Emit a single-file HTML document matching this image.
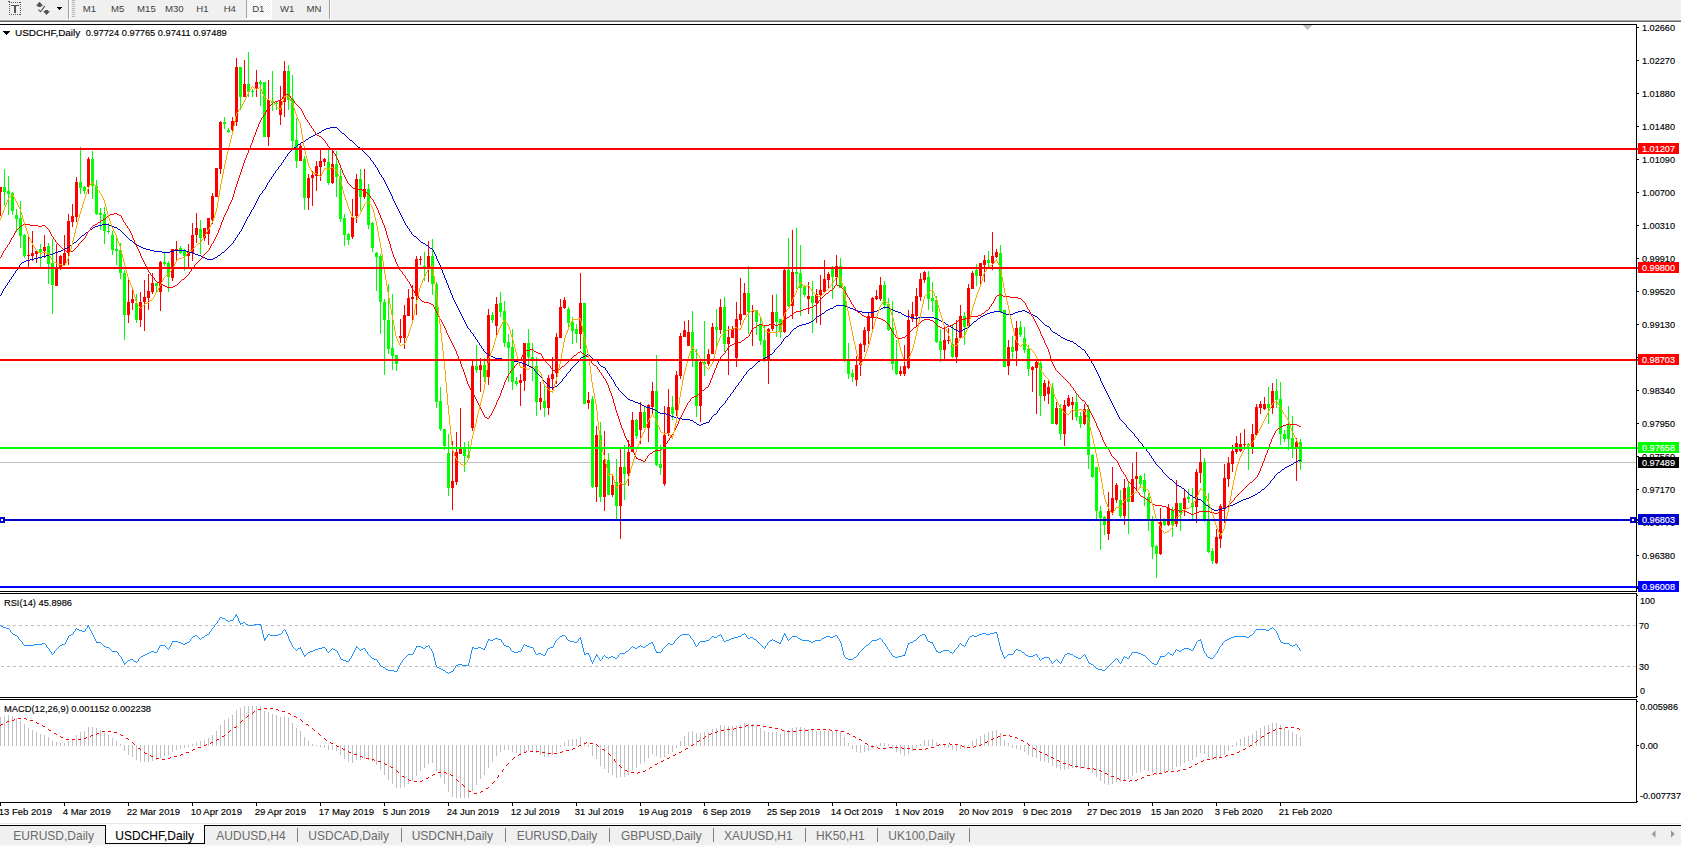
<!DOCTYPE html>
<html><head><meta charset="utf-8"><title>USDCHF,Daily</title>
<style>
html,body{margin:0;padding:0;background:#fff;overflow:hidden}
body{width:1681px;height:847px;position:relative;font-family:"Liberation Sans",sans-serif}
svg{position:absolute;left:0;top:0;display:block;font-family:"Liberation Sans",sans-serif}
svg rect,svg polyline,svg line{shape-rendering:crispEdges}
</style></head><body>
<svg width="1681" height="847" viewBox="0 0 1681 847">
<rect x="0" y="0" width="1681" height="20" fill="#f0f0f0"/>
<rect x="0" y="19" width="1681" height="1" fill="#f7f7f7"/>
<rect x="0" y="20" width="1681" height="1" fill="#a0a0a0"/>
<rect x="0" y="21" width="1681" height="1" fill="#696969"/>
<rect x="9" y="2" width="1" height="1" fill="#555555"/>
<rect x="9" y="14" width="1" height="1" fill="#555555"/>
<rect x="11" y="2" width="1" height="1" fill="#555555"/>
<rect x="11" y="14" width="1" height="1" fill="#555555"/>
<rect x="13" y="2" width="1" height="1" fill="#555555"/>
<rect x="13" y="14" width="1" height="1" fill="#555555"/>
<rect x="15" y="2" width="1" height="1" fill="#555555"/>
<rect x="15" y="14" width="1" height="1" fill="#555555"/>
<rect x="17" y="2" width="1" height="1" fill="#555555"/>
<rect x="17" y="14" width="1" height="1" fill="#555555"/>
<rect x="19" y="2" width="1" height="1" fill="#555555"/>
<rect x="19" y="14" width="1" height="1" fill="#555555"/>
<rect x="9" y="2" width="1" height="1" fill="#555555"/>
<rect x="20" y="2" width="1" height="1" fill="#555555"/>
<rect x="9" y="4" width="1" height="1" fill="#555555"/>
<rect x="20" y="4" width="1" height="1" fill="#555555"/>
<rect x="9" y="6" width="1" height="1" fill="#555555"/>
<rect x="20" y="6" width="1" height="1" fill="#555555"/>
<rect x="9" y="8" width="1" height="1" fill="#555555"/>
<rect x="20" y="8" width="1" height="1" fill="#555555"/>
<rect x="9" y="10" width="1" height="1" fill="#555555"/>
<rect x="20" y="10" width="1" height="1" fill="#555555"/>
<rect x="9" y="12" width="1" height="1" fill="#555555"/>
<rect x="20" y="12" width="1" height="1" fill="#555555"/>
<rect x="9" y="14" width="1" height="1" fill="#555555"/>
<rect x="20" y="14" width="1" height="1" fill="#555555"/>
<rect x="8" y="1" width="2" height="1" fill="#555555"/>
<rect x="11" y="5" width="8" height="1" fill="#555555"/>
<rect x="14" y="5" width="2" height="8" fill="#555555"/>
<path d="M39.5 1.8 L43.2 5.8 L41.3 5.8 L41.3 6.9 L37.8 6.9 L37.8 5.8 L35.9 5.8 Z" fill="#555"/>
<path d="M46.5 15 L50.1 11.3 L48.2 11.3 L48.2 10 L44.8 10 L44.8 11.3 L43 11.3 Z" fill="#555"/>
<path d="M38.2 9.7 L40.5 11.6 L44.8 6.2" fill="none" stroke="#555" stroke-width="1.1" shape-rendering="geometricPrecision"/>
<rect x="57" y="7" width="5" height="1" fill="#000"/>
<rect x="58" y="8" width="3" height="1" fill="#000"/>
<rect x="59" y="9" width="1" height="1" fill="#000"/>
<rect x="68" y="0" width="1" height="19" fill="#a0a0a0"/>
<rect x="69" y="0" width="1" height="19" fill="#ffffff"/>
<rect x="72" y="0" width="3" height="1" fill="#b4b4b4"/>
<rect x="72" y="2" width="3" height="1" fill="#b4b4b4"/>
<rect x="72" y="4" width="3" height="1" fill="#b4b4b4"/>
<rect x="72" y="6" width="3" height="1" fill="#b4b4b4"/>
<rect x="72" y="8" width="3" height="1" fill="#b4b4b4"/>
<rect x="72" y="10" width="3" height="1" fill="#b4b4b4"/>
<rect x="72" y="12" width="3" height="1" fill="#b4b4b4"/>
<rect x="72" y="14" width="3" height="1" fill="#b4b4b4"/>
<rect x="72" y="16" width="3" height="1" fill="#b4b4b4"/>
<pattern id="dz" width="2" height="2" patternUnits="userSpaceOnUse"><rect width="2" height="2" fill="#f0f0f0"/><rect width="1" height="1" fill="#fff"/><rect x="1" y="1" width="1" height="1" fill="#fff"/></pattern>
<rect x="247" y="0" width="24" height="18" fill="url(#dz)"/>
<rect x="246" y="0" width="1" height="18" fill="#a0a0a0"/>
<rect x="271" y="0" width="1" height="19" fill="#ffffff"/>
<rect x="246" y="18" width="26" height="1" fill="#ffffff"/>
<rect x="329" y="0" width="1" height="19" fill="#a0a0a0"/>
<rect x="330" y="0" width="1" height="19" fill="#ffffff"/>
<g opacity="0.999">
<text x="82.83" y="12" font-size="9.4" fill="#404040" textLength="13.34" lengthAdjust="spacingAndGlyphs" xml:space="preserve" stroke="#404040" stroke-width="0" >M1</text>
<text x="111.03" y="12" font-size="9.4" fill="#404040" textLength="13.34" lengthAdjust="spacingAndGlyphs" xml:space="preserve" stroke="#404040" stroke-width="0" >M5</text>
<text x="137.06" y="12" font-size="9.4" fill="#404040" textLength="18.68" lengthAdjust="spacingAndGlyphs" xml:space="preserve" stroke="#404040" stroke-width="0" >M15</text>
<text x="164.96" y="12" font-size="9.4" fill="#404040" textLength="18.68" lengthAdjust="spacingAndGlyphs" xml:space="preserve" stroke="#404040" stroke-width="0" >M30</text>
<text x="196.36" y="12" font-size="9.4" fill="#404040" textLength="12.27" lengthAdjust="spacingAndGlyphs" xml:space="preserve" stroke="#404040" stroke-width="0" >H1</text>
<text x="223.66" y="12" font-size="9.4" fill="#404040" textLength="12.27" lengthAdjust="spacingAndGlyphs" xml:space="preserve" stroke="#404040" stroke-width="0" >H4</text>
<text x="252.16" y="12" font-size="9.4" fill="#404040" textLength="12.27" lengthAdjust="spacingAndGlyphs" xml:space="preserve" stroke="#404040" stroke-width="0" >D1</text>
<text x="279.90" y="12" font-size="9.4" fill="#404040" textLength="14.40" lengthAdjust="spacingAndGlyphs" xml:space="preserve" stroke="#404040" stroke-width="0" >W1</text>
<text x="306.54" y="12" font-size="9.4" fill="#404040" textLength="14.93" lengthAdjust="spacingAndGlyphs" xml:space="preserve" stroke="#404040" stroke-width="0" >MN</text>
</g>
<rect x="0" y="24" width="1637" height="1" fill="#000"/>
<rect x="1636" y="24" width="1" height="568" fill="#000"/>
<rect x="0" y="591" width="1637" height="1" fill="#000"/>
<rect x="0" y="593" width="1637" height="1" fill="#000"/>
<rect x="1636" y="593" width="1" height="105" fill="#000"/>
<rect x="0" y="697" width="1637" height="1" fill="#000"/>
<rect x="0" y="699" width="1637" height="1" fill="#000"/>
<rect x="1636" y="699" width="1" height="104" fill="#000"/>
<rect x="0" y="802" width="1637" height="1" fill="#000"/>
<rect x="1303" y="25" width="9" height="1" fill="#c0c0c0"/>
<rect x="1304" y="26" width="7" height="1" fill="#c0c0c0"/>
<rect x="1305" y="27" width="5" height="1" fill="#c0c0c0"/>
<rect x="1306" y="28" width="3" height="1" fill="#c0c0c0"/>
<rect x="1307" y="29" width="1" height="1" fill="#c0c0c0"/>
<rect x="0" y="462" width="1636" height="1" fill="#c0c0c0"/>
<rect x="0" y="187" width="1" height="29" fill="#ff0000"/>
<rect x="-1" y="187" width="3" height="5" fill="#ff0000"/>
<rect x="4" y="169" width="1" height="37" fill="#00ff00"/>
<rect x="3" y="187" width="3" height="5" fill="#00ff00"/>
<rect x="8" y="176" width="1" height="39" fill="#00ff00"/>
<rect x="7" y="191" width="3" height="3" fill="#00ff00"/>
<rect x="12" y="192" width="1" height="23" fill="#00ff00"/>
<rect x="11" y="193" width="3" height="18" fill="#00ff00"/>
<rect x="16" y="209" width="1" height="23" fill="#00ff00"/>
<rect x="15" y="215" width="3" height="4" fill="#00ff00"/>
<rect x="20" y="201" width="1" height="47" fill="#00ff00"/>
<rect x="19" y="218" width="3" height="18" fill="#00ff00"/>
<rect x="24" y="234" width="1" height="24" fill="#00ff00"/>
<rect x="23" y="235" width="3" height="21" fill="#00ff00"/>
<rect x="28" y="235" width="1" height="32" fill="#ff0000"/>
<rect x="27" y="255" width="3" height="1" fill="#ff0000"/>
<rect x="32" y="231" width="1" height="30" fill="#ff0000"/>
<rect x="31" y="253" width="3" height="3" fill="#ff0000"/>
<rect x="36" y="250" width="1" height="13" fill="#ff0000"/>
<rect x="35" y="251" width="3" height="3" fill="#ff0000"/>
<rect x="40" y="244" width="1" height="23" fill="#00ff00"/>
<rect x="39" y="249" width="3" height="3" fill="#00ff00"/>
<rect x="44" y="235" width="1" height="23" fill="#ff0000"/>
<rect x="43" y="247" width="3" height="4" fill="#ff0000"/>
<rect x="48" y="243" width="1" height="41" fill="#00ff00"/>
<rect x="47" y="246" width="3" height="18" fill="#00ff00"/>
<rect x="52" y="239" width="1" height="75" fill="#00ff00"/>
<rect x="51" y="263" width="3" height="22" fill="#00ff00"/>
<rect x="56" y="244" width="1" height="42" fill="#ff0000"/>
<rect x="55" y="268" width="3" height="18" fill="#ff0000"/>
<rect x="60" y="255" width="1" height="15" fill="#ff0000"/>
<rect x="59" y="256" width="3" height="13" fill="#ff0000"/>
<rect x="64" y="235" width="1" height="31" fill="#ff0000"/>
<rect x="63" y="253" width="3" height="12" fill="#ff0000"/>
<rect x="68" y="214" width="1" height="51" fill="#ff0000"/>
<rect x="67" y="221" width="3" height="32" fill="#ff0000"/>
<rect x="72" y="204" width="1" height="23" fill="#ff0000"/>
<rect x="71" y="216" width="3" height="6" fill="#ff0000"/>
<rect x="76" y="177" width="1" height="45" fill="#ff0000"/>
<rect x="75" y="182" width="3" height="35" fill="#ff0000"/>
<rect x="80" y="147" width="1" height="47" fill="#00ff00"/>
<rect x="79" y="182" width="3" height="6" fill="#00ff00"/>
<rect x="84" y="186" width="1" height="8" fill="#00ff00"/>
<rect x="83" y="187" width="3" height="4" fill="#00ff00"/>
<rect x="88" y="157" width="1" height="37" fill="#ff0000"/>
<rect x="87" y="159" width="3" height="28" fill="#ff0000"/>
<rect x="92" y="151" width="1" height="48" fill="#00ff00"/>
<rect x="91" y="159" width="3" height="27" fill="#00ff00"/>
<rect x="96" y="180" width="1" height="35" fill="#00ff00"/>
<rect x="95" y="186" width="3" height="28" fill="#00ff00"/>
<rect x="100" y="208" width="1" height="22" fill="#00ff00"/>
<rect x="99" y="213" width="3" height="2" fill="#00ff00"/>
<rect x="104" y="207" width="1" height="37" fill="#00ff00"/>
<rect x="103" y="214" width="3" height="17" fill="#00ff00"/>
<rect x="108" y="223" width="1" height="11" fill="#00ff00"/>
<rect x="107" y="231" width="3" height="1" fill="#00ff00"/>
<rect x="112" y="231" width="1" height="24" fill="#00ff00"/>
<rect x="111" y="235" width="3" height="15" fill="#00ff00"/>
<rect x="116" y="237" width="1" height="28" fill="#00ff00"/>
<rect x="115" y="249" width="3" height="2" fill="#00ff00"/>
<rect x="120" y="243" width="1" height="36" fill="#00ff00"/>
<rect x="119" y="250" width="3" height="23" fill="#00ff00"/>
<rect x="124" y="270" width="1" height="70" fill="#00ff00"/>
<rect x="123" y="273" width="3" height="42" fill="#00ff00"/>
<rect x="128" y="280" width="1" height="43" fill="#ff0000"/>
<rect x="127" y="302" width="3" height="13" fill="#ff0000"/>
<rect x="132" y="290" width="1" height="20" fill="#ff0000"/>
<rect x="131" y="299" width="3" height="4" fill="#ff0000"/>
<rect x="136" y="294" width="1" height="29" fill="#00ff00"/>
<rect x="135" y="303" width="3" height="17" fill="#00ff00"/>
<rect x="140" y="292" width="1" height="35" fill="#ff0000"/>
<rect x="139" y="302" width="3" height="18" fill="#ff0000"/>
<rect x="144" y="280" width="1" height="51" fill="#ff0000"/>
<rect x="143" y="297" width="3" height="5" fill="#ff0000"/>
<rect x="148" y="274" width="1" height="36" fill="#ff0000"/>
<rect x="147" y="291" width="3" height="7" fill="#ff0000"/>
<rect x="152" y="273" width="1" height="21" fill="#ff0000"/>
<rect x="151" y="283" width="3" height="9" fill="#ff0000"/>
<rect x="156" y="283" width="1" height="10" fill="#00ff00"/>
<rect x="155" y="283" width="3" height="3" fill="#00ff00"/>
<rect x="160" y="261" width="1" height="50" fill="#ff0000"/>
<rect x="159" y="262" width="3" height="30" fill="#ff0000"/>
<rect x="164" y="253" width="1" height="13" fill="#00ff00"/>
<rect x="163" y="262" width="3" height="2" fill="#00ff00"/>
<rect x="168" y="261" width="1" height="31" fill="#00ff00"/>
<rect x="167" y="263" width="3" height="14" fill="#00ff00"/>
<rect x="172" y="249" width="1" height="32" fill="#ff0000"/>
<rect x="171" y="249" width="3" height="29" fill="#ff0000"/>
<rect x="176" y="241" width="1" height="21" fill="#ff0000"/>
<rect x="175" y="249" width="3" height="1" fill="#ff0000"/>
<rect x="180" y="246" width="1" height="8" fill="#00ff00"/>
<rect x="179" y="248" width="3" height="5" fill="#00ff00"/>
<rect x="184" y="249" width="1" height="22" fill="#00ff00"/>
<rect x="183" y="251" width="3" height="5" fill="#00ff00"/>
<rect x="188" y="244" width="1" height="24" fill="#ff0000"/>
<rect x="187" y="251" width="3" height="5" fill="#ff0000"/>
<rect x="192" y="223" width="1" height="38" fill="#ff0000"/>
<rect x="191" y="235" width="3" height="18" fill="#ff0000"/>
<rect x="196" y="213" width="1" height="30" fill="#ff0000"/>
<rect x="195" y="228" width="3" height="7" fill="#ff0000"/>
<rect x="200" y="220" width="1" height="34" fill="#00ff00"/>
<rect x="199" y="229" width="3" height="9" fill="#00ff00"/>
<rect x="204" y="228" width="1" height="13" fill="#ff0000"/>
<rect x="203" y="228" width="3" height="10" fill="#ff0000"/>
<rect x="208" y="218" width="1" height="27" fill="#ff0000"/>
<rect x="207" y="218" width="3" height="16" fill="#ff0000"/>
<rect x="212" y="193" width="1" height="31" fill="#ff0000"/>
<rect x="211" y="196" width="3" height="24" fill="#ff0000"/>
<rect x="216" y="168" width="1" height="29" fill="#ff0000"/>
<rect x="215" y="168" width="3" height="29" fill="#ff0000"/>
<rect x="220" y="121" width="1" height="53" fill="#ff0000"/>
<rect x="219" y="122" width="3" height="47" fill="#ff0000"/>
<rect x="224" y="117" width="1" height="12" fill="#00ff00"/>
<rect x="223" y="122" width="3" height="2" fill="#00ff00"/>
<rect x="228" y="128" width="1" height="5" fill="#00ff00"/>
<rect x="227" y="130" width="3" height="2" fill="#00ff00"/>
<rect x="232" y="117" width="1" height="14" fill="#ff0000"/>
<rect x="231" y="121" width="3" height="9" fill="#ff0000"/>
<rect x="236" y="58" width="1" height="68" fill="#ff0000"/>
<rect x="235" y="67" width="3" height="55" fill="#ff0000"/>
<rect x="240" y="67" width="1" height="43" fill="#00ff00"/>
<rect x="239" y="67" width="3" height="30" fill="#00ff00"/>
<rect x="244" y="60" width="1" height="37" fill="#ff0000"/>
<rect x="243" y="84" width="3" height="13" fill="#ff0000"/>
<rect x="248" y="52" width="1" height="45" fill="#00ff00"/>
<rect x="247" y="84" width="3" height="8" fill="#00ff00"/>
<rect x="252" y="89" width="1" height="8" fill="#00ff00"/>
<rect x="251" y="91" width="3" height="1" fill="#00ff00"/>
<rect x="256" y="70" width="1" height="27" fill="#ff0000"/>
<rect x="255" y="82" width="3" height="6" fill="#ff0000"/>
<rect x="260" y="80" width="1" height="26" fill="#00ff00"/>
<rect x="259" y="82" width="3" height="2" fill="#00ff00"/>
<rect x="264" y="82" width="1" height="55" fill="#00ff00"/>
<rect x="263" y="82" width="3" height="55" fill="#00ff00"/>
<rect x="268" y="80" width="1" height="66" fill="#ff0000"/>
<rect x="267" y="100" width="3" height="37" fill="#ff0000"/>
<rect x="272" y="71" width="1" height="40" fill="#00ff00"/>
<rect x="271" y="101" width="3" height="2" fill="#00ff00"/>
<rect x="276" y="102" width="1" height="8" fill="#00ff00"/>
<rect x="275" y="103" width="3" height="1" fill="#00ff00"/>
<rect x="280" y="86" width="1" height="39" fill="#ff0000"/>
<rect x="279" y="101" width="3" height="14" fill="#ff0000"/>
<rect x="284" y="61" width="1" height="56" fill="#ff0000"/>
<rect x="283" y="71" width="3" height="31" fill="#ff0000"/>
<rect x="288" y="65" width="1" height="45" fill="#00ff00"/>
<rect x="287" y="71" width="3" height="29" fill="#00ff00"/>
<rect x="292" y="75" width="1" height="73" fill="#00ff00"/>
<rect x="291" y="99" width="3" height="42" fill="#00ff00"/>
<rect x="296" y="118" width="1" height="50" fill="#00ff00"/>
<rect x="295" y="140" width="3" height="21" fill="#00ff00"/>
<rect x="300" y="143" width="1" height="18" fill="#ff0000"/>
<rect x="299" y="146" width="3" height="15" fill="#ff0000"/>
<rect x="304" y="156" width="1" height="54" fill="#00ff00"/>
<rect x="303" y="159" width="3" height="39" fill="#00ff00"/>
<rect x="308" y="174" width="1" height="36" fill="#ff0000"/>
<rect x="307" y="178" width="3" height="20" fill="#ff0000"/>
<rect x="312" y="171" width="1" height="35" fill="#ff0000"/>
<rect x="311" y="175" width="3" height="3" fill="#ff0000"/>
<rect x="316" y="161" width="1" height="30" fill="#ff0000"/>
<rect x="315" y="166" width="3" height="10" fill="#ff0000"/>
<rect x="320" y="150" width="1" height="31" fill="#ff0000"/>
<rect x="319" y="161" width="3" height="6" fill="#ff0000"/>
<rect x="324" y="158" width="1" height="8" fill="#ff0000"/>
<rect x="323" y="159" width="3" height="3" fill="#ff0000"/>
<rect x="328" y="150" width="1" height="35" fill="#00ff00"/>
<rect x="327" y="162" width="3" height="21" fill="#00ff00"/>
<rect x="332" y="150" width="1" height="34" fill="#ff0000"/>
<rect x="331" y="164" width="3" height="19" fill="#ff0000"/>
<rect x="336" y="151" width="1" height="46" fill="#00ff00"/>
<rect x="335" y="164" width="3" height="13" fill="#00ff00"/>
<rect x="340" y="169" width="1" height="53" fill="#00ff00"/>
<rect x="339" y="176" width="3" height="43" fill="#00ff00"/>
<rect x="344" y="214" width="1" height="32" fill="#00ff00"/>
<rect x="343" y="218" width="3" height="17" fill="#00ff00"/>
<rect x="348" y="233" width="1" height="12" fill="#00ff00"/>
<rect x="347" y="234" width="3" height="6" fill="#00ff00"/>
<rect x="352" y="199" width="1" height="40" fill="#ff0000"/>
<rect x="351" y="217" width="3" height="20" fill="#ff0000"/>
<rect x="356" y="174" width="1" height="49" fill="#ff0000"/>
<rect x="355" y="179" width="3" height="37" fill="#ff0000"/>
<rect x="360" y="169" width="1" height="42" fill="#00ff00"/>
<rect x="359" y="179" width="3" height="18" fill="#00ff00"/>
<rect x="364" y="169" width="1" height="30" fill="#ff0000"/>
<rect x="363" y="189" width="3" height="8" fill="#ff0000"/>
<rect x="368" y="184" width="1" height="45" fill="#00ff00"/>
<rect x="367" y="189" width="3" height="36" fill="#00ff00"/>
<rect x="372" y="222" width="1" height="30" fill="#00ff00"/>
<rect x="371" y="223" width="3" height="25" fill="#00ff00"/>
<rect x="376" y="252" width="1" height="39" fill="#00ff00"/>
<rect x="375" y="253" width="3" height="4" fill="#00ff00"/>
<rect x="380" y="254" width="1" height="80" fill="#00ff00"/>
<rect x="379" y="256" width="3" height="46" fill="#00ff00"/>
<rect x="384" y="299" width="1" height="76" fill="#00ff00"/>
<rect x="383" y="302" width="3" height="18" fill="#00ff00"/>
<rect x="388" y="284" width="1" height="70" fill="#00ff00"/>
<rect x="387" y="320" width="3" height="29" fill="#00ff00"/>
<rect x="392" y="294" width="1" height="76" fill="#00ff00"/>
<rect x="391" y="348" width="3" height="8" fill="#00ff00"/>
<rect x="396" y="355" width="1" height="16" fill="#00ff00"/>
<rect x="395" y="355" width="3" height="9" fill="#00ff00"/>
<rect x="400" y="319" width="1" height="24" fill="#ff0000"/>
<rect x="399" y="336" width="3" height="2" fill="#ff0000"/>
<rect x="404" y="305" width="1" height="44" fill="#ff0000"/>
<rect x="403" y="315" width="3" height="23" fill="#ff0000"/>
<rect x="408" y="289" width="1" height="27" fill="#ff0000"/>
<rect x="407" y="298" width="3" height="18" fill="#ff0000"/>
<rect x="412" y="285" width="1" height="35" fill="#ff0000"/>
<rect x="411" y="297" width="3" height="2" fill="#ff0000"/>
<rect x="416" y="256" width="1" height="59" fill="#ff0000"/>
<rect x="415" y="259" width="3" height="37" fill="#ff0000"/>
<rect x="420" y="256" width="1" height="9" fill="#ff0000"/>
<rect x="419" y="259" width="3" height="1" fill="#ff0000"/>
<rect x="424" y="252" width="1" height="29" fill="#00ff00"/>
<rect x="423" y="266" width="3" height="1" fill="#00ff00"/>
<rect x="428" y="241" width="1" height="41" fill="#ff0000"/>
<rect x="427" y="256" width="3" height="12" fill="#ff0000"/>
<rect x="432" y="239" width="1" height="56" fill="#00ff00"/>
<rect x="431" y="256" width="3" height="28" fill="#00ff00"/>
<rect x="436" y="282" width="1" height="126" fill="#00ff00"/>
<rect x="435" y="284" width="3" height="118" fill="#00ff00"/>
<rect x="440" y="387" width="1" height="44" fill="#00ff00"/>
<rect x="439" y="401" width="3" height="28" fill="#00ff00"/>
<rect x="444" y="429" width="1" height="21" fill="#00ff00"/>
<rect x="443" y="429" width="3" height="17" fill="#00ff00"/>
<rect x="448" y="434" width="1" height="62" fill="#00ff00"/>
<rect x="447" y="453" width="3" height="35" fill="#00ff00"/>
<rect x="452" y="441" width="1" height="69" fill="#ff0000"/>
<rect x="451" y="481" width="3" height="7" fill="#ff0000"/>
<rect x="456" y="432" width="1" height="53" fill="#ff0000"/>
<rect x="455" y="452" width="3" height="30" fill="#ff0000"/>
<rect x="460" y="408" width="1" height="46" fill="#ff0000"/>
<rect x="459" y="449" width="3" height="5" fill="#ff0000"/>
<rect x="464" y="442" width="1" height="30" fill="#00ff00"/>
<rect x="463" y="448" width="3" height="8" fill="#00ff00"/>
<rect x="468" y="441" width="1" height="18" fill="#00ff00"/>
<rect x="467" y="455" width="3" height="3" fill="#00ff00"/>
<rect x="472" y="360" width="1" height="71" fill="#ff0000"/>
<rect x="471" y="366" width="3" height="62" fill="#ff0000"/>
<rect x="476" y="345" width="1" height="28" fill="#00ff00"/>
<rect x="475" y="366" width="3" height="4" fill="#00ff00"/>
<rect x="480" y="358" width="1" height="34" fill="#ff0000"/>
<rect x="479" y="365" width="3" height="5" fill="#ff0000"/>
<rect x="484" y="358" width="1" height="24" fill="#00ff00"/>
<rect x="483" y="365" width="3" height="12" fill="#00ff00"/>
<rect x="488" y="309" width="1" height="76" fill="#ff0000"/>
<rect x="487" y="315" width="3" height="62" fill="#ff0000"/>
<rect x="492" y="312" width="1" height="11" fill="#00ff00"/>
<rect x="491" y="315" width="3" height="5" fill="#00ff00"/>
<rect x="496" y="297" width="1" height="38" fill="#ff0000"/>
<rect x="495" y="304" width="3" height="22" fill="#ff0000"/>
<rect x="500" y="292" width="1" height="25" fill="#00ff00"/>
<rect x="499" y="303" width="3" height="9" fill="#00ff00"/>
<rect x="504" y="301" width="1" height="46" fill="#00ff00"/>
<rect x="503" y="311" width="3" height="32" fill="#00ff00"/>
<rect x="508" y="334" width="1" height="48" fill="#00ff00"/>
<rect x="507" y="342" width="3" height="6" fill="#00ff00"/>
<rect x="512" y="329" width="1" height="61" fill="#00ff00"/>
<rect x="511" y="347" width="3" height="35" fill="#00ff00"/>
<rect x="516" y="377" width="1" height="9" fill="#00ff00"/>
<rect x="515" y="381" width="3" height="3" fill="#00ff00"/>
<rect x="520" y="374" width="1" height="32" fill="#ff0000"/>
<rect x="519" y="380" width="3" height="3" fill="#ff0000"/>
<rect x="524" y="343" width="1" height="48" fill="#ff0000"/>
<rect x="523" y="343" width="3" height="38" fill="#ff0000"/>
<rect x="528" y="329" width="1" height="36" fill="#00ff00"/>
<rect x="527" y="343" width="3" height="14" fill="#00ff00"/>
<rect x="532" y="343" width="1" height="38" fill="#00ff00"/>
<rect x="531" y="357" width="3" height="3" fill="#00ff00"/>
<rect x="536" y="357" width="1" height="59" fill="#00ff00"/>
<rect x="535" y="366" width="3" height="36" fill="#00ff00"/>
<rect x="540" y="382" width="1" height="28" fill="#ff0000"/>
<rect x="539" y="398" width="3" height="4" fill="#ff0000"/>
<rect x="544" y="385" width="1" height="32" fill="#00ff00"/>
<rect x="543" y="401" width="3" height="7" fill="#00ff00"/>
<rect x="548" y="375" width="1" height="40" fill="#ff0000"/>
<rect x="547" y="378" width="3" height="30" fill="#ff0000"/>
<rect x="552" y="357" width="1" height="33" fill="#ff0000"/>
<rect x="551" y="374" width="3" height="5" fill="#ff0000"/>
<rect x="556" y="333" width="1" height="51" fill="#ff0000"/>
<rect x="555" y="337" width="3" height="36" fill="#ff0000"/>
<rect x="560" y="299" width="1" height="39" fill="#ff0000"/>
<rect x="559" y="307" width="3" height="31" fill="#ff0000"/>
<rect x="564" y="297" width="1" height="12" fill="#ff0000"/>
<rect x="563" y="300" width="3" height="8" fill="#ff0000"/>
<rect x="568" y="307" width="1" height="20" fill="#00ff00"/>
<rect x="567" y="309" width="3" height="14" fill="#00ff00"/>
<rect x="572" y="317" width="1" height="27" fill="#00ff00"/>
<rect x="571" y="322" width="3" height="9" fill="#00ff00"/>
<rect x="576" y="324" width="1" height="19" fill="#00ff00"/>
<rect x="575" y="329" width="3" height="5" fill="#00ff00"/>
<rect x="580" y="273" width="1" height="76" fill="#ff0000"/>
<rect x="579" y="303" width="3" height="31" fill="#ff0000"/>
<rect x="584" y="303" width="1" height="101" fill="#00ff00"/>
<rect x="583" y="303" width="3" height="101" fill="#00ff00"/>
<rect x="588" y="392" width="1" height="17" fill="#ff0000"/>
<rect x="587" y="400" width="3" height="3" fill="#ff0000"/>
<rect x="592" y="396" width="1" height="92" fill="#00ff00"/>
<rect x="591" y="399" width="3" height="88" fill="#00ff00"/>
<rect x="596" y="426" width="1" height="76" fill="#ff0000"/>
<rect x="595" y="435" width="3" height="52" fill="#ff0000"/>
<rect x="600" y="422" width="1" height="80" fill="#00ff00"/>
<rect x="599" y="435" width="3" height="62" fill="#00ff00"/>
<rect x="604" y="431" width="1" height="80" fill="#ff0000"/>
<rect x="603" y="460" width="3" height="37" fill="#ff0000"/>
<rect x="608" y="453" width="1" height="42" fill="#00ff00"/>
<rect x="607" y="460" width="3" height="35" fill="#00ff00"/>
<rect x="612" y="476" width="1" height="21" fill="#ff0000"/>
<rect x="611" y="485" width="3" height="10" fill="#ff0000"/>
<rect x="616" y="459" width="1" height="60" fill="#00ff00"/>
<rect x="615" y="482" width="3" height="24" fill="#00ff00"/>
<rect x="620" y="449" width="1" height="90" fill="#ff0000"/>
<rect x="619" y="467" width="3" height="39" fill="#ff0000"/>
<rect x="624" y="445" width="1" height="55" fill="#00ff00"/>
<rect x="623" y="467" width="3" height="7" fill="#00ff00"/>
<rect x="628" y="440" width="1" height="46" fill="#ff0000"/>
<rect x="627" y="452" width="3" height="22" fill="#ff0000"/>
<rect x="632" y="412" width="1" height="40" fill="#ff0000"/>
<rect x="631" y="420" width="3" height="32" fill="#ff0000"/>
<rect x="636" y="419" width="1" height="20" fill="#00ff00"/>
<rect x="635" y="420" width="3" height="16" fill="#00ff00"/>
<rect x="640" y="402" width="1" height="42" fill="#ff0000"/>
<rect x="639" y="412" width="3" height="18" fill="#ff0000"/>
<rect x="644" y="406" width="1" height="22" fill="#00ff00"/>
<rect x="643" y="412" width="3" height="16" fill="#00ff00"/>
<rect x="648" y="404" width="1" height="38" fill="#ff0000"/>
<rect x="647" y="405" width="3" height="23" fill="#ff0000"/>
<rect x="652" y="382" width="1" height="32" fill="#ff0000"/>
<rect x="651" y="391" width="3" height="16" fill="#ff0000"/>
<rect x="656" y="355" width="1" height="111" fill="#00ff00"/>
<rect x="655" y="391" width="3" height="74" fill="#00ff00"/>
<rect x="660" y="445" width="1" height="30" fill="#00ff00"/>
<rect x="659" y="464" width="3" height="4" fill="#00ff00"/>
<rect x="664" y="406" width="1" height="80" fill="#ff0000"/>
<rect x="663" y="435" width="3" height="49" fill="#ff0000"/>
<rect x="668" y="389" width="1" height="47" fill="#ff0000"/>
<rect x="667" y="407" width="3" height="26" fill="#ff0000"/>
<rect x="672" y="396" width="1" height="24" fill="#00ff00"/>
<rect x="671" y="407" width="3" height="7" fill="#00ff00"/>
<rect x="676" y="371" width="1" height="45" fill="#ff0000"/>
<rect x="675" y="375" width="3" height="35" fill="#ff0000"/>
<rect x="680" y="333" width="1" height="46" fill="#ff0000"/>
<rect x="679" y="336" width="3" height="40" fill="#ff0000"/>
<rect x="684" y="321" width="1" height="16" fill="#ff0000"/>
<rect x="683" y="330" width="3" height="7" fill="#ff0000"/>
<rect x="688" y="320" width="1" height="26" fill="#ff0000"/>
<rect x="687" y="332" width="3" height="14" fill="#ff0000"/>
<rect x="692" y="311" width="1" height="56" fill="#00ff00"/>
<rect x="691" y="332" width="3" height="27" fill="#00ff00"/>
<rect x="696" y="349" width="1" height="68" fill="#00ff00"/>
<rect x="695" y="359" width="3" height="47" fill="#00ff00"/>
<rect x="700" y="361" width="1" height="61" fill="#ff0000"/>
<rect x="699" y="362" width="3" height="44" fill="#ff0000"/>
<rect x="704" y="321" width="1" height="55" fill="#00ff00"/>
<rect x="703" y="362" width="3" height="2" fill="#00ff00"/>
<rect x="708" y="349" width="1" height="17" fill="#ff0000"/>
<rect x="707" y="354" width="3" height="10" fill="#ff0000"/>
<rect x="712" y="323" width="1" height="31" fill="#ff0000"/>
<rect x="711" y="327" width="3" height="27" fill="#ff0000"/>
<rect x="716" y="309" width="1" height="37" fill="#00ff00"/>
<rect x="715" y="327" width="3" height="3" fill="#00ff00"/>
<rect x="720" y="299" width="1" height="35" fill="#ff0000"/>
<rect x="719" y="307" width="3" height="23" fill="#ff0000"/>
<rect x="724" y="297" width="1" height="55" fill="#00ff00"/>
<rect x="723" y="307" width="3" height="37" fill="#00ff00"/>
<rect x="728" y="326" width="1" height="49" fill="#ff0000"/>
<rect x="727" y="337" width="3" height="7" fill="#ff0000"/>
<rect x="732" y="326" width="1" height="12" fill="#ff0000"/>
<rect x="731" y="329" width="3" height="9" fill="#ff0000"/>
<rect x="736" y="302" width="1" height="65" fill="#ff0000"/>
<rect x="735" y="319" width="3" height="39" fill="#ff0000"/>
<rect x="740" y="278" width="1" height="47" fill="#ff0000"/>
<rect x="739" y="314" width="3" height="6" fill="#ff0000"/>
<rect x="744" y="283" width="1" height="32" fill="#ff0000"/>
<rect x="743" y="293" width="3" height="22" fill="#ff0000"/>
<rect x="748" y="266" width="1" height="68" fill="#00ff00"/>
<rect x="747" y="293" width="3" height="19" fill="#00ff00"/>
<rect x="752" y="305" width="1" height="41" fill="#ff0000"/>
<rect x="751" y="311" width="3" height="1" fill="#ff0000"/>
<rect x="756" y="310" width="1" height="25" fill="#00ff00"/>
<rect x="755" y="310" width="3" height="12" fill="#00ff00"/>
<rect x="760" y="317" width="1" height="28" fill="#00ff00"/>
<rect x="759" y="324" width="3" height="17" fill="#00ff00"/>
<rect x="764" y="325" width="1" height="37" fill="#00ff00"/>
<rect x="763" y="340" width="3" height="19" fill="#00ff00"/>
<rect x="768" y="328" width="1" height="56" fill="#ff0000"/>
<rect x="767" y="329" width="3" height="30" fill="#ff0000"/>
<rect x="772" y="295" width="1" height="36" fill="#ff0000"/>
<rect x="771" y="312" width="3" height="17" fill="#ff0000"/>
<rect x="776" y="294" width="1" height="43" fill="#00ff00"/>
<rect x="775" y="312" width="3" height="10" fill="#00ff00"/>
<rect x="780" y="319" width="1" height="19" fill="#00ff00"/>
<rect x="779" y="319" width="3" height="13" fill="#00ff00"/>
<rect x="784" y="269" width="1" height="64" fill="#ff0000"/>
<rect x="783" y="270" width="3" height="62" fill="#ff0000"/>
<rect x="788" y="238" width="1" height="69" fill="#00ff00"/>
<rect x="787" y="270" width="3" height="36" fill="#00ff00"/>
<rect x="792" y="230" width="1" height="89" fill="#ff0000"/>
<rect x="791" y="272" width="3" height="34" fill="#ff0000"/>
<rect x="796" y="228" width="1" height="61" fill="#00ff00"/>
<rect x="795" y="272" width="3" height="2" fill="#00ff00"/>
<rect x="800" y="245" width="1" height="71" fill="#00ff00"/>
<rect x="799" y="273" width="3" height="15" fill="#00ff00"/>
<rect x="804" y="285" width="1" height="12" fill="#00ff00"/>
<rect x="803" y="287" width="3" height="8" fill="#00ff00"/>
<rect x="808" y="282" width="1" height="32" fill="#ff0000"/>
<rect x="807" y="296" width="3" height="3" fill="#ff0000"/>
<rect x="812" y="281" width="1" height="52" fill="#00ff00"/>
<rect x="811" y="296" width="3" height="7" fill="#00ff00"/>
<rect x="816" y="289" width="1" height="34" fill="#ff0000"/>
<rect x="815" y="294" width="3" height="9" fill="#ff0000"/>
<rect x="820" y="275" width="1" height="50" fill="#ff0000"/>
<rect x="819" y="290" width="3" height="5" fill="#ff0000"/>
<rect x="824" y="260" width="1" height="32" fill="#ff0000"/>
<rect x="823" y="279" width="3" height="13" fill="#ff0000"/>
<rect x="828" y="272" width="1" height="17" fill="#ff0000"/>
<rect x="827" y="274" width="3" height="6" fill="#ff0000"/>
<rect x="832" y="266" width="1" height="33" fill="#00ff00"/>
<rect x="831" y="269" width="3" height="8" fill="#00ff00"/>
<rect x="836" y="255" width="1" height="30" fill="#ff0000"/>
<rect x="835" y="266" width="3" height="11" fill="#ff0000"/>
<rect x="840" y="258" width="1" height="30" fill="#00ff00"/>
<rect x="839" y="266" width="3" height="22" fill="#00ff00"/>
<rect x="844" y="286" width="1" height="76" fill="#00ff00"/>
<rect x="843" y="287" width="3" height="72" fill="#00ff00"/>
<rect x="848" y="343" width="1" height="36" fill="#00ff00"/>
<rect x="847" y="361" width="3" height="13" fill="#00ff00"/>
<rect x="852" y="369" width="1" height="13" fill="#00ff00"/>
<rect x="851" y="373" width="3" height="4" fill="#00ff00"/>
<rect x="856" y="356" width="1" height="30" fill="#ff0000"/>
<rect x="855" y="365" width="3" height="15" fill="#ff0000"/>
<rect x="860" y="343" width="1" height="33" fill="#ff0000"/>
<rect x="859" y="344" width="3" height="21" fill="#ff0000"/>
<rect x="864" y="327" width="1" height="25" fill="#ff0000"/>
<rect x="863" y="330" width="3" height="15" fill="#ff0000"/>
<rect x="868" y="312" width="1" height="32" fill="#ff0000"/>
<rect x="867" y="316" width="3" height="15" fill="#ff0000"/>
<rect x="872" y="297" width="1" height="33" fill="#ff0000"/>
<rect x="871" y="298" width="3" height="19" fill="#ff0000"/>
<rect x="876" y="290" width="1" height="10" fill="#ff0000"/>
<rect x="875" y="296" width="3" height="3" fill="#ff0000"/>
<rect x="880" y="277" width="1" height="24" fill="#ff0000"/>
<rect x="879" y="285" width="3" height="14" fill="#ff0000"/>
<rect x="884" y="281" width="1" height="28" fill="#00ff00"/>
<rect x="883" y="285" width="3" height="20" fill="#00ff00"/>
<rect x="888" y="298" width="1" height="33" fill="#00ff00"/>
<rect x="887" y="304" width="3" height="26" fill="#00ff00"/>
<rect x="892" y="301" width="1" height="69" fill="#00ff00"/>
<rect x="891" y="328" width="3" height="36" fill="#00ff00"/>
<rect x="896" y="340" width="1" height="35" fill="#00ff00"/>
<rect x="895" y="361" width="3" height="13" fill="#00ff00"/>
<rect x="900" y="366" width="1" height="10" fill="#ff0000"/>
<rect x="899" y="371" width="3" height="3" fill="#ff0000"/>
<rect x="904" y="345" width="1" height="31" fill="#ff0000"/>
<rect x="903" y="366" width="3" height="8" fill="#ff0000"/>
<rect x="908" y="310" width="1" height="59" fill="#ff0000"/>
<rect x="907" y="320" width="3" height="48" fill="#ff0000"/>
<rect x="912" y="302" width="1" height="20" fill="#ff0000"/>
<rect x="911" y="314" width="3" height="5" fill="#ff0000"/>
<rect x="916" y="288" width="1" height="39" fill="#ff0000"/>
<rect x="915" y="296" width="3" height="20" fill="#ff0000"/>
<rect x="920" y="273" width="1" height="28" fill="#ff0000"/>
<rect x="919" y="279" width="3" height="18" fill="#ff0000"/>
<rect x="924" y="271" width="1" height="12" fill="#ff0000"/>
<rect x="923" y="272" width="3" height="8" fill="#ff0000"/>
<rect x="928" y="271" width="1" height="39" fill="#00ff00"/>
<rect x="927" y="277" width="3" height="22" fill="#00ff00"/>
<rect x="932" y="282" width="1" height="30" fill="#00ff00"/>
<rect x="931" y="298" width="3" height="3" fill="#00ff00"/>
<rect x="936" y="296" width="1" height="47" fill="#00ff00"/>
<rect x="935" y="300" width="3" height="42" fill="#00ff00"/>
<rect x="940" y="329" width="1" height="33" fill="#00ff00"/>
<rect x="939" y="341" width="3" height="9" fill="#00ff00"/>
<rect x="944" y="327" width="1" height="32" fill="#ff0000"/>
<rect x="943" y="340" width="3" height="10" fill="#ff0000"/>
<rect x="948" y="328" width="1" height="16" fill="#ff0000"/>
<rect x="947" y="340" width="3" height="1" fill="#ff0000"/>
<rect x="952" y="324" width="1" height="34" fill="#00ff00"/>
<rect x="951" y="344" width="3" height="13" fill="#00ff00"/>
<rect x="956" y="320" width="1" height="43" fill="#ff0000"/>
<rect x="955" y="338" width="3" height="19" fill="#ff0000"/>
<rect x="960" y="305" width="1" height="34" fill="#ff0000"/>
<rect x="959" y="316" width="3" height="22" fill="#ff0000"/>
<rect x="964" y="312" width="1" height="33" fill="#00ff00"/>
<rect x="963" y="316" width="3" height="11" fill="#00ff00"/>
<rect x="968" y="284" width="1" height="43" fill="#ff0000"/>
<rect x="967" y="288" width="3" height="38" fill="#ff0000"/>
<rect x="972" y="271" width="1" height="18" fill="#ff0000"/>
<rect x="971" y="273" width="3" height="16" fill="#ff0000"/>
<rect x="976" y="264" width="1" height="22" fill="#00ff00"/>
<rect x="975" y="270" width="3" height="6" fill="#00ff00"/>
<rect x="980" y="263" width="1" height="21" fill="#ff0000"/>
<rect x="979" y="263" width="3" height="13" fill="#ff0000"/>
<rect x="984" y="255" width="1" height="27" fill="#ff0000"/>
<rect x="983" y="260" width="3" height="5" fill="#ff0000"/>
<rect x="988" y="251" width="1" height="16" fill="#00ff00"/>
<rect x="987" y="260" width="3" height="3" fill="#00ff00"/>
<rect x="992" y="232" width="1" height="38" fill="#ff0000"/>
<rect x="991" y="256" width="3" height="7" fill="#ff0000"/>
<rect x="996" y="249" width="1" height="9" fill="#ff0000"/>
<rect x="995" y="252" width="3" height="5" fill="#ff0000"/>
<rect x="1000" y="245" width="1" height="68" fill="#00ff00"/>
<rect x="999" y="253" width="3" height="59" fill="#00ff00"/>
<rect x="1004" y="310" width="1" height="57" fill="#00ff00"/>
<rect x="1003" y="310" width="3" height="57" fill="#00ff00"/>
<rect x="1008" y="340" width="1" height="35" fill="#ff0000"/>
<rect x="1007" y="347" width="3" height="19" fill="#ff0000"/>
<rect x="1012" y="336" width="1" height="23" fill="#00ff00"/>
<rect x="1011" y="347" width="3" height="5" fill="#00ff00"/>
<rect x="1016" y="321" width="1" height="45" fill="#ff0000"/>
<rect x="1015" y="328" width="3" height="23" fill="#ff0000"/>
<rect x="1020" y="321" width="1" height="16" fill="#00ff00"/>
<rect x="1019" y="327" width="3" height="8" fill="#00ff00"/>
<rect x="1024" y="327" width="1" height="26" fill="#00ff00"/>
<rect x="1023" y="338" width="3" height="12" fill="#00ff00"/>
<rect x="1028" y="345" width="1" height="31" fill="#00ff00"/>
<rect x="1027" y="349" width="3" height="20" fill="#00ff00"/>
<rect x="1032" y="366" width="1" height="26" fill="#ff0000"/>
<rect x="1031" y="367" width="3" height="3" fill="#ff0000"/>
<rect x="1036" y="361" width="1" height="53" fill="#ff0000"/>
<rect x="1035" y="362" width="3" height="6" fill="#ff0000"/>
<rect x="1040" y="361" width="1" height="55" fill="#00ff00"/>
<rect x="1039" y="363" width="3" height="33" fill="#00ff00"/>
<rect x="1044" y="380" width="1" height="21" fill="#ff0000"/>
<rect x="1043" y="383" width="3" height="13" fill="#ff0000"/>
<rect x="1048" y="381" width="1" height="23" fill="#ff0000"/>
<rect x="1047" y="387" width="3" height="7" fill="#ff0000"/>
<rect x="1052" y="383" width="1" height="41" fill="#00ff00"/>
<rect x="1051" y="388" width="3" height="36" fill="#00ff00"/>
<rect x="1056" y="402" width="1" height="23" fill="#ff0000"/>
<rect x="1055" y="408" width="3" height="16" fill="#ff0000"/>
<rect x="1060" y="404" width="1" height="36" fill="#00ff00"/>
<rect x="1059" y="408" width="3" height="26" fill="#00ff00"/>
<rect x="1064" y="400" width="1" height="46" fill="#ff0000"/>
<rect x="1063" y="405" width="3" height="29" fill="#ff0000"/>
<rect x="1068" y="395" width="1" height="12" fill="#ff0000"/>
<rect x="1067" y="398" width="3" height="8" fill="#ff0000"/>
<rect x="1072" y="397" width="1" height="23" fill="#ff0000"/>
<rect x="1071" y="402" width="3" height="3" fill="#ff0000"/>
<rect x="1076" y="394" width="1" height="27" fill="#00ff00"/>
<rect x="1075" y="402" width="3" height="15" fill="#00ff00"/>
<rect x="1080" y="412" width="1" height="16" fill="#00ff00"/>
<rect x="1079" y="416" width="3" height="8" fill="#00ff00"/>
<rect x="1084" y="404" width="1" height="21" fill="#ff0000"/>
<rect x="1083" y="409" width="3" height="15" fill="#ff0000"/>
<rect x="1088" y="405" width="1" height="64" fill="#00ff00"/>
<rect x="1087" y="409" width="3" height="46" fill="#00ff00"/>
<rect x="1092" y="454" width="1" height="24" fill="#00ff00"/>
<rect x="1091" y="455" width="3" height="22" fill="#00ff00"/>
<rect x="1096" y="467" width="1" height="52" fill="#00ff00"/>
<rect x="1095" y="467" width="3" height="44" fill="#00ff00"/>
<rect x="1100" y="506" width="1" height="44" fill="#00ff00"/>
<rect x="1099" y="511" width="3" height="7" fill="#00ff00"/>
<rect x="1104" y="516" width="1" height="19" fill="#00ff00"/>
<rect x="1103" y="517" width="3" height="8" fill="#00ff00"/>
<rect x="1108" y="492" width="1" height="48" fill="#ff0000"/>
<rect x="1107" y="511" width="3" height="23" fill="#ff0000"/>
<rect x="1112" y="467" width="1" height="48" fill="#ff0000"/>
<rect x="1111" y="498" width="3" height="14" fill="#ff0000"/>
<rect x="1116" y="483" width="1" height="20" fill="#ff0000"/>
<rect x="1115" y="485" width="3" height="15" fill="#ff0000"/>
<rect x="1120" y="490" width="1" height="28" fill="#00ff00"/>
<rect x="1119" y="500" width="3" height="16" fill="#00ff00"/>
<rect x="1124" y="479" width="1" height="46" fill="#ff0000"/>
<rect x="1123" y="488" width="3" height="28" fill="#ff0000"/>
<rect x="1128" y="482" width="1" height="52" fill="#00ff00"/>
<rect x="1127" y="487" width="3" height="15" fill="#00ff00"/>
<rect x="1132" y="463" width="1" height="39" fill="#ff0000"/>
<rect x="1131" y="479" width="3" height="23" fill="#ff0000"/>
<rect x="1136" y="452" width="1" height="39" fill="#ff0000"/>
<rect x="1135" y="476" width="3" height="3" fill="#ff0000"/>
<rect x="1140" y="475" width="1" height="13" fill="#00ff00"/>
<rect x="1139" y="476" width="3" height="8" fill="#00ff00"/>
<rect x="1144" y="473" width="1" height="33" fill="#00ff00"/>
<rect x="1143" y="480" width="3" height="12" fill="#00ff00"/>
<rect x="1148" y="493" width="1" height="38" fill="#00ff00"/>
<rect x="1147" y="497" width="3" height="23" fill="#00ff00"/>
<rect x="1152" y="516" width="1" height="43" fill="#00ff00"/>
<rect x="1151" y="520" width="3" height="27" fill="#00ff00"/>
<rect x="1156" y="545" width="1" height="33" fill="#00ff00"/>
<rect x="1155" y="546" width="3" height="8" fill="#00ff00"/>
<rect x="1160" y="508" width="1" height="47" fill="#ff0000"/>
<rect x="1159" y="522" width="3" height="32" fill="#ff0000"/>
<rect x="1164" y="518" width="1" height="8" fill="#00ff00"/>
<rect x="1163" y="521" width="3" height="4" fill="#00ff00"/>
<rect x="1168" y="504" width="1" height="22" fill="#ff0000"/>
<rect x="1167" y="508" width="3" height="17" fill="#ff0000"/>
<rect x="1172" y="507" width="1" height="30" fill="#00ff00"/>
<rect x="1171" y="510" width="3" height="15" fill="#00ff00"/>
<rect x="1176" y="480" width="1" height="47" fill="#ff0000"/>
<rect x="1175" y="503" width="3" height="21" fill="#ff0000"/>
<rect x="1180" y="503" width="1" height="28" fill="#00ff00"/>
<rect x="1179" y="503" width="3" height="10" fill="#00ff00"/>
<rect x="1184" y="490" width="1" height="26" fill="#ff0000"/>
<rect x="1183" y="498" width="3" height="11" fill="#ff0000"/>
<rect x="1188" y="489" width="1" height="14" fill="#00ff00"/>
<rect x="1187" y="497" width="3" height="2" fill="#00ff00"/>
<rect x="1192" y="488" width="1" height="31" fill="#00ff00"/>
<rect x="1191" y="503" width="3" height="4" fill="#00ff00"/>
<rect x="1196" y="469" width="1" height="54" fill="#ff0000"/>
<rect x="1195" y="472" width="3" height="35" fill="#ff0000"/>
<rect x="1200" y="449" width="1" height="34" fill="#ff0000"/>
<rect x="1199" y="462" width="3" height="11" fill="#ff0000"/>
<rect x="1204" y="458" width="1" height="64" fill="#00ff00"/>
<rect x="1203" y="462" width="3" height="57" fill="#00ff00"/>
<rect x="1208" y="493" width="1" height="60" fill="#00ff00"/>
<rect x="1207" y="520" width="3" height="32" fill="#00ff00"/>
<rect x="1212" y="548" width="1" height="16" fill="#00ff00"/>
<rect x="1211" y="551" width="3" height="10" fill="#00ff00"/>
<rect x="1216" y="529" width="1" height="35" fill="#ff0000"/>
<rect x="1215" y="537" width="3" height="26" fill="#ff0000"/>
<rect x="1220" y="504" width="1" height="44" fill="#ff0000"/>
<rect x="1219" y="506" width="3" height="33" fill="#ff0000"/>
<rect x="1224" y="464" width="1" height="59" fill="#ff0000"/>
<rect x="1223" y="478" width="3" height="31" fill="#ff0000"/>
<rect x="1228" y="457" width="1" height="30" fill="#ff0000"/>
<rect x="1227" y="463" width="3" height="16" fill="#ff0000"/>
<rect x="1232" y="445" width="1" height="27" fill="#ff0000"/>
<rect x="1231" y="451" width="3" height="13" fill="#ff0000"/>
<rect x="1236" y="436" width="1" height="18" fill="#ff0000"/>
<rect x="1235" y="443" width="3" height="9" fill="#ff0000"/>
<rect x="1240" y="433" width="1" height="19" fill="#ff0000"/>
<rect x="1239" y="444" width="3" height="7" fill="#ff0000"/>
<rect x="1244" y="429" width="1" height="20" fill="#ff0000"/>
<rect x="1243" y="444" width="3" height="1" fill="#ff0000"/>
<rect x="1248" y="443" width="1" height="27" fill="#00ff00"/>
<rect x="1247" y="444" width="3" height="2" fill="#00ff00"/>
<rect x="1252" y="424" width="1" height="30" fill="#ff0000"/>
<rect x="1251" y="434" width="3" height="13" fill="#ff0000"/>
<rect x="1256" y="404" width="1" height="31" fill="#ff0000"/>
<rect x="1255" y="407" width="3" height="28" fill="#ff0000"/>
<rect x="1260" y="401" width="1" height="13" fill="#ff0000"/>
<rect x="1259" y="404" width="3" height="4" fill="#ff0000"/>
<rect x="1264" y="397" width="1" height="13" fill="#ff0000"/>
<rect x="1263" y="404" width="3" height="5" fill="#ff0000"/>
<rect x="1268" y="387" width="1" height="37" fill="#00ff00"/>
<rect x="1267" y="404" width="3" height="4" fill="#00ff00"/>
<rect x="1272" y="383" width="1" height="31" fill="#ff0000"/>
<rect x="1271" y="391" width="3" height="17" fill="#ff0000"/>
<rect x="1276" y="379" width="1" height="29" fill="#00ff00"/>
<rect x="1275" y="391" width="3" height="9" fill="#00ff00"/>
<rect x="1280" y="382" width="1" height="63" fill="#00ff00"/>
<rect x="1279" y="399" width="3" height="35" fill="#00ff00"/>
<rect x="1284" y="430" width="1" height="12" fill="#00ff00"/>
<rect x="1283" y="434" width="3" height="5" fill="#00ff00"/>
<rect x="1288" y="406" width="1" height="44" fill="#00ff00"/>
<rect x="1287" y="425" width="3" height="14" fill="#00ff00"/>
<rect x="1292" y="416" width="1" height="42" fill="#00ff00"/>
<rect x="1291" y="438" width="3" height="11" fill="#00ff00"/>
<rect x="1296" y="438" width="1" height="43" fill="#ff0000"/>
<rect x="1295" y="442" width="3" height="5" fill="#ff0000"/>
<rect x="1300" y="439" width="1" height="31" fill="#00ff00"/>
<rect x="1299" y="442" width="3" height="20" fill="#00ff00"/>
<path d="M0 295h1v1h-1zM1 293h1v2h-1zM2 291h1v2h-1zM3 289h1v2h-1zM4 288h1v1h-1zM5 286h1v2h-1zM6 285h1v1h-1zM7 283h1v2h-1zM8 282h1v1h-1zM9 280h1v2h-1zM10 279h1v1h-1zM11 277h1v2h-1zM12 276h1v1h-1zM13 274h1v2h-1zM14 273h1v1h-1zM15 271h1v2h-1zM16 270h1v1h-1zM17 268h1v2h-1zM18 267h1v1h-1zM19 265h1v2h-1zM20 264h1v1h-1zM21 263h1v1h-1zM22 262h1v1h-1zM23 262h1v1h-1zM24 261h1v1h-1zM25 261h1v1h-1zM26 260h1v1h-1zM27 260h1v1h-1zM28 260h1v1h-1zM29 260h1v1h-1zM30 259h1v1h-1zM31 259h1v1h-1zM32 259h1v1h-1zM33 259h1v1h-1zM34 258h1v1h-1zM35 258h1v1h-1zM36 258h1v1h-1zM37 258h1v1h-1zM38 257h1v1h-1zM39 257h1v1h-1zM40 257h1v1h-1zM41 257h1v1h-1zM42 256h1v1h-1zM43 256h1v1h-1zM44 256h1v1h-1zM45 256h1v1h-1zM46 255h1v1h-1zM47 255h1v1h-1zM48 255h1v1h-1zM49 255h1v1h-1zM50 254h1v1h-1zM51 254h1v1h-1zM52 254h1v1h-1zM53 253h1v1h-1zM54 253h1v1h-1zM55 252h1v1h-1zM56 252h1v1h-1zM57 252h1v1h-1zM58 251h1v1h-1zM59 251h1v1h-1zM60 251h1v1h-1zM61 250h1v1h-1zM62 250h1v1h-1zM63 249h1v1h-1zM64 249h1v1h-1zM65 248h1v1h-1zM66 248h1v1h-1zM67 247h1v1h-1zM68 247h1v1h-1zM69 246h1v1h-1zM70 245h1v1h-1zM71 245h1v1h-1zM72 244h1v1h-1zM73 243h1v1h-1zM74 242h1v1h-1zM75 242h1v1h-1zM76 241h1v1h-1zM77 240h1v1h-1zM78 239h1v1h-1zM79 238h1v1h-1zM80 237h1v1h-1zM81 236h1v1h-1zM82 235h1v1h-1zM83 235h1v1h-1zM84 234h1v1h-1zM85 233h1v1h-1zM86 232h1v1h-1zM87 232h1v1h-1zM88 231h1v1h-1zM89 230h1v1h-1zM90 229h1v1h-1zM91 229h1v1h-1zM92 228h1v1h-1zM93 227h1v1h-1zM94 227h1v1h-1zM95 226h1v1h-1zM96 226h1v1h-1zM97 226h1v1h-1zM98 225h1v1h-1zM99 225h1v1h-1zM100 225h1v1h-1zM101 225h1v1h-1zM102 224h1v1h-1zM103 224h1v1h-1zM104 224h1v1h-1zM105 224h1v1h-1zM106 224h1v1h-1zM107 224h1v1h-1zM108 224h1v1h-1zM109 225h1v1h-1zM110 225h1v1h-1zM111 226h1v1h-1zM112 226h1v1h-1zM113 226h1v1h-1zM114 227h1v1h-1zM115 227h1v1h-1zM116 227h1v1h-1zM117 228h1v1h-1zM118 229h1v1h-1zM119 229h1v1h-1zM120 230h1v1h-1zM121 231h1v1h-1zM122 232h1v1h-1zM123 233h1v1h-1zM124 234h1v1h-1zM125 235h1v1h-1zM126 236h1v1h-1zM127 237h1v1h-1zM128 238h1v1h-1zM129 239h1v1h-1zM130 240h1v1h-1zM131 240h1v1h-1zM132 241h1v1h-1zM133 242h1v1h-1zM134 243h1v1h-1zM135 243h1v1h-1zM136 244h1v1h-1zM137 245h1v1h-1zM138 245h1v1h-1zM139 246h1v1h-1zM140 246h1v1h-1zM141 247h1v1h-1zM142 247h1v1h-1zM143 248h1v1h-1zM144 248h1v1h-1zM145 248h1v1h-1zM146 249h1v1h-1zM147 249h1v1h-1zM148 249h1v1h-1zM149 249h1v1h-1zM150 250h1v1h-1zM151 250h1v1h-1zM152 250h1v1h-1zM153 250h1v1h-1zM154 251h1v1h-1zM155 251h1v1h-1zM156 251h1v1h-1zM157 251h1v1h-1zM158 251h1v1h-1zM159 251h1v1h-1zM160 251h1v1h-1zM161 251h1v1h-1zM162 252h1v1h-1zM163 252h1v1h-1zM164 252h1v1h-1zM165 252h1v1h-1zM166 252h1v1h-1zM167 252h1v1h-1zM168 252h1v1h-1zM169 252h1v1h-1zM170 251h1v1h-1zM171 251h1v1h-1zM172 251h1v1h-1zM173 251h1v1h-1zM174 250h1v1h-1zM175 250h1v1h-1zM176 250h1v1h-1zM177 250h1v1h-1zM178 250h1v1h-1zM179 250h1v1h-1zM180 250h1v1h-1zM181 250h1v1h-1zM182 250h1v1h-1zM183 250h1v1h-1zM184 250h1v1h-1zM185 250h1v1h-1zM186 251h1v1h-1zM187 251h1v1h-1zM188 251h1v1h-1zM189 251h1v1h-1zM190 252h1v1h-1zM191 252h1v1h-1zM192 252h1v1h-1zM193 253h1v1h-1zM194 253h1v1h-1zM195 254h1v1h-1zM196 254h1v1h-1zM197 254h1v1h-1zM198 255h1v1h-1zM199 255h1v1h-1zM200 255h1v1h-1zM201 256h1v1h-1zM202 256h1v1h-1zM203 257h1v1h-1zM204 257h1v1h-1zM205 258h1v1h-1zM206 258h1v1h-1zM207 259h1v1h-1zM208 259h1v1h-1zM209 259h1v1h-1zM210 259h1v1h-1zM211 259h1v1h-1zM212 259h1v1h-1zM213 258h1v1h-1zM214 258h1v1h-1zM215 257h1v1h-1zM216 257h1v1h-1zM217 256h1v1h-1zM218 255h1v1h-1zM219 255h1v1h-1zM220 254h1v1h-1zM221 253h1v1h-1zM222 252h1v1h-1zM223 252h1v1h-1zM224 251h1v1h-1zM225 250h1v1h-1zM226 249h1v1h-1zM227 248h1v1h-1zM228 247h1v1h-1zM229 246h1v1h-1zM230 245h1v1h-1zM231 244h1v1h-1zM232 243h1v1h-1zM233 241h1v2h-1zM234 240h1v1h-1zM235 238h1v2h-1zM236 237h1v1h-1zM237 235h1v2h-1zM238 234h1v1h-1zM239 232h1v2h-1zM240 231h1v1h-1zM241 229h1v2h-1zM242 227h1v2h-1zM243 225h1v2h-1zM244 223h1v2h-1zM245 221h1v2h-1zM246 219h1v2h-1zM247 217h1v2h-1zM248 216h1v1h-1zM249 214h1v2h-1zM250 212h1v2h-1zM251 210h1v2h-1zM252 209h1v1h-1zM253 207h1v2h-1zM254 205h1v2h-1zM255 203h1v2h-1zM256 201h1v2h-1zM257 199h1v2h-1zM258 197h1v2h-1zM259 195h1v2h-1zM260 194h1v1h-1zM261 193h1v1h-1zM262 191h1v2h-1zM263 190h1v1h-1zM264 189h1v1h-1zM265 187h1v2h-1zM266 185h1v2h-1zM267 183h1v2h-1zM268 182h1v1h-1zM269 180h1v2h-1zM270 179h1v1h-1zM271 177h1v2h-1zM272 176h1v1h-1zM273 174h1v2h-1zM274 173h1v1h-1zM275 171h1v2h-1zM276 170h1v1h-1zM277 169h1v1h-1zM278 167h1v2h-1zM279 166h1v1h-1zM280 165h1v1h-1zM281 163h1v2h-1zM282 162h1v1h-1zM283 160h1v2h-1zM284 159h1v1h-1zM285 157h1v2h-1zM286 156h1v1h-1zM287 154h1v2h-1zM288 153h1v1h-1zM289 152h1v1h-1zM290 151h1v1h-1zM291 150h1v1h-1zM292 149h1v1h-1zM293 148h1v1h-1zM294 147h1v1h-1zM295 147h1v1h-1zM296 146h1v1h-1zM297 145h1v1h-1zM298 144h1v1h-1zM299 144h1v1h-1zM300 143h1v1h-1zM301 142h1v1h-1zM302 142h1v1h-1zM303 141h1v1h-1zM304 141h1v1h-1zM305 140h1v1h-1zM306 139h1v1h-1zM307 139h1v1h-1zM308 138h1v1h-1zM309 137h1v1h-1zM310 137h1v1h-1zM311 136h1v1h-1zM312 136h1v1h-1zM313 135h1v1h-1zM314 135h1v1h-1zM315 134h1v1h-1zM316 134h1v1h-1zM317 133h1v1h-1zM318 133h1v1h-1zM319 132h1v1h-1zM320 132h1v1h-1zM321 131h1v1h-1zM322 130h1v1h-1zM323 130h1v1h-1zM324 129h1v1h-1zM325 129h1v1h-1zM326 128h1v1h-1zM327 128h1v1h-1zM328 128h1v1h-1zM329 128h1v1h-1zM330 127h1v1h-1zM331 127h1v1h-1zM332 127h1v1h-1zM333 127h1v1h-1zM334 127h1v1h-1zM335 127h1v1h-1zM336 127h1v1h-1zM337 128h1v1h-1zM338 129h1v1h-1zM339 130h1v1h-1zM340 131h1v1h-1zM341 132h1v1h-1zM342 133h1v1h-1zM343 133h1v1h-1zM344 134h1v1h-1zM345 135h1v1h-1zM346 136h1v1h-1zM347 137h1v1h-1zM348 138h1v1h-1zM349 139h1v1h-1zM350 140h1v1h-1zM351 140h1v1h-1zM352 141h1v1h-1zM353 142h1v1h-1zM354 143h1v1h-1zM355 144h1v1h-1zM356 145h1v1h-1zM357 146h1v1h-1zM358 147h1v1h-1zM359 147h1v1h-1zM360 148h1v1h-1zM361 149h1v1h-1zM362 150h1v1h-1zM363 151h1v1h-1zM364 152h1v1h-1zM365 153h1v1h-1zM366 154h1v1h-1zM367 155h1v1h-1zM368 156h1v1h-1zM369 157h1v1h-1zM370 158h1v2h-1zM371 160h1v1h-1zM372 161h1v1h-1zM373 162h1v2h-1zM374 164h1v1h-1zM375 165h1v2h-1zM376 167h1v1h-1zM377 168h1v2h-1zM378 170h1v2h-1zM379 172h1v2h-1zM380 174h1v1h-1zM381 175h1v2h-1zM382 177h1v1h-1zM383 178h1v2h-1zM384 180h1v2h-1zM385 182h1v2h-1zM386 184h1v2h-1zM387 186h1v2h-1zM388 188h1v2h-1zM389 190h1v2h-1zM390 192h1v2h-1zM391 194h1v2h-1zM392 196h1v3h-1zM393 199h1v2h-1zM394 201h1v2h-1zM395 203h1v2h-1zM396 205h1v2h-1zM397 207h1v2h-1zM398 209h1v2h-1zM399 211h1v2h-1zM400 213h1v2h-1zM401 215h1v2h-1zM402 217h1v2h-1zM403 219h1v2h-1zM404 221h1v2h-1zM405 223h1v2h-1zM406 225h1v1h-1zM407 226h1v2h-1zM408 228h1v1h-1zM409 229h1v2h-1zM410 231h1v1h-1zM411 232h1v2h-1zM412 234h1v1h-1zM413 235h1v1h-1zM414 236h1v1h-1zM415 236h1v1h-1zM416 237h1v1h-1zM417 238h1v1h-1zM418 239h1v1h-1zM419 240h1v1h-1zM420 241h1v1h-1zM421 242h1v1h-1zM422 242h1v1h-1zM423 243h1v1h-1zM424 243h1v1h-1zM425 244h1v1h-1zM426 245h1v1h-1zM427 245h1v1h-1zM428 246h1v1h-1zM429 247h1v1h-1zM430 248h1v1h-1zM431 248h1v1h-1zM432 249h1v1h-1zM433 250h1v2h-1zM434 252h1v2h-1zM435 254h1v2h-1zM436 256h1v3h-1zM437 259h1v2h-1zM438 261h1v2h-1zM439 263h1v2h-1zM440 265h1v3h-1zM441 268h1v2h-1zM442 270h1v3h-1zM443 273h1v2h-1zM444 275h1v3h-1zM445 278h1v2h-1zM446 280h1v3h-1zM447 283h1v2h-1zM448 285h1v3h-1zM449 288h1v2h-1zM450 290h1v3h-1zM451 293h1v2h-1zM452 295h1v3h-1zM453 298h1v2h-1zM454 300h1v2h-1zM455 302h1v2h-1zM456 304h1v2h-1zM457 306h1v2h-1zM458 308h1v2h-1zM459 310h1v2h-1zM460 312h1v2h-1zM461 314h1v2h-1zM462 316h1v2h-1zM463 318h1v2h-1zM464 320h1v2h-1zM465 322h1v2h-1zM466 324h1v2h-1zM467 326h1v2h-1zM468 328h1v1h-1zM469 329h1v1h-1zM470 330h1v2h-1zM471 332h1v1h-1zM472 333h1v1h-1zM473 334h1v2h-1zM474 336h1v1h-1zM475 337h1v2h-1zM476 339h1v1h-1zM477 340h1v2h-1zM478 342h1v1h-1zM479 343h1v2h-1zM480 345h1v1h-1zM481 346h1v2h-1zM482 348h1v1h-1zM483 349h1v2h-1zM484 351h1v1h-1zM485 352h1v1h-1zM486 353h1v1h-1zM487 353h1v1h-1zM488 354h1v1h-1zM489 355h1v1h-1zM490 355h1v1h-1zM491 356h1v1h-1zM492 356h1v1h-1zM493 357h1v1h-1zM494 357h1v1h-1zM495 358h1v1h-1zM496 358h1v1h-1zM497 358h1v1h-1zM498 358h1v1h-1zM499 358h1v1h-1zM500 358h1v1h-1zM501 358h1v1h-1zM502 359h1v1h-1zM503 359h1v1h-1zM504 359h1v1h-1zM505 359h1v1h-1zM506 359h1v1h-1zM507 359h1v1h-1zM508 359h1v1h-1zM509 359h1v1h-1zM510 360h1v1h-1zM511 360h1v1h-1zM512 360h1v1h-1zM513 360h1v1h-1zM514 361h1v1h-1zM515 361h1v1h-1zM516 361h1v1h-1zM517 361h1v1h-1zM518 362h1v1h-1zM519 362h1v1h-1zM520 362h1v1h-1zM521 362h1v1h-1zM522 363h1v1h-1zM523 363h1v1h-1zM524 363h1v1h-1zM525 364h1v1h-1zM526 364h1v1h-1zM527 365h1v1h-1zM528 365h1v1h-1zM529 366h1v1h-1zM530 366h1v1h-1zM531 367h1v1h-1zM532 367h1v1h-1zM533 368h1v1h-1zM534 369h1v2h-1zM535 371h1v1h-1zM536 372h1v1h-1zM537 373h1v1h-1zM538 374h1v1h-1zM539 375h1v1h-1zM540 376h1v1h-1zM541 377h1v1h-1zM542 378h1v2h-1zM543 380h1v1h-1zM544 381h1v1h-1zM545 382h1v1h-1zM546 383h1v1h-1zM547 384h1v1h-1zM548 385h1v1h-1zM549 386h1v1h-1zM550 387h1v1h-1zM551 387h1v1h-1zM552 388h1v1h-1zM553 387h1v1h-1zM554 387h1v1h-1zM555 386h1v1h-1zM556 386h1v1h-1zM557 385h1v1h-1zM558 384h1v1h-1zM559 383h1v1h-1zM560 382h1v1h-1zM561 381h1v1h-1zM562 379h1v2h-1zM563 378h1v1h-1zM564 377h1v1h-1zM565 376h1v1h-1zM566 374h1v2h-1zM567 373h1v1h-1zM568 372h1v1h-1zM569 371h1v1h-1zM570 369h1v2h-1zM571 368h1v1h-1zM572 367h1v1h-1zM573 366h1v1h-1zM574 365h1v1h-1zM575 364h1v1h-1zM576 363h1v1h-1zM577 362h1v1h-1zM578 360h1v2h-1zM579 359h1v1h-1zM580 358h1v1h-1zM581 357h1v1h-1zM582 357h1v1h-1zM583 356h1v1h-1zM584 356h1v1h-1zM585 355h1v1h-1zM586 355h1v1h-1zM587 354h1v1h-1zM588 354h1v1h-1zM589 355h1v1h-1zM590 356h1v1h-1zM591 357h1v1h-1zM592 358h1v1h-1zM593 359h1v1h-1zM594 359h1v1h-1zM595 360h1v1h-1zM596 360h1v1h-1zM597 361h1v1h-1zM598 362h1v2h-1zM599 364h1v1h-1zM600 365h1v1h-1zM601 366h1v1h-1zM602 366h1v1h-1zM603 367h1v1h-1zM604 367h1v1h-1zM605 368h1v2h-1zM606 370h1v1h-1zM607 371h1v2h-1zM608 373h1v1h-1zM609 374h1v2h-1zM610 376h1v1h-1zM611 377h1v2h-1zM612 379h1v1h-1zM613 380h1v2h-1zM614 382h1v2h-1zM615 384h1v2h-1zM616 386h1v1h-1zM617 387h1v1h-1zM618 388h1v2h-1zM619 390h1v1h-1zM620 391h1v1h-1zM621 392h1v1h-1zM622 393h1v1h-1zM623 394h1v1h-1zM624 395h1v1h-1zM625 396h1v1h-1zM626 397h1v1h-1zM627 398h1v1h-1zM628 399h1v1h-1zM629 399h1v1h-1zM630 400h1v1h-1zM631 400h1v1h-1zM632 400h1v1h-1zM633 401h1v1h-1zM634 401h1v1h-1zM635 402h1v1h-1zM636 402h1v1h-1zM637 402h1v1h-1zM638 403h1v1h-1zM639 403h1v1h-1zM640 403h1v1h-1zM641 404h1v1h-1zM642 405h1v1h-1zM643 405h1v1h-1zM644 406h1v1h-1zM645 406h1v1h-1zM646 407h1v1h-1zM647 407h1v1h-1zM648 407h1v1h-1zM649 407h1v1h-1zM650 408h1v1h-1zM651 408h1v1h-1zM652 408h1v1h-1zM653 409h1v1h-1zM654 409h1v1h-1zM655 410h1v1h-1zM656 410h1v1h-1zM657 411h1v1h-1zM658 412h1v1h-1zM659 412h1v1h-1zM660 413h1v1h-1zM661 413h1v1h-1zM662 413h1v1h-1zM663 413h1v1h-1zM664 413h1v1h-1zM665 413h1v1h-1zM666 414h1v1h-1zM667 414h1v1h-1zM668 414h1v1h-1zM669 415h1v1h-1zM670 415h1v1h-1zM671 416h1v1h-1zM672 416h1v1h-1zM673 416h1v1h-1zM674 417h1v1h-1zM675 417h1v1h-1zM676 417h1v1h-1zM677 417h1v1h-1zM678 418h1v1h-1zM679 418h1v1h-1zM680 418h1v1h-1zM681 418h1v1h-1zM682 419h1v1h-1zM683 419h1v1h-1zM684 419h1v1h-1zM685 419h1v1h-1zM686 419h1v1h-1zM687 419h1v1h-1zM688 419h1v1h-1zM689 419h1v1h-1zM690 420h1v1h-1zM691 420h1v1h-1zM692 420h1v1h-1zM693 421h1v1h-1zM694 422h1v1h-1zM695 422h1v1h-1zM696 423h1v1h-1zM697 424h1v1h-1zM698 424h1v1h-1zM699 425h1v1h-1zM700 425h1v1h-1zM701 424h1v1h-1zM702 424h1v1h-1zM703 423h1v1h-1zM704 423h1v1h-1zM705 423h1v1h-1zM706 422h1v1h-1zM707 422h1v1h-1zM708 422h1v1h-1zM709 420h1v2h-1zM710 419h1v1h-1zM711 417h1v2h-1zM712 416h1v1h-1zM713 415h1v1h-1zM714 414h1v1h-1zM715 414h1v1h-1zM716 413h1v1h-1zM717 411h1v2h-1zM718 410h1v1h-1zM719 408h1v2h-1zM720 407h1v1h-1zM721 406h1v1h-1zM722 405h1v1h-1zM723 404h1v1h-1zM724 403h1v1h-1zM725 401h1v2h-1zM726 400h1v1h-1zM727 398h1v2h-1zM728 397h1v1h-1zM729 396h1v1h-1zM730 394h1v2h-1zM731 393h1v1h-1zM732 392h1v1h-1zM733 390h1v2h-1zM734 389h1v1h-1zM735 387h1v2h-1zM736 386h1v1h-1zM737 385h1v1h-1zM738 383h1v2h-1zM739 382h1v1h-1zM740 381h1v1h-1zM741 379h1v2h-1zM742 378h1v1h-1zM743 376h1v2h-1zM744 375h1v1h-1zM745 374h1v1h-1zM746 372h1v2h-1zM747 371h1v1h-1zM748 370h1v1h-1zM749 369h1v1h-1zM750 368h1v1h-1zM751 368h1v1h-1zM752 367h1v1h-1zM753 366h1v1h-1zM754 365h1v1h-1zM755 364h1v1h-1zM756 363h1v1h-1zM757 362h1v1h-1zM758 361h1v1h-1zM759 361h1v1h-1zM760 360h1v1h-1zM761 359h1v1h-1zM762 359h1v1h-1zM763 358h1v1h-1zM764 358h1v1h-1zM765 357h1v1h-1zM766 357h1v1h-1zM767 356h1v1h-1zM768 356h1v1h-1zM769 355h1v1h-1zM770 354h1v1h-1zM771 354h1v1h-1zM772 353h1v1h-1zM773 352h1v1h-1zM774 350h1v2h-1zM775 349h1v1h-1zM776 348h1v1h-1zM777 347h1v1h-1zM778 346h1v1h-1zM779 345h1v1h-1zM780 344h1v1h-1zM781 342h1v2h-1zM782 341h1v1h-1zM783 339h1v2h-1zM784 338h1v1h-1zM785 337h1v1h-1zM786 336h1v1h-1zM787 336h1v1h-1zM788 335h1v1h-1zM789 334h1v1h-1zM790 332h1v2h-1zM791 331h1v1h-1zM792 330h1v1h-1zM793 329h1v1h-1zM794 328h1v1h-1zM795 328h1v1h-1zM796 327h1v1h-1zM797 326h1v1h-1zM798 326h1v1h-1zM799 325h1v1h-1zM800 325h1v1h-1zM801 325h1v1h-1zM802 324h1v1h-1zM803 324h1v1h-1zM804 324h1v1h-1zM805 324h1v1h-1zM806 323h1v1h-1zM807 323h1v1h-1zM808 323h1v1h-1zM809 322h1v1h-1zM810 322h1v1h-1zM811 321h1v1h-1zM812 321h1v1h-1zM813 320h1v1h-1zM814 319h1v1h-1zM815 318h1v1h-1zM816 317h1v1h-1zM817 316h1v1h-1zM818 316h1v1h-1zM819 315h1v1h-1zM820 315h1v1h-1zM821 314h1v1h-1zM822 313h1v1h-1zM823 313h1v1h-1zM824 312h1v1h-1zM825 311h1v1h-1zM826 310h1v1h-1zM827 310h1v1h-1zM828 309h1v1h-1zM829 309h1v1h-1zM830 308h1v1h-1zM831 308h1v1h-1zM832 308h1v1h-1zM833 307h1v1h-1zM834 306h1v1h-1zM835 306h1v1h-1zM836 305h1v1h-1zM837 305h1v1h-1zM838 305h1v1h-1zM839 305h1v1h-1zM840 305h1v1h-1zM841 305h1v1h-1zM842 305h1v1h-1zM843 305h1v1h-1zM844 305h1v1h-1zM845 306h1v1h-1zM846 306h1v1h-1zM847 307h1v1h-1zM848 307h1v1h-1zM849 307h1v1h-1zM850 308h1v1h-1zM851 308h1v1h-1zM852 308h1v1h-1zM853 309h1v1h-1zM854 309h1v1h-1zM855 310h1v1h-1zM856 310h1v1h-1zM857 310h1v1h-1zM858 311h1v1h-1zM859 311h1v1h-1zM860 311h1v1h-1zM861 311h1v1h-1zM862 312h1v1h-1zM863 312h1v1h-1zM864 312h1v1h-1zM865 312h1v1h-1zM866 312h1v1h-1zM867 312h1v1h-1zM868 312h1v1h-1zM869 312h1v1h-1zM870 312h1v1h-1zM871 312h1v1h-1zM872 312h1v1h-1zM873 312h1v1h-1zM874 311h1v1h-1zM875 311h1v1h-1zM876 311h1v1h-1zM877 310h1v1h-1zM878 310h1v1h-1zM879 309h1v1h-1zM880 309h1v1h-1zM881 308h1v1h-1zM882 308h1v1h-1zM883 307h1v1h-1zM884 307h1v1h-1zM885 307h1v1h-1zM886 307h1v1h-1zM887 307h1v1h-1zM888 307h1v1h-1zM889 308h1v1h-1zM890 308h1v1h-1zM891 309h1v1h-1zM892 309h1v1h-1zM893 310h1v1h-1zM894 310h1v1h-1zM895 311h1v1h-1zM896 311h1v1h-1zM897 311h1v1h-1zM898 312h1v1h-1zM899 312h1v1h-1zM900 312h1v1h-1zM901 313h1v1h-1zM902 314h1v1h-1zM903 314h1v1h-1zM904 315h1v1h-1zM905 315h1v1h-1zM906 316h1v1h-1zM907 316h1v1h-1zM908 316h1v1h-1zM909 316h1v1h-1zM910 317h1v1h-1zM911 317h1v1h-1zM912 317h1v1h-1zM913 317h1v1h-1zM914 318h1v1h-1zM915 318h1v1h-1zM916 318h1v1h-1zM917 318h1v1h-1zM918 317h1v1h-1zM919 317h1v1h-1zM920 317h1v1h-1zM921 317h1v1h-1zM922 317h1v1h-1zM923 317h1v1h-1zM924 317h1v1h-1zM925 317h1v1h-1zM926 317h1v1h-1zM927 317h1v1h-1zM928 317h1v1h-1zM929 317h1v1h-1zM930 317h1v1h-1zM931 317h1v1h-1zM932 317h1v1h-1zM933 317h1v1h-1zM934 318h1v1h-1zM935 318h1v1h-1zM936 318h1v1h-1zM937 319h1v1h-1zM938 319h1v1h-1zM939 320h1v1h-1zM940 320h1v1h-1zM941 321h1v1h-1zM942 321h1v1h-1zM943 322h1v1h-1zM944 322h1v1h-1zM945 323h1v1h-1zM946 324h1v1h-1zM947 324h1v1h-1zM948 325h1v1h-1zM949 326h1v1h-1zM950 326h1v1h-1zM951 327h1v1h-1zM952 327h1v1h-1zM953 328h1v1h-1zM954 329h1v1h-1zM955 329h1v1h-1zM956 330h1v1h-1zM957 330h1v1h-1zM958 331h1v1h-1zM959 331h1v1h-1zM960 331h1v1h-1zM961 330h1v1h-1zM962 330h1v1h-1zM963 329h1v1h-1zM964 329h1v1h-1zM965 328h1v1h-1zM966 328h1v1h-1zM967 327h1v1h-1zM968 327h1v1h-1zM969 326h1v1h-1zM970 325h1v1h-1zM971 324h1v1h-1zM972 323h1v1h-1zM973 322h1v1h-1zM974 321h1v1h-1zM975 321h1v1h-1zM976 320h1v1h-1zM977 319h1v1h-1zM978 318h1v1h-1zM979 318h1v1h-1zM980 317h1v1h-1zM981 316h1v1h-1zM982 316h1v1h-1zM983 315h1v1h-1zM984 315h1v1h-1zM985 314h1v1h-1zM986 314h1v1h-1zM987 313h1v1h-1zM988 313h1v1h-1zM989 313h1v1h-1zM990 312h1v1h-1zM991 312h1v1h-1zM992 312h1v1h-1zM993 312h1v1h-1zM994 311h1v1h-1zM995 311h1v1h-1zM996 311h1v1h-1zM997 311h1v1h-1zM998 311h1v1h-1zM999 311h1v1h-1zM1000 311h1v1h-1zM1001 312h1v1h-1zM1002 312h1v1h-1zM1003 313h1v1h-1zM1004 313h1v1h-1zM1005 313h1v1h-1zM1006 314h1v1h-1zM1007 314h1v1h-1zM1008 314h1v1h-1zM1009 314h1v1h-1zM1010 314h1v1h-1zM1011 314h1v1h-1zM1012 314h1v1h-1zM1013 313h1v1h-1zM1014 313h1v1h-1zM1015 312h1v1h-1zM1016 312h1v1h-1zM1017 312h1v1h-1zM1018 311h1v1h-1zM1019 311h1v1h-1zM1020 311h1v1h-1zM1021 311h1v1h-1zM1022 310h1v1h-1zM1023 310h1v1h-1zM1024 310h1v1h-1zM1025 311h1v1h-1zM1026 311h1v1h-1zM1027 312h1v1h-1zM1028 312h1v1h-1zM1029 313h1v1h-1zM1030 313h1v1h-1zM1031 314h1v1h-1zM1032 314h1v1h-1zM1033 315h1v1h-1zM1034 315h1v1h-1zM1035 316h1v1h-1zM1036 316h1v1h-1zM1037 317h1v1h-1zM1038 318h1v1h-1zM1039 319h1v1h-1zM1040 320h1v1h-1zM1041 321h1v1h-1zM1042 322h1v1h-1zM1043 323h1v1h-1zM1044 324h1v1h-1zM1045 325h1v1h-1zM1046 325h1v1h-1zM1047 326h1v1h-1zM1048 326h1v1h-1zM1049 327h1v1h-1zM1050 328h1v2h-1zM1051 330h1v1h-1zM1052 331h1v1h-1zM1053 332h1v1h-1zM1054 332h1v1h-1zM1055 333h1v1h-1zM1056 333h1v1h-1zM1057 334h1v1h-1zM1058 335h1v1h-1zM1059 335h1v1h-1zM1060 336h1v1h-1zM1061 337h1v1h-1zM1062 337h1v1h-1zM1063 338h1v1h-1zM1064 338h1v1h-1zM1065 339h1v1h-1zM1066 339h1v1h-1zM1067 340h1v1h-1zM1068 340h1v1h-1zM1069 340h1v1h-1zM1070 341h1v1h-1zM1071 341h1v1h-1zM1072 341h1v1h-1zM1073 342h1v1h-1zM1074 343h1v1h-1zM1075 343h1v1h-1zM1076 344h1v1h-1zM1077 345h1v1h-1zM1078 346h1v1h-1zM1079 346h1v1h-1zM1080 347h1v1h-1zM1081 348h1v1h-1zM1082 349h1v1h-1zM1083 349h1v1h-1zM1084 350h1v1h-1zM1085 351h1v2h-1zM1086 353h1v1h-1zM1087 354h1v2h-1zM1088 356h1v1h-1zM1089 357h1v2h-1zM1090 359h1v2h-1zM1091 361h1v2h-1zM1092 363h1v1h-1zM1093 364h1v2h-1zM1094 366h1v2h-1zM1095 368h1v2h-1zM1096 370h1v2h-1zM1097 372h1v2h-1zM1098 374h1v2h-1zM1099 376h1v2h-1zM1100 378h1v3h-1zM1101 381h1v2h-1zM1102 383h1v2h-1zM1103 385h1v2h-1zM1104 387h1v2h-1zM1105 389h1v2h-1zM1106 391h1v2h-1zM1107 393h1v2h-1zM1108 395h1v2h-1zM1109 397h1v2h-1zM1110 399h1v2h-1zM1111 401h1v2h-1zM1112 403h1v2h-1zM1113 405h1v2h-1zM1114 407h1v2h-1zM1115 409h1v2h-1zM1116 411h1v2h-1zM1117 413h1v2h-1zM1118 415h1v2h-1zM1119 417h1v2h-1zM1120 419h1v1h-1zM1121 420h1v1h-1zM1122 421h1v1h-1zM1123 422h1v1h-1zM1124 423h1v1h-1zM1125 424h1v1h-1zM1126 425h1v2h-1zM1127 427h1v1h-1zM1128 428h1v1h-1zM1129 429h1v1h-1zM1130 430h1v1h-1zM1131 431h1v1h-1zM1132 432h1v1h-1zM1133 433h1v1h-1zM1134 434h1v2h-1zM1135 436h1v1h-1zM1136 437h1v1h-1zM1137 438h1v1h-1zM1138 439h1v2h-1zM1139 441h1v1h-1zM1140 442h1v1h-1zM1141 443h1v1h-1zM1142 444h1v2h-1zM1143 446h1v1h-1zM1144 447h1v1h-1zM1145 448h1v1h-1zM1146 449h1v2h-1zM1147 451h1v1h-1zM1148 452h1v1h-1zM1149 453h1v2h-1zM1150 455h1v1h-1zM1151 456h1v2h-1zM1152 458h1v1h-1zM1153 459h1v2h-1zM1154 461h1v1h-1zM1155 462h1v2h-1zM1156 464h1v1h-1zM1157 465h1v1h-1zM1158 466h1v1h-1zM1159 467h1v1h-1zM1160 468h1v1h-1zM1161 469h1v1h-1zM1162 470h1v2h-1zM1163 472h1v1h-1zM1164 473h1v1h-1zM1165 474h1v1h-1zM1166 475h1v1h-1zM1167 476h1v1h-1zM1168 477h1v1h-1zM1169 478h1v1h-1zM1170 479h1v1h-1zM1171 479h1v1h-1zM1172 480h1v1h-1zM1173 481h1v1h-1zM1174 482h1v1h-1zM1175 483h1v1h-1zM1176 484h1v1h-1zM1177 485h1v1h-1zM1178 485h1v1h-1zM1179 486h1v1h-1zM1180 486h1v1h-1zM1181 487h1v1h-1zM1182 488h1v1h-1zM1183 488h1v1h-1zM1184 489h1v1h-1zM1185 490h1v1h-1zM1186 491h1v1h-1zM1187 492h1v1h-1zM1188 493h1v1h-1zM1189 494h1v1h-1zM1190 495h1v1h-1zM1191 495h1v1h-1zM1192 496h1v1h-1zM1193 497h1v1h-1zM1194 497h1v1h-1zM1195 498h1v1h-1zM1196 498h1v1h-1zM1197 498h1v1h-1zM1198 499h1v1h-1zM1199 499h1v1h-1zM1200 499h1v1h-1zM1201 500h1v1h-1zM1202 501h1v1h-1zM1203 502h1v1h-1zM1204 503h1v1h-1zM1205 504h1v1h-1zM1206 505h1v1h-1zM1207 505h1v1h-1zM1208 506h1v1h-1zM1209 507h1v1h-1zM1210 508h1v1h-1zM1211 508h1v1h-1zM1212 509h1v1h-1zM1213 509h1v1h-1zM1214 510h1v1h-1zM1215 510h1v1h-1zM1216 510h1v1h-1zM1217 510h1v1h-1zM1218 509h1v1h-1zM1219 509h1v1h-1zM1220 509h1v1h-1zM1221 509h1v1h-1zM1222 508h1v1h-1zM1223 508h1v1h-1zM1224 508h1v1h-1zM1225 507h1v1h-1zM1226 507h1v1h-1zM1227 506h1v1h-1zM1228 506h1v1h-1zM1229 506h1v1h-1zM1230 505h1v1h-1zM1231 505h1v1h-1zM1232 505h1v1h-1zM1233 504h1v1h-1zM1234 504h1v1h-1zM1235 503h1v1h-1zM1236 503h1v1h-1zM1237 502h1v1h-1zM1238 502h1v1h-1zM1239 501h1v1h-1zM1240 501h1v1h-1zM1241 500h1v1h-1zM1242 500h1v1h-1zM1243 499h1v1h-1zM1244 499h1v1h-1zM1245 499h1v1h-1zM1246 498h1v1h-1zM1247 498h1v1h-1zM1248 498h1v1h-1zM1249 497h1v1h-1zM1250 497h1v1h-1zM1251 496h1v1h-1zM1252 496h1v1h-1zM1253 495h1v1h-1zM1254 495h1v1h-1zM1255 494h1v1h-1zM1256 494h1v1h-1zM1257 493h1v1h-1zM1258 492h1v1h-1zM1259 492h1v1h-1zM1260 491h1v1h-1zM1261 490h1v1h-1zM1262 489h1v1h-1zM1263 489h1v1h-1zM1264 488h1v1h-1zM1265 487h1v1h-1zM1266 486h1v1h-1zM1267 485h1v1h-1zM1268 484h1v1h-1zM1269 483h1v1h-1zM1270 481h1v2h-1zM1271 480h1v1h-1zM1272 479h1v1h-1zM1273 478h1v1h-1zM1274 476h1v2h-1zM1275 475h1v1h-1zM1276 474h1v1h-1zM1277 473h1v1h-1zM1278 472h1v1h-1zM1279 472h1v1h-1zM1280 471h1v1h-1zM1281 470h1v1h-1zM1282 469h1v1h-1zM1283 469h1v1h-1zM1284 468h1v1h-1zM1285 467h1v1h-1zM1286 467h1v1h-1zM1287 466h1v1h-1zM1288 466h1v1h-1zM1289 465h1v1h-1zM1290 465h1v1h-1zM1291 464h1v1h-1zM1292 464h1v1h-1zM1293 463h1v1h-1zM1294 462h1v1h-1zM1295 462h1v1h-1zM1296 461h1v1h-1zM1297 461h1v1h-1zM1298 460h1v1h-1zM1299 460h1v1h-1zM1300 460h1v1h-1z" fill="#0000cd" shape-rendering="crispEdges"/>
<path d="M0 257h1v1h-1zM1 255h1v2h-1zM2 253h1v2h-1zM3 251h1v2h-1zM4 250h1v1h-1zM5 248h1v2h-1zM6 247h1v1h-1zM7 245h1v2h-1zM8 244h1v1h-1zM9 242h1v2h-1zM10 240h1v2h-1zM11 238h1v2h-1zM12 237h1v1h-1zM13 235h1v2h-1zM14 233h1v2h-1zM15 231h1v2h-1zM16 230h1v1h-1zM17 229h1v1h-1zM18 228h1v1h-1zM19 227h1v1h-1zM20 226h1v1h-1zM21 225h1v1h-1zM22 225h1v1h-1zM23 224h1v1h-1zM24 224h1v1h-1zM25 224h1v1h-1zM26 224h1v1h-1zM27 224h1v1h-1zM28 224h1v1h-1zM29 224h1v1h-1zM30 225h1v1h-1zM31 225h1v1h-1zM32 225h1v1h-1zM33 225h1v1h-1zM34 225h1v1h-1zM35 225h1v1h-1zM36 225h1v1h-1zM37 225h1v1h-1zM38 226h1v1h-1zM39 226h1v1h-1zM40 226h1v1h-1zM41 226h1v1h-1zM42 225h1v1h-1zM43 225h1v1h-1zM44 225h1v1h-1zM45 226h1v1h-1zM46 227h1v1h-1zM47 228h1v1h-1zM48 229h1v1h-1zM49 230h1v2h-1zM50 232h1v2h-1zM51 234h1v2h-1zM52 236h1v1h-1zM53 237h1v2h-1zM54 239h1v1h-1zM55 240h1v2h-1zM56 242h1v1h-1zM57 243h1v1h-1zM58 244h1v1h-1zM59 245h1v1h-1zM60 246h1v1h-1zM61 247h1v1h-1zM62 248h1v1h-1zM63 249h1v1h-1zM64 250h1v1h-1zM65 250h1v1h-1zM66 251h1v1h-1zM67 251h1v1h-1zM68 251h1v1h-1zM69 251h1v1h-1zM70 251h1v1h-1zM71 251h1v1h-1zM72 251h1v1h-1zM73 250h1v1h-1zM74 249h1v1h-1zM75 248h1v1h-1zM76 247h1v1h-1zM77 246h1v1h-1zM78 244h1v2h-1zM79 243h1v1h-1zM80 242h1v1h-1zM81 241h1v1h-1zM82 240h1v1h-1zM83 239h1v1h-1zM84 238h1v1h-1zM85 236h1v2h-1zM86 234h1v2h-1zM87 232h1v2h-1zM88 231h1v1h-1zM89 230h1v1h-1zM90 228h1v2h-1zM91 227h1v1h-1zM92 226h1v1h-1zM93 225h1v1h-1zM94 225h1v1h-1zM95 224h1v1h-1zM96 224h1v1h-1zM97 223h1v1h-1zM98 222h1v1h-1zM99 222h1v1h-1zM100 221h1v1h-1zM101 220h1v1h-1zM102 220h1v1h-1zM103 219h1v1h-1zM104 219h1v1h-1zM105 218h1v1h-1zM106 217h1v1h-1zM107 216h1v1h-1zM108 215h1v1h-1zM109 215h1v1h-1zM110 214h1v1h-1zM111 214h1v1h-1zM112 214h1v1h-1zM113 214h1v1h-1zM114 213h1v1h-1zM115 213h1v1h-1zM116 213h1v1h-1zM117 214h1v1h-1zM118 214h1v1h-1zM119 215h1v1h-1zM120 215h1v1h-1zM121 216h1v2h-1zM122 218h1v2h-1zM123 220h1v2h-1zM124 222h1v1h-1zM125 223h1v2h-1zM126 225h1v1h-1zM127 226h1v2h-1zM128 228h1v1h-1zM129 229h1v2h-1zM130 231h1v2h-1zM131 233h1v2h-1zM132 235h1v3h-1zM133 238h1v2h-1zM134 240h1v3h-1zM135 243h1v2h-1zM136 245h1v2h-1zM137 247h1v2h-1zM138 249h1v2h-1zM139 251h1v2h-1zM140 253h1v3h-1zM141 256h1v2h-1zM142 258h1v2h-1zM143 260h1v2h-1zM144 262h1v2h-1zM145 264h1v2h-1zM146 266h1v2h-1zM147 268h1v2h-1zM148 270h1v2h-1zM149 272h1v1h-1zM150 273h1v2h-1zM151 275h1v1h-1zM152 276h1v1h-1zM153 277h1v1h-1zM154 278h1v2h-1zM155 280h1v1h-1zM156 281h1v1h-1zM157 282h1v1h-1zM158 282h1v1h-1zM159 283h1v1h-1zM160 283h1v1h-1zM161 284h1v1h-1zM162 284h1v1h-1zM163 285h1v1h-1zM164 285h1v1h-1zM165 286h1v1h-1zM166 286h1v1h-1zM167 287h1v1h-1zM168 287h1v1h-1zM169 287h1v1h-1zM170 287h1v1h-1zM171 287h1v1h-1zM172 287h1v1h-1zM173 286h1v1h-1zM174 286h1v1h-1zM175 285h1v1h-1zM176 285h1v1h-1zM177 284h1v1h-1zM178 283h1v1h-1zM179 282h1v1h-1zM180 281h1v1h-1zM181 280h1v1h-1zM182 279h1v1h-1zM183 279h1v1h-1zM184 278h1v1h-1zM185 277h1v1h-1zM186 276h1v1h-1zM187 275h1v1h-1zM188 274h1v1h-1zM189 272h1v2h-1zM190 271h1v1h-1zM191 269h1v2h-1zM192 268h1v1h-1zM193 267h1v1h-1zM194 265h1v2h-1zM195 264h1v1h-1zM196 263h1v1h-1zM197 262h1v1h-1zM198 261h1v1h-1zM199 260h1v1h-1zM200 259h1v1h-1zM201 258h1v1h-1zM202 256h1v2h-1zM203 255h1v1h-1zM204 254h1v1h-1zM205 253h1v1h-1zM206 252h1v1h-1zM207 251h1v1h-1zM208 250h1v1h-1zM209 248h1v2h-1zM210 246h1v2h-1zM211 244h1v2h-1zM212 243h1v1h-1zM213 241h1v2h-1zM214 239h1v2h-1zM215 237h1v2h-1zM216 235h1v2h-1zM217 233h1v2h-1zM218 230h1v3h-1zM219 228h1v2h-1zM220 225h1v3h-1zM221 222h1v3h-1zM222 220h1v2h-1zM223 217h1v3h-1zM224 215h1v2h-1zM225 213h1v2h-1zM226 211h1v2h-1zM227 209h1v2h-1zM228 206h1v3h-1zM229 204h1v2h-1zM230 202h1v2h-1zM231 200h1v2h-1zM232 197h1v3h-1zM233 194h1v3h-1zM234 190h1v4h-1zM235 187h1v3h-1zM236 184h1v3h-1zM237 181h1v3h-1zM238 178h1v3h-1zM239 175h1v3h-1zM240 172h1v3h-1zM241 169h1v3h-1zM242 166h1v3h-1zM243 163h1v3h-1zM244 160h1v3h-1zM245 158h1v2h-1zM246 155h1v3h-1zM247 153h1v2h-1zM248 150h1v3h-1zM249 148h1v2h-1zM250 145h1v3h-1zM251 143h1v2h-1zM252 140h1v3h-1zM253 137h1v3h-1zM254 135h1v2h-1zM255 132h1v3h-1zM256 129h1v3h-1zM257 127h1v2h-1zM258 124h1v3h-1zM259 122h1v2h-1zM260 120h1v2h-1zM261 118h1v2h-1zM262 117h1v1h-1zM263 115h1v2h-1zM264 114h1v1h-1zM265 112h1v2h-1zM266 110h1v2h-1zM267 108h1v2h-1zM268 107h1v1h-1zM269 106h1v1h-1zM270 105h1v1h-1zM271 104h1v1h-1zM272 103h1v1h-1zM273 102h1v1h-1zM274 102h1v1h-1zM275 101h1v1h-1zM276 101h1v1h-1zM277 101h1v1h-1zM278 100h1v1h-1zM279 100h1v1h-1zM280 100h1v1h-1zM281 99h1v1h-1zM282 97h1v2h-1zM283 96h1v1h-1zM284 95h1v1h-1zM285 95h1v1h-1zM286 94h1v1h-1zM287 94h1v1h-1zM288 94h1v1h-1zM289 95h1v1h-1zM290 96h1v2h-1zM291 98h1v1h-1zM292 99h1v1h-1zM293 100h1v1h-1zM294 101h1v2h-1zM295 103h1v1h-1zM296 104h1v1h-1zM297 105h1v1h-1zM298 106h1v1h-1zM299 107h1v1h-1zM300 108h1v1h-1zM301 109h1v2h-1zM302 111h1v2h-1zM303 113h1v2h-1zM304 115h1v2h-1zM305 117h1v2h-1zM306 119h1v1h-1zM307 120h1v2h-1zM308 122h1v1h-1zM309 123h1v2h-1zM310 125h1v1h-1zM311 126h1v2h-1zM312 128h1v1h-1zM313 129h1v2h-1zM314 131h1v1h-1zM315 132h1v2h-1zM316 134h1v1h-1zM317 135h1v1h-1zM318 135h1v1h-1zM319 136h1v1h-1zM320 136h1v1h-1zM321 137h1v1h-1zM322 138h1v1h-1zM323 139h1v1h-1zM324 140h1v1h-1zM325 141h1v2h-1zM326 143h1v1h-1zM327 144h1v2h-1zM328 146h1v1h-1zM329 147h1v1h-1zM330 148h1v1h-1zM331 149h1v1h-1zM332 150h1v1h-1zM333 151h1v2h-1zM334 153h1v1h-1zM335 154h1v2h-1zM336 156h1v2h-1zM337 158h1v2h-1zM338 160h1v3h-1zM339 163h1v2h-1zM340 165h1v3h-1zM341 168h1v2h-1zM342 170h1v3h-1zM343 173h1v2h-1zM344 175h1v2h-1zM345 177h1v2h-1zM346 179h1v2h-1zM347 181h1v2h-1zM348 183h1v1h-1zM349 184h1v1h-1zM350 185h1v1h-1zM351 186h1v1h-1zM352 187h1v1h-1zM353 188h1v1h-1zM354 188h1v1h-1zM355 189h1v1h-1zM356 189h1v1h-1zM357 189h1v1h-1zM358 189h1v1h-1zM359 189h1v1h-1zM360 189h1v1h-1zM361 189h1v1h-1zM362 190h1v1h-1zM363 190h1v1h-1zM364 190h1v1h-1zM365 191h1v1h-1zM366 192h1v1h-1zM367 193h1v1h-1zM368 194h1v1h-1zM369 195h1v1h-1zM370 196h1v2h-1zM371 198h1v1h-1zM372 199h1v1h-1zM373 200h1v2h-1zM374 202h1v2h-1zM375 204h1v2h-1zM376 206h1v2h-1zM377 208h1v2h-1zM378 210h1v3h-1zM379 213h1v2h-1zM380 215h1v3h-1zM381 218h1v2h-1zM382 220h1v3h-1zM383 223h1v2h-1zM384 225h1v3h-1zM385 228h1v3h-1zM386 231h1v4h-1zM387 235h1v3h-1zM388 238h1v3h-1zM389 241h1v3h-1zM390 244h1v4h-1zM391 248h1v3h-1zM392 251h1v3h-1zM393 254h1v3h-1zM394 257h1v2h-1zM395 259h1v3h-1zM396 262h1v2h-1zM397 264h1v2h-1zM398 266h1v2h-1zM399 268h1v2h-1zM400 270h1v1h-1zM401 271h1v1h-1zM402 272h1v2h-1zM403 274h1v1h-1zM404 275h1v1h-1zM405 276h1v2h-1zM406 278h1v1h-1zM407 279h1v2h-1zM408 281h1v1h-1zM409 282h1v2h-1zM410 284h1v2h-1zM411 286h1v2h-1zM412 288h1v2h-1zM413 290h1v1h-1zM414 291h1v2h-1zM415 293h1v1h-1zM416 294h1v1h-1zM417 295h1v1h-1zM418 296h1v2h-1zM419 298h1v1h-1zM420 299h1v1h-1zM421 300h1v1h-1zM422 301h1v1h-1zM423 301h1v1h-1zM424 302h1v1h-1zM425 302h1v1h-1zM426 302h1v1h-1zM427 302h1v1h-1zM428 302h1v1h-1zM429 303h1v1h-1zM430 303h1v1h-1zM431 304h1v1h-1zM432 304h1v1h-1zM433 305h1v2h-1zM434 307h1v2h-1zM435 309h1v2h-1zM436 311h1v2h-1zM437 313h1v2h-1zM438 315h1v2h-1zM439 317h1v2h-1zM440 319h1v1h-1zM441 320h1v2h-1zM442 322h1v2h-1zM443 324h1v2h-1zM444 326h1v2h-1zM445 328h1v2h-1zM446 330h1v3h-1zM447 333h1v2h-1zM448 335h1v2h-1zM449 337h1v2h-1zM450 339h1v2h-1zM451 341h1v2h-1zM452 343h1v2h-1zM453 345h1v2h-1zM454 347h1v2h-1zM455 349h1v2h-1zM456 351h1v3h-1zM457 354h1v2h-1zM458 356h1v3h-1zM459 359h1v2h-1zM460 361h1v3h-1zM461 364h1v3h-1zM462 367h1v2h-1zM463 369h1v3h-1zM464 372h1v3h-1zM465 375h1v3h-1zM466 378h1v3h-1zM467 381h1v3h-1zM468 384h1v2h-1zM469 386h1v2h-1zM470 388h1v2h-1zM471 390h1v2h-1zM472 392h1v1h-1zM473 393h1v2h-1zM474 395h1v2h-1zM475 397h1v2h-1zM476 399h1v2h-1zM477 401h1v2h-1zM478 403h1v2h-1zM479 405h1v2h-1zM480 407h1v2h-1zM481 409h1v2h-1zM482 411h1v2h-1zM483 413h1v2h-1zM484 415h1v2h-1zM485 417h1v1h-1zM486 417h1v1h-1zM487 418h1v1h-1zM488 418h1v1h-1zM489 416h1v2h-1zM490 415h1v1h-1zM491 413h1v2h-1zM492 411h1v2h-1zM493 409h1v2h-1zM494 407h1v2h-1zM495 405h1v2h-1zM496 402h1v3h-1zM497 400h1v2h-1zM498 398h1v2h-1zM499 396h1v2h-1zM500 393h1v3h-1zM501 390h1v3h-1zM502 388h1v2h-1zM503 385h1v3h-1zM504 382h1v3h-1zM505 380h1v2h-1zM506 378h1v2h-1zM507 376h1v2h-1zM508 374h1v2h-1zM509 373h1v1h-1zM510 371h1v2h-1zM511 370h1v1h-1zM512 369h1v1h-1zM513 368h1v1h-1zM514 366h1v2h-1zM515 365h1v1h-1zM516 364h1v1h-1zM517 363h1v1h-1zM518 361h1v2h-1zM519 360h1v1h-1zM520 359h1v1h-1zM521 357h1v2h-1zM522 355h1v2h-1zM523 353h1v2h-1zM524 351h1v2h-1zM525 351h1v1h-1zM526 350h1v1h-1zM527 350h1v1h-1zM528 350h1v1h-1zM529 350h1v1h-1zM530 349h1v1h-1zM531 349h1v1h-1zM532 349h1v1h-1zM533 350h1v1h-1zM534 351h1v1h-1zM535 351h1v1h-1zM536 352h1v1h-1zM537 352h1v1h-1zM538 353h1v1h-1zM539 353h1v1h-1zM540 353h1v1h-1zM541 354h1v2h-1zM542 356h1v2h-1zM543 358h1v2h-1zM544 360h1v1h-1zM545 361h1v1h-1zM546 362h1v1h-1zM547 363h1v1h-1zM548 364h1v1h-1zM549 365h1v1h-1zM550 366h1v2h-1zM551 368h1v1h-1zM552 369h1v1h-1zM553 370h1v1h-1zM554 370h1v1h-1zM555 371h1v1h-1zM556 371h1v1h-1zM557 370h1v1h-1zM558 369h1v1h-1zM559 369h1v1h-1zM560 368h1v1h-1zM561 367h1v1h-1zM562 366h1v1h-1zM563 366h1v1h-1zM564 365h1v1h-1zM565 364h1v1h-1zM566 363h1v1h-1zM567 362h1v1h-1zM568 361h1v1h-1zM569 360h1v1h-1zM570 359h1v1h-1zM571 358h1v1h-1zM572 357h1v1h-1zM573 356h1v1h-1zM574 355h1v1h-1zM575 355h1v1h-1zM576 354h1v1h-1zM577 353h1v1h-1zM578 352h1v1h-1zM579 352h1v1h-1zM580 351h1v1h-1zM581 352h1v1h-1zM582 353h1v1h-1zM583 353h1v1h-1zM584 354h1v1h-1zM585 355h1v1h-1zM586 356h1v1h-1zM587 356h1v1h-1zM588 357h1v1h-1zM589 358h1v2h-1zM590 360h1v1h-1zM591 361h1v2h-1zM592 363h1v1h-1zM593 364h1v1h-1zM594 365h1v1h-1zM595 365h1v1h-1zM596 366h1v1h-1zM597 367h1v2h-1zM598 369h1v1h-1zM599 370h1v2h-1zM600 372h1v1h-1zM601 373h1v2h-1zM602 375h1v1h-1zM603 376h1v2h-1zM604 378h1v1h-1zM605 379h1v2h-1zM606 381h1v2h-1zM607 383h1v2h-1zM608 385h1v3h-1zM609 388h1v3h-1zM610 391h1v2h-1zM611 393h1v3h-1zM612 396h1v3h-1zM613 399h1v4h-1zM614 403h1v3h-1zM615 406h1v4h-1zM616 410h1v3h-1zM617 413h1v3h-1zM618 416h1v3h-1zM619 419h1v3h-1zM620 422h1v3h-1zM621 425h1v3h-1zM622 428h1v2h-1zM623 430h1v3h-1zM624 433h1v3h-1zM625 436h1v2h-1zM626 438h1v2h-1zM627 440h1v2h-1zM628 442h1v2h-1zM629 444h1v2h-1zM630 446h1v1h-1zM631 447h1v2h-1zM632 449h1v2h-1zM633 451h1v2h-1zM634 453h1v2h-1zM635 455h1v2h-1zM636 457h1v2h-1zM637 458h1v1h-1zM638 459h1v1h-1zM639 459h1v1h-1zM640 459h1v1h-1zM641 460h1v1h-1zM642 460h1v1h-1zM643 461h1v1h-1zM644 461h1v1h-1zM645 459h1v2h-1zM646 458h1v1h-1zM647 456h1v2h-1zM648 455h1v1h-1zM649 454h1v1h-1zM650 453h1v1h-1zM651 453h1v1h-1zM652 452h1v1h-1zM653 451h1v1h-1zM654 451h1v1h-1zM655 450h1v1h-1zM656 450h1v1h-1zM657 450h1v1h-1zM658 450h1v1h-1zM659 450h1v1h-1zM660 450h1v1h-1zM661 449h1v1h-1zM662 448h1v1h-1zM663 447h1v1h-1zM664 446h1v1h-1zM665 444h1v2h-1zM666 443h1v1h-1zM667 441h1v2h-1zM668 440h1v1h-1zM669 438h1v2h-1zM670 437h1v1h-1zM671 435h1v2h-1zM672 434h1v1h-1zM673 432h1v2h-1zM674 430h1v2h-1zM675 428h1v2h-1zM676 426h1v2h-1zM677 424h1v2h-1zM678 421h1v3h-1zM679 419h1v2h-1zM680 417h1v2h-1zM681 415h1v2h-1zM682 413h1v2h-1zM683 411h1v2h-1zM684 409h1v2h-1zM685 407h1v2h-1zM686 405h1v2h-1zM687 403h1v2h-1zM688 402h1v1h-1zM689 401h1v1h-1zM690 399h1v2h-1zM691 398h1v1h-1zM692 397h1v1h-1zM693 397h1v1h-1zM694 396h1v1h-1zM695 396h1v1h-1zM696 396h1v1h-1zM697 395h1v1h-1zM698 394h1v1h-1zM699 393h1v1h-1zM700 392h1v1h-1zM701 391h1v1h-1zM702 390h1v1h-1zM703 390h1v1h-1zM704 389h1v1h-1zM705 388h1v1h-1zM706 387h1v1h-1zM707 387h1v1h-1zM708 385h1v2h-1zM709 383h1v2h-1zM710 380h1v3h-1zM711 378h1v2h-1zM712 375h1v3h-1zM713 373h1v2h-1zM714 370h1v3h-1zM715 368h1v2h-1zM716 365h1v3h-1zM717 363h1v2h-1zM718 361h1v2h-1zM719 359h1v2h-1zM720 357h1v2h-1zM721 356h1v1h-1zM722 355h1v1h-1zM723 354h1v1h-1zM724 353h1v1h-1zM725 351h1v2h-1zM726 350h1v1h-1zM727 348h1v2h-1zM728 347h1v1h-1zM729 346h1v1h-1zM730 345h1v1h-1zM731 345h1v1h-1zM732 344h1v1h-1zM733 344h1v1h-1zM734 343h1v1h-1zM735 343h1v1h-1zM736 343h1v1h-1zM737 343h1v1h-1zM738 342h1v1h-1zM739 342h1v1h-1zM740 342h1v1h-1zM741 341h1v1h-1zM742 340h1v1h-1zM743 340h1v1h-1zM744 339h1v1h-1zM745 338h1v1h-1zM746 337h1v1h-1zM747 337h1v1h-1zM748 336h1v1h-1zM749 334h1v2h-1zM750 332h1v2h-1zM751 330h1v2h-1zM752 329h1v1h-1zM753 328h1v1h-1zM754 327h1v1h-1zM755 327h1v1h-1zM756 326h1v1h-1zM757 325h1v1h-1zM758 325h1v1h-1zM759 324h1v1h-1zM760 324h1v1h-1zM761 324h1v1h-1zM762 325h1v1h-1zM763 325h1v1h-1zM764 325h1v1h-1zM765 325h1v1h-1zM766 325h1v1h-1zM767 325h1v1h-1zM768 325h1v1h-1zM769 324h1v1h-1zM770 324h1v1h-1zM771 323h1v1h-1zM772 323h1v1h-1zM773 324h1v1h-1zM774 324h1v1h-1zM775 325h1v1h-1zM776 325h1v1h-1zM777 325h1v1h-1zM778 324h1v1h-1zM779 324h1v1h-1zM780 324h1v1h-1zM781 323h1v1h-1zM782 321h1v2h-1zM783 320h1v1h-1zM784 319h1v1h-1zM785 318h1v1h-1zM786 318h1v1h-1zM787 317h1v1h-1zM788 317h1v1h-1zM789 316h1v1h-1zM790 315h1v1h-1zM791 315h1v1h-1zM792 314h1v1h-1zM793 313h1v1h-1zM794 312h1v1h-1zM795 312h1v1h-1zM796 311h1v1h-1zM797 311h1v1h-1zM798 311h1v1h-1zM799 311h1v1h-1zM800 311h1v1h-1zM801 310h1v1h-1zM802 310h1v1h-1zM803 309h1v1h-1zM804 309h1v1h-1zM805 309h1v1h-1zM806 308h1v1h-1zM807 308h1v1h-1zM808 308h1v1h-1zM809 308h1v1h-1zM810 307h1v1h-1zM811 307h1v1h-1zM812 307h1v1h-1zM813 306h1v1h-1zM814 305h1v1h-1zM815 305h1v1h-1zM816 304h1v1h-1zM817 303h1v1h-1zM818 301h1v2h-1zM819 300h1v1h-1zM820 299h1v1h-1zM821 298h1v1h-1zM822 297h1v1h-1zM823 296h1v1h-1zM824 295h1v1h-1zM825 294h1v1h-1zM826 293h1v1h-1zM827 293h1v1h-1zM828 292h1v1h-1zM829 291h1v1h-1zM830 290h1v1h-1zM831 290h1v1h-1zM832 289h1v1h-1zM833 288h1v1h-1zM834 286h1v2h-1zM835 285h1v1h-1zM836 284h1v1h-1zM837 285h1v1h-1zM838 285h1v1h-1zM839 286h1v1h-1zM840 286h1v1h-1zM841 287h1v1h-1zM842 288h1v1h-1zM843 289h1v1h-1zM844 290h1v1h-1zM845 291h1v2h-1zM846 293h1v2h-1zM847 295h1v2h-1zM848 297h1v1h-1zM849 298h1v2h-1zM850 300h1v2h-1zM851 302h1v2h-1zM852 304h1v1h-1zM853 305h1v2h-1zM854 307h1v1h-1zM855 308h1v2h-1zM856 310h1v1h-1zM857 311h1v1h-1zM858 312h1v1h-1zM859 312h1v1h-1zM860 313h1v1h-1zM861 314h1v1h-1zM862 315h1v1h-1zM863 315h1v1h-1zM864 316h1v1h-1zM865 316h1v1h-1zM866 317h1v1h-1zM867 317h1v1h-1zM868 317h1v1h-1zM869 317h1v1h-1zM870 317h1v1h-1zM871 317h1v1h-1zM872 317h1v1h-1zM873 317h1v1h-1zM874 317h1v1h-1zM875 317h1v1h-1zM876 317h1v1h-1zM877 317h1v1h-1zM878 318h1v1h-1zM879 318h1v1h-1zM880 318h1v1h-1zM881 319h1v1h-1zM882 319h1v1h-1zM883 320h1v1h-1zM884 320h1v1h-1zM885 321h1v1h-1zM886 322h1v1h-1zM887 323h1v1h-1zM888 324h1v1h-1zM889 325h1v2h-1zM890 327h1v2h-1zM891 329h1v2h-1zM892 331h1v1h-1zM893 332h1v2h-1zM894 334h1v1h-1zM895 335h1v2h-1zM896 337h1v1h-1zM897 337h1v1h-1zM898 338h1v1h-1zM899 338h1v1h-1zM900 338h1v1h-1zM901 338h1v1h-1zM902 337h1v1h-1zM903 337h1v1h-1zM904 337h1v1h-1zM905 336h1v1h-1zM906 335h1v1h-1zM907 334h1v1h-1zM908 333h1v1h-1zM909 332h1v1h-1zM910 331h1v1h-1zM911 330h1v1h-1zM912 329h1v1h-1zM913 328h1v1h-1zM914 327h1v1h-1zM915 327h1v1h-1zM916 326h1v1h-1zM917 325h1v1h-1zM918 324h1v1h-1zM919 323h1v1h-1zM920 322h1v1h-1zM921 321h1v1h-1zM922 320h1v1h-1zM923 320h1v1h-1zM924 319h1v1h-1zM925 319h1v1h-1zM926 319h1v1h-1zM927 319h1v1h-1zM928 319h1v1h-1zM929 319h1v1h-1zM930 320h1v1h-1zM931 320h1v1h-1zM932 320h1v1h-1zM933 321h1v1h-1zM934 322h1v1h-1zM935 323h1v1h-1zM936 324h1v1h-1zM937 325h1v1h-1zM938 326h1v1h-1zM939 326h1v1h-1zM940 327h1v1h-1zM941 327h1v1h-1zM942 328h1v1h-1zM943 328h1v1h-1zM944 328h1v1h-1zM945 327h1v1h-1zM946 327h1v1h-1zM947 326h1v1h-1zM948 326h1v1h-1zM949 326h1v1h-1zM950 325h1v1h-1zM951 325h1v1h-1zM952 325h1v1h-1zM953 324h1v1h-1zM954 323h1v1h-1zM955 323h1v1h-1zM956 322h1v1h-1zM957 321h1v1h-1zM958 320h1v1h-1zM959 320h1v1h-1zM960 319h1v1h-1zM961 319h1v1h-1zM962 319h1v1h-1zM963 319h1v1h-1zM964 319h1v1h-1zM965 318h1v1h-1zM966 318h1v1h-1zM967 317h1v1h-1zM968 317h1v1h-1zM969 317h1v1h-1zM970 316h1v1h-1zM971 316h1v1h-1zM972 316h1v1h-1zM973 316h1v1h-1zM974 316h1v1h-1zM975 316h1v1h-1zM976 316h1v1h-1zM977 316h1v1h-1zM978 315h1v1h-1zM979 315h1v1h-1zM980 315h1v1h-1zM981 314h1v1h-1zM982 313h1v1h-1zM983 313h1v1h-1zM984 312h1v1h-1zM985 311h1v1h-1zM986 310h1v1h-1zM987 310h1v1h-1zM988 309h1v1h-1zM989 307h1v2h-1zM990 306h1v1h-1zM991 304h1v2h-1zM992 303h1v1h-1zM993 301h1v2h-1zM994 299h1v2h-1zM995 297h1v2h-1zM996 296h1v1h-1zM997 295h1v1h-1zM998 295h1v1h-1zM999 294h1v1h-1zM1000 294h1v1h-1zM1001 295h1v1h-1zM1002 295h1v1h-1zM1003 296h1v1h-1zM1004 296h1v1h-1zM1005 296h1v1h-1zM1006 296h1v1h-1zM1007 296h1v1h-1zM1008 296h1v1h-1zM1009 296h1v1h-1zM1010 297h1v1h-1zM1011 297h1v1h-1zM1012 297h1v1h-1zM1013 297h1v1h-1zM1014 297h1v1h-1zM1015 297h1v1h-1zM1016 297h1v1h-1zM1017 297h1v1h-1zM1018 298h1v1h-1zM1019 298h1v1h-1zM1020 298h1v1h-1zM1021 299h1v1h-1zM1022 300h1v1h-1zM1023 301h1v1h-1zM1024 302h1v1h-1zM1025 303h1v2h-1zM1026 305h1v2h-1zM1027 307h1v2h-1zM1028 309h1v1h-1zM1029 310h1v2h-1zM1030 312h1v2h-1zM1031 314h1v2h-1zM1032 316h1v1h-1zM1033 317h1v2h-1zM1034 319h1v2h-1zM1035 321h1v2h-1zM1036 323h1v2h-1zM1037 325h1v2h-1zM1038 327h1v2h-1zM1039 329h1v2h-1zM1040 331h1v3h-1zM1041 334h1v2h-1zM1042 336h1v2h-1zM1043 338h1v2h-1zM1044 340h1v3h-1zM1045 343h1v2h-1zM1046 345h1v2h-1zM1047 347h1v2h-1zM1048 349h1v3h-1zM1049 352h1v3h-1zM1050 355h1v4h-1zM1051 359h1v3h-1zM1052 362h1v2h-1zM1053 364h1v2h-1zM1054 366h1v2h-1zM1055 368h1v2h-1zM1056 370h1v1h-1zM1057 371h1v1h-1zM1058 372h1v1h-1zM1059 373h1v1h-1zM1060 374h1v1h-1zM1061 375h1v1h-1zM1062 376h1v1h-1zM1063 377h1v1h-1zM1064 378h1v1h-1zM1065 379h1v1h-1zM1066 380h1v1h-1zM1067 381h1v1h-1zM1068 382h1v1h-1zM1069 383h1v1h-1zM1070 384h1v2h-1zM1071 386h1v1h-1zM1072 387h1v1h-1zM1073 388h1v2h-1zM1074 390h1v1h-1zM1075 391h1v2h-1zM1076 393h1v1h-1zM1077 394h1v1h-1zM1078 395h1v2h-1zM1079 397h1v1h-1zM1080 398h1v1h-1zM1081 399h1v1h-1zM1082 400h1v1h-1zM1083 400h1v1h-1zM1084 401h1v1h-1zM1085 402h1v2h-1zM1086 404h1v1h-1zM1087 405h1v2h-1zM1088 407h1v2h-1zM1089 409h1v2h-1zM1090 411h1v2h-1zM1091 413h1v2h-1zM1092 415h1v2h-1zM1093 417h1v2h-1zM1094 419h1v2h-1zM1095 421h1v2h-1zM1096 423h1v3h-1zM1097 426h1v2h-1zM1098 428h1v2h-1zM1099 430h1v2h-1zM1100 432h1v3h-1zM1101 435h1v2h-1zM1102 437h1v3h-1zM1103 440h1v2h-1zM1104 442h1v2h-1zM1105 444h1v2h-1zM1106 446h1v1h-1zM1107 447h1v2h-1zM1108 449h1v1h-1zM1109 450h1v2h-1zM1110 452h1v2h-1zM1111 454h1v2h-1zM1112 456h1v1h-1zM1113 457h1v1h-1zM1114 458h1v1h-1zM1115 459h1v1h-1zM1116 460h1v1h-1zM1117 461h1v2h-1zM1118 463h1v2h-1zM1119 465h1v2h-1zM1120 467h1v2h-1zM1121 469h1v2h-1zM1122 471h1v1h-1zM1123 472h1v2h-1zM1124 474h1v1h-1zM1125 475h1v2h-1zM1126 477h1v2h-1zM1127 479h1v2h-1zM1128 481h1v1h-1zM1129 482h1v1h-1zM1130 483h1v1h-1zM1131 484h1v1h-1zM1132 485h1v1h-1zM1133 486h1v1h-1zM1134 487h1v1h-1zM1135 488h1v1h-1zM1136 489h1v1h-1zM1137 490h1v2h-1zM1138 492h1v1h-1zM1139 493h1v2h-1zM1140 495h1v1h-1zM1141 496h1v1h-1zM1142 496h1v1h-1zM1143 497h1v1h-1zM1144 497h1v1h-1zM1145 498h1v1h-1zM1146 499h1v1h-1zM1147 499h1v1h-1zM1148 500h1v1h-1zM1149 501h1v1h-1zM1150 502h1v1h-1zM1151 502h1v1h-1zM1152 503h1v1h-1zM1153 504h1v1h-1zM1154 504h1v1h-1zM1155 505h1v1h-1zM1156 505h1v1h-1zM1157 505h1v1h-1zM1158 505h1v1h-1zM1159 505h1v1h-1zM1160 505h1v1h-1zM1161 505h1v1h-1zM1162 506h1v1h-1zM1163 506h1v1h-1zM1164 506h1v1h-1zM1165 506h1v1h-1zM1166 507h1v1h-1zM1167 507h1v1h-1zM1168 507h1v1h-1zM1169 508h1v1h-1zM1170 509h1v1h-1zM1171 509h1v1h-1zM1172 510h1v1h-1zM1173 510h1v1h-1zM1174 509h1v1h-1zM1175 509h1v1h-1zM1176 509h1v1h-1zM1177 510h1v1h-1zM1178 510h1v1h-1zM1179 511h1v1h-1zM1180 511h1v1h-1zM1181 511h1v1h-1zM1182 510h1v1h-1zM1183 510h1v1h-1zM1184 510h1v1h-1zM1185 511h1v1h-1zM1186 511h1v1h-1zM1187 512h1v1h-1zM1188 512h1v1h-1zM1189 513h1v1h-1zM1190 513h1v1h-1zM1191 514h1v1h-1zM1192 514h1v1h-1zM1193 514h1v1h-1zM1194 513h1v1h-1zM1195 513h1v1h-1zM1196 513h1v1h-1zM1197 512h1v1h-1zM1198 512h1v1h-1zM1199 511h1v1h-1zM1200 511h1v1h-1zM1201 511h1v1h-1zM1202 511h1v1h-1zM1203 511h1v1h-1zM1204 511h1v1h-1zM1205 511h1v1h-1zM1206 511h1v1h-1zM1207 511h1v1h-1zM1208 511h1v1h-1zM1209 511h1v1h-1zM1210 512h1v1h-1zM1211 512h1v1h-1zM1212 512h1v1h-1zM1213 512h1v1h-1zM1214 513h1v1h-1zM1215 513h1v1h-1zM1216 513h1v1h-1zM1217 513h1v1h-1zM1218 512h1v1h-1zM1219 512h1v1h-1zM1220 512h1v1h-1zM1221 511h1v1h-1zM1222 510h1v1h-1zM1223 510h1v1h-1zM1224 509h1v1h-1zM1225 508h1v1h-1zM1226 507h1v1h-1zM1227 506h1v1h-1zM1228 505h1v1h-1zM1229 504h1v1h-1zM1230 503h1v1h-1zM1231 502h1v1h-1zM1232 501h1v1h-1zM1233 500h1v1h-1zM1234 498h1v2h-1zM1235 497h1v1h-1zM1236 496h1v1h-1zM1237 495h1v1h-1zM1238 494h1v1h-1zM1239 493h1v1h-1zM1240 492h1v1h-1zM1241 491h1v1h-1zM1242 490h1v1h-1zM1243 489h1v1h-1zM1244 488h1v1h-1zM1245 487h1v1h-1zM1246 486h1v1h-1zM1247 485h1v1h-1zM1248 484h1v1h-1zM1249 483h1v1h-1zM1250 482h1v1h-1zM1251 482h1v1h-1zM1252 481h1v1h-1zM1253 480h1v1h-1zM1254 479h1v1h-1zM1255 478h1v1h-1zM1256 477h1v1h-1zM1257 475h1v2h-1zM1258 473h1v2h-1zM1259 471h1v2h-1zM1260 468h1v3h-1zM1261 466h1v2h-1zM1262 463h1v3h-1zM1263 461h1v2h-1zM1264 458h1v3h-1zM1265 455h1v3h-1zM1266 453h1v2h-1zM1267 450h1v3h-1zM1268 447h1v3h-1zM1269 444h1v3h-1zM1270 442h1v2h-1zM1271 439h1v3h-1zM1272 437h1v2h-1zM1273 435h1v2h-1zM1274 433h1v2h-1zM1275 431h1v2h-1zM1276 430h1v1h-1zM1277 429h1v1h-1zM1278 428h1v1h-1zM1279 428h1v1h-1zM1280 427h1v1h-1zM1281 426h1v1h-1zM1282 426h1v1h-1zM1283 425h1v1h-1zM1284 425h1v1h-1zM1285 425h1v1h-1zM1286 424h1v1h-1zM1287 424h1v1h-1zM1288 424h1v1h-1zM1289 424h1v1h-1zM1290 424h1v1h-1zM1291 424h1v1h-1zM1292 424h1v1h-1zM1293 424h1v1h-1zM1294 424h1v1h-1zM1295 424h1v1h-1zM1296 424h1v1h-1zM1297 425h1v1h-1zM1298 425h1v1h-1zM1299 426h1v1h-1zM1300 426h1v1h-1z" fill="#ff0000" shape-rendering="crispEdges"/>
<path d="M0 218h1v2h-1zM1 215h1v3h-1zM2 213h1v2h-1zM3 210h1v3h-1zM4 207h1v3h-1zM5 205h1v2h-1zM6 202h1v3h-1zM7 200h1v2h-1zM8 198h1v2h-1zM9 197h1v1h-1zM10 196h1v1h-1zM11 195h1v1h-1zM12 194h1v1h-1zM13 195h1v2h-1zM14 197h1v2h-1zM15 199h1v2h-1zM16 201h1v2h-1zM17 203h1v2h-1zM18 205h1v2h-1zM19 207h1v2h-1zM20 209h1v3h-1zM21 212h1v3h-1zM22 215h1v4h-1zM23 219h1v3h-1zM24 222h1v3h-1zM25 225h1v3h-1zM26 228h1v3h-1zM27 231h1v3h-1zM28 234h1v3h-1zM29 237h1v2h-1zM30 239h1v2h-1zM31 241h1v2h-1zM32 243h1v2h-1zM33 245h1v2h-1zM34 247h1v1h-1zM35 248h1v2h-1zM36 250h1v1h-1zM37 251h1v1h-1zM38 252h1v1h-1zM39 252h1v1h-1zM40 253h1v1h-1zM41 253h1v1h-1zM42 252h1v1h-1zM43 252h1v1h-1zM44 252h1v1h-1zM45 252h1v1h-1zM46 253h1v1h-1zM47 253h1v1h-1zM48 253h1v1h-1zM49 254h1v2h-1zM50 256h1v2h-1zM51 258h1v2h-1zM52 260h1v1h-1zM53 261h1v1h-1zM54 262h1v1h-1zM55 262h1v1h-1zM56 263h1v1h-1zM57 263h1v1h-1zM58 264h1v1h-1zM59 264h1v1h-1zM60 264h1v1h-1zM61 264h1v1h-1zM62 265h1v1h-1zM63 265h1v1h-1zM64 265h1v1h-1zM65 263h1v2h-1zM66 261h1v2h-1zM67 259h1v2h-1zM68 256h1v3h-1zM69 252h1v4h-1zM70 249h1v3h-1zM71 245h1v4h-1zM72 241h1v4h-1zM73 237h1v4h-1zM74 233h1v4h-1zM75 229h1v4h-1zM76 225h1v4h-1zM77 221h1v4h-1zM78 218h1v3h-1zM79 214h1v4h-1zM80 211h1v3h-1zM81 208h1v3h-1zM82 204h1v4h-1zM83 201h1v3h-1zM84 198h1v3h-1zM85 195h1v3h-1zM86 192h1v3h-1zM87 189h1v3h-1zM88 187h1v2h-1zM89 185h1v2h-1zM90 184h1v1h-1zM91 182h1v2h-1zM92 181h1v1h-1zM93 182h1v2h-1zM94 184h1v1h-1zM95 185h1v2h-1zM96 187h1v1h-1zM97 188h1v2h-1zM98 190h1v1h-1zM99 191h1v2h-1zM100 193h1v1h-1zM101 194h1v2h-1zM102 196h1v2h-1zM103 198h1v2h-1zM104 200h1v3h-1zM105 203h1v4h-1zM106 207h1v4h-1zM107 211h1v4h-1zM108 215h1v3h-1zM109 218h1v3h-1zM110 221h1v3h-1zM111 224h1v3h-1zM112 227h1v2h-1zM113 229h1v2h-1zM114 231h1v2h-1zM115 233h1v2h-1zM116 235h1v3h-1zM117 238h1v3h-1zM118 241h1v2h-1zM119 243h1v3h-1zM120 246h1v4h-1zM121 250h1v4h-1zM122 254h1v4h-1zM123 258h1v4h-1zM124 262h1v4h-1zM125 266h1v4h-1zM126 270h1v3h-1zM127 273h1v4h-1zM128 277h1v3h-1zM129 280h1v2h-1zM130 282h1v3h-1zM131 285h1v2h-1zM132 287h1v3h-1zM133 290h1v4h-1zM134 294h1v3h-1zM135 297h1v4h-1zM136 301h1v2h-1zM137 303h1v2h-1zM138 305h1v1h-1zM139 306h1v2h-1zM140 308h1v1h-1zM141 307h1v1h-1zM142 306h1v1h-1zM143 305h1v1h-1zM144 304h1v1h-1zM145 303h1v1h-1zM146 303h1v1h-1zM147 302h1v1h-1zM148 302h1v1h-1zM149 301h1v1h-1zM150 300h1v1h-1zM151 300h1v1h-1zM152 299h1v1h-1zM153 297h1v2h-1zM154 295h1v2h-1zM155 293h1v2h-1zM156 292h1v1h-1zM157 290h1v2h-1zM158 288h1v2h-1zM159 286h1v2h-1zM160 284h1v2h-1zM161 282h1v2h-1zM162 280h1v2h-1zM163 278h1v2h-1zM164 277h1v1h-1zM165 276h1v1h-1zM166 275h1v1h-1zM167 275h1v1h-1zM168 274h1v1h-1zM169 272h1v2h-1zM170 271h1v1h-1zM171 269h1v2h-1zM172 268h1v1h-1zM173 266h1v2h-1zM174 264h1v2h-1zM175 262h1v2h-1zM176 260h1v2h-1zM177 259h1v1h-1zM178 259h1v1h-1zM179 258h1v1h-1zM180 258h1v1h-1zM181 258h1v1h-1zM182 257h1v1h-1zM183 257h1v1h-1zM184 257h1v1h-1zM185 256h1v1h-1zM186 254h1v2h-1zM187 253h1v1h-1zM188 252h1v1h-1zM189 251h1v1h-1zM190 250h1v1h-1zM191 250h1v1h-1zM192 249h1v1h-1zM193 248h1v1h-1zM194 247h1v1h-1zM195 246h1v1h-1zM196 245h1v1h-1zM197 244h1v1h-1zM198 243h1v1h-1zM199 243h1v1h-1zM200 242h1v1h-1zM201 240h1v2h-1zM202 239h1v1h-1zM203 237h1v2h-1zM204 236h1v1h-1zM205 234h1v2h-1zM206 232h1v2h-1zM207 230h1v2h-1zM208 229h1v1h-1zM209 227h1v2h-1zM210 225h1v2h-1zM211 223h1v2h-1zM212 221h1v2h-1zM213 218h1v3h-1zM214 215h1v3h-1zM215 212h1v3h-1zM216 208h1v4h-1zM217 202h1v6h-1zM218 196h1v6h-1zM219 190h1v6h-1zM220 184h1v6h-1zM221 179h1v5h-1zM222 174h1v5h-1zM223 169h1v5h-1zM224 164h1v5h-1zM225 160h1v4h-1zM226 155h1v5h-1zM227 151h1v4h-1zM228 147h1v4h-1zM229 143h1v4h-1zM230 139h1v4h-1zM231 135h1v4h-1zM232 131h1v4h-1zM233 126h1v5h-1zM234 121h1v5h-1zM235 116h1v5h-1zM236 113h1v3h-1zM237 112h1v1h-1zM238 110h1v2h-1zM239 109h1v1h-1zM240 108h1v1h-1zM241 106h1v2h-1zM242 104h1v2h-1zM243 102h1v2h-1zM244 100h1v2h-1zM245 98h1v2h-1zM246 96h1v2h-1zM247 94h1v2h-1zM248 92h1v2h-1zM249 90h1v2h-1zM250 89h1v1h-1zM251 87h1v2h-1zM252 86h1v1h-1zM253 87h1v1h-1zM254 88h1v1h-1zM255 88h1v1h-1zM256 89h1v1h-1zM257 88h1v1h-1zM258 88h1v1h-1zM259 87h1v1h-1zM260 87h1v2h-1zM261 89h1v2h-1zM262 91h1v3h-1zM263 94h1v2h-1zM264 96h1v2h-1zM265 98h1v1h-1zM266 98h1v1h-1zM267 99h1v1h-1zM268 99h1v1h-1zM269 100h1v1h-1zM270 100h1v1h-1zM271 101h1v1h-1zM272 101h1v1h-1zM273 102h1v1h-1zM274 103h1v2h-1zM275 105h1v1h-1zM276 106h1v1h-1zM277 107h1v1h-1zM278 108h1v1h-1zM279 108h1v1h-1zM280 108h1v2h-1zM281 105h1v3h-1zM282 101h1v4h-1zM283 98h1v3h-1zM284 96h1v2h-1zM285 96h1v1h-1zM286 96h1v1h-1zM287 96h1v1h-1zM288 96h1v1h-1zM289 97h1v2h-1zM290 99h1v2h-1zM291 101h1v2h-1zM292 103h1v2h-1zM293 105h1v3h-1zM294 108h1v3h-1zM295 111h1v3h-1zM296 114h1v3h-1zM297 117h1v2h-1zM298 119h1v2h-1zM299 121h1v2h-1zM300 123h1v5h-1zM301 128h1v6h-1zM302 134h1v6h-1zM303 140h1v6h-1zM304 146h1v5h-1zM305 151h1v4h-1zM306 155h1v4h-1zM307 159h1v4h-1zM308 163h1v3h-1zM309 166h1v2h-1zM310 168h1v2h-1zM311 170h1v2h-1zM312 172h1v1h-1zM313 172h1v1h-1zM314 173h1v1h-1zM315 173h1v1h-1zM316 173h1v1h-1zM317 174h1v1h-1zM318 175h1v1h-1zM319 175h1v1h-1zM320 176h1v1h-1zM321 174h1v2h-1zM322 172h1v2h-1zM323 170h1v2h-1zM324 168h1v2h-1zM325 168h1v1h-1zM326 169h1v1h-1zM327 169h1v1h-1zM328 169h1v1h-1zM329 168h1v1h-1zM330 168h1v1h-1zM331 167h1v1h-1zM332 167h1v1h-1zM333 168h1v1h-1zM334 168h1v1h-1zM335 169h1v1h-1zM336 169h1v2h-1zM337 171h1v3h-1zM338 174h1v2h-1zM339 176h1v3h-1zM340 179h1v3h-1zM341 182h1v4h-1zM342 186h1v4h-1zM343 190h1v4h-1zM344 194h1v3h-1zM345 197h1v3h-1zM346 200h1v3h-1zM347 203h1v3h-1zM348 206h1v3h-1zM349 209h1v2h-1zM350 211h1v3h-1zM351 214h1v2h-1zM352 216h1v2h-1zM353 217h1v1h-1zM354 218h1v1h-1zM355 218h1v1h-1zM356 218h1v1h-1zM357 217h1v1h-1zM358 215h1v2h-1zM359 214h1v1h-1zM360 212h1v2h-1zM361 210h1v2h-1zM362 208h1v2h-1zM363 206h1v2h-1zM364 204h1v2h-1zM365 203h1v1h-1zM366 202h1v1h-1zM367 202h1v1h-1zM368 201h1v1h-1zM369 202h1v2h-1zM370 204h1v1h-1zM371 205h1v2h-1zM372 207h1v2h-1zM373 209h1v4h-1zM374 213h1v4h-1zM375 217h1v4h-1zM376 221h1v5h-1zM377 226h1v5h-1zM378 231h1v6h-1zM379 237h1v5h-1zM380 242h1v6h-1zM381 248h1v6h-1zM382 254h1v7h-1zM383 261h1v6h-1zM384 267h1v7h-1zM385 274h1v6h-1zM386 280h1v6h-1zM387 286h1v6h-1zM388 292h1v6h-1zM389 298h1v6h-1zM390 304h1v5h-1zM391 309h1v6h-1zM392 315h1v5h-1zM393 320h1v5h-1zM394 325h1v6h-1zM395 331h1v5h-1zM396 336h1v3h-1zM397 339h1v2h-1zM398 341h1v2h-1zM399 343h1v2h-1zM400 345h1v1h-1zM401 345h1v1h-1zM402 344h1v1h-1zM403 344h1v1h-1zM404 343h1v2h-1zM405 341h1v2h-1zM406 338h1v3h-1zM407 336h1v2h-1zM408 333h1v3h-1zM409 330h1v3h-1zM410 327h1v3h-1zM411 324h1v3h-1zM412 320h1v4h-1zM413 315h1v5h-1zM414 309h1v6h-1zM415 304h1v5h-1zM416 300h1v4h-1zM417 296h1v4h-1zM418 292h1v4h-1zM419 288h1v4h-1zM420 285h1v3h-1zM421 283h1v2h-1zM422 280h1v3h-1zM423 278h1v2h-1zM424 276h1v2h-1zM425 274h1v2h-1zM426 272h1v2h-1zM427 270h1v2h-1zM428 268h1v2h-1zM429 267h1v1h-1zM430 266h1v1h-1zM431 266h1v1h-1zM432 265h1v4h-1zM433 269h1v7h-1zM434 276h1v8h-1zM435 284h1v7h-1zM436 291h1v8h-1zM437 299h1v8h-1zM438 307h1v9h-1zM439 316h1v8h-1zM440 324h1v9h-1zM441 333h1v9h-1zM442 342h1v9h-1zM443 351h1v9h-1zM444 360h1v10h-1zM445 370h1v12h-1zM446 382h1v11h-1zM447 393h1v12h-1zM448 405h1v10h-1zM449 415h1v10h-1zM450 425h1v10h-1zM451 435h1v10h-1zM452 445h1v6h-1zM453 451h1v2h-1zM454 453h1v3h-1zM455 456h1v2h-1zM456 458h1v2h-1zM457 460h1v1h-1zM458 461h1v1h-1zM459 462h1v1h-1zM460 463h1v1h-1zM461 464h1v1h-1zM462 464h1v1h-1zM463 465h1v1h-1zM464 465h1v1h-1zM465 463h1v2h-1zM466 462h1v1h-1zM467 460h1v2h-1zM468 457h1v3h-1zM469 451h1v6h-1zM470 445h1v6h-1zM471 439h1v6h-1zM472 435h1v4h-1zM473 431h1v4h-1zM474 427h1v4h-1zM475 423h1v4h-1zM476 418h1v5h-1zM477 414h1v4h-1zM478 410h1v4h-1zM479 406h1v4h-1zM480 402h1v4h-1zM481 398h1v4h-1zM482 394h1v4h-1zM483 390h1v4h-1zM484 384h1v6h-1zM485 377h1v7h-1zM486 370h1v7h-1zM487 363h1v7h-1zM488 358h1v5h-1zM489 356h1v2h-1zM490 353h1v3h-1zM491 351h1v2h-1zM492 348h1v3h-1zM493 345h1v3h-1zM494 341h1v4h-1zM495 338h1v3h-1zM496 335h1v3h-1zM497 333h1v2h-1zM498 330h1v3h-1zM499 328h1v2h-1zM500 326h1v2h-1zM501 324h1v2h-1zM502 322h1v2h-1zM503 320h1v2h-1zM504 319h1v1h-1zM505 320h1v2h-1zM506 322h1v1h-1zM507 323h1v2h-1zM508 325h1v2h-1zM509 327h1v3h-1zM510 330h1v4h-1zM511 334h1v3h-1zM512 337h1v3h-1zM513 340h1v4h-1zM514 344h1v4h-1zM515 348h1v4h-1zM516 352h1v4h-1zM517 356h1v3h-1zM518 359h1v4h-1zM519 363h1v3h-1zM520 366h1v2h-1zM521 367h1v1h-1zM522 367h1v1h-1zM523 367h1v1h-1zM524 367h1v1h-1zM525 368h1v1h-1zM526 368h1v1h-1zM527 369h1v1h-1zM528 369h1v1h-1zM529 368h1v1h-1zM530 367h1v1h-1zM531 366h1v1h-1zM532 365h1v1h-1zM533 366h1v1h-1zM534 367h1v1h-1zM535 367h1v1h-1zM536 368h1v1h-1zM537 369h1v1h-1zM538 370h1v1h-1zM539 371h1v1h-1zM540 372h1v2h-1zM541 374h1v3h-1zM542 377h1v4h-1zM543 381h1v3h-1zM544 384h1v2h-1zM545 386h1v1h-1zM546 387h1v1h-1zM547 388h1v1h-1zM548 389h1v1h-1zM549 390h1v1h-1zM550 391h1v1h-1zM551 391h1v1h-1zM552 391h1v2h-1zM553 388h1v3h-1zM554 384h1v4h-1zM555 381h1v3h-1zM556 377h1v4h-1zM557 373h1v4h-1zM558 368h1v5h-1zM559 364h1v4h-1zM560 359h1v5h-1zM561 353h1v6h-1zM562 348h1v5h-1zM563 342h1v6h-1zM564 338h1v4h-1zM565 335h1v3h-1zM566 333h1v2h-1zM567 330h1v3h-1zM568 327h1v3h-1zM569 325h1v2h-1zM570 323h1v2h-1zM571 321h1v2h-1zM572 319h1v2h-1zM573 319h1v1h-1zM574 319h1v1h-1zM575 319h1v1h-1zM576 319h1v1h-1zM577 319h1v1h-1zM578 318h1v1h-1zM579 318h1v1h-1zM580 318h1v3h-1zM581 321h1v5h-1zM582 326h1v6h-1zM583 332h1v5h-1zM584 337h1v4h-1zM585 341h1v4h-1zM586 345h1v4h-1zM587 349h1v4h-1zM588 353h1v5h-1zM589 358h1v8h-1zM590 366h1v8h-1zM591 374h1v8h-1zM592 382h1v6h-1zM593 388h1v5h-1zM594 393h1v6h-1zM595 399h1v5h-1zM596 404h1v7h-1zM597 411h1v10h-1zM598 421h1v9h-1zM599 430h1v10h-1zM600 440h1v6h-1zM601 446h1v3h-1zM602 449h1v3h-1zM603 452h1v3h-1zM604 455h1v4h-1zM605 459h1v5h-1zM606 464h1v4h-1zM607 468h1v5h-1zM608 473h1v3h-1zM609 475h1v1h-1zM610 474h1v1h-1zM611 474h1v1h-1zM612 474h1v2h-1zM613 476h1v4h-1zM614 480h1v3h-1zM615 483h1v4h-1zM616 487h1v2h-1zM617 486h1v2h-1zM618 485h1v1h-1zM619 483h1v2h-1zM620 482h1v1h-1zM621 483h1v1h-1zM622 484h1v1h-1zM623 484h1v1h-1zM624 485h1v1h-1zM625 483h1v2h-1zM626 481h1v2h-1zM627 479h1v2h-1zM628 476h1v3h-1zM629 473h1v3h-1zM630 469h1v4h-1zM631 466h1v3h-1zM632 463h1v3h-1zM633 459h1v4h-1zM634 456h1v3h-1zM635 452h1v4h-1zM636 449h1v3h-1zM637 446h1v3h-1zM638 444h1v2h-1zM639 441h1v3h-1zM640 438h1v3h-1zM641 436h1v2h-1zM642 434h1v2h-1zM643 432h1v2h-1zM644 429h1v3h-1zM645 427h1v2h-1zM646 424h1v3h-1zM647 422h1v2h-1zM648 420h1v2h-1zM649 418h1v2h-1zM650 417h1v1h-1zM651 415h1v2h-1zM652 414h1v1h-1zM653 415h1v2h-1zM654 417h1v1h-1zM655 418h1v2h-1zM656 420h1v2h-1zM657 422h1v3h-1zM658 425h1v2h-1zM659 427h1v3h-1zM660 430h1v2h-1zM661 432h1v1h-1zM662 432h1v1h-1zM663 433h1v1h-1zM664 433h1v1h-1zM665 433h1v1h-1zM666 433h1v1h-1zM667 433h1v1h-1zM668 433h1v1h-1zM669 434h1v1h-1zM670 435h1v2h-1zM671 437h1v1h-1zM672 436h1v3h-1zM673 432h1v4h-1zM674 427h1v5h-1zM675 423h1v4h-1zM676 417h1v6h-1zM677 410h1v7h-1zM678 404h1v6h-1zM679 397h1v7h-1zM680 391h1v6h-1zM681 386h1v5h-1zM682 380h1v6h-1zM683 375h1v5h-1zM684 371h1v4h-1zM685 367h1v4h-1zM686 363h1v4h-1zM687 359h1v4h-1zM688 356h1v3h-1zM689 353h1v3h-1zM690 351h1v2h-1zM691 348h1v3h-1zM692 346h1v2h-1zM693 347h1v2h-1zM694 349h1v1h-1zM695 350h1v2h-1zM696 352h1v1h-1zM697 353h1v2h-1zM698 355h1v1h-1zM699 356h1v2h-1zM700 358h1v1h-1zM701 359h1v2h-1zM702 361h1v2h-1zM703 363h1v2h-1zM704 365h1v1h-1zM705 366h1v1h-1zM706 367h1v1h-1zM707 368h1v1h-1zM708 369h1v1h-1zM709 367h1v2h-1zM710 366h1v1h-1zM711 364h1v2h-1zM712 362h1v2h-1zM713 358h1v4h-1zM714 354h1v4h-1zM715 350h1v4h-1zM716 346h1v4h-1zM717 343h1v3h-1zM718 341h1v2h-1zM719 338h1v3h-1zM720 336h1v2h-1zM721 335h1v1h-1zM722 334h1v1h-1zM723 333h1v1h-1zM724 332h1v1h-1zM725 331h1v1h-1zM726 330h1v1h-1zM727 330h1v1h-1zM728 329h1v1h-1zM729 329h1v1h-1zM730 329h1v1h-1zM731 329h1v1h-1zM732 329h1v1h-1zM733 328h1v1h-1zM734 328h1v1h-1zM735 327h1v1h-1zM736 327h1v1h-1zM737 328h1v1h-1zM738 328h1v1h-1zM739 329h1v1h-1zM740 328h1v2h-1zM741 325h1v3h-1zM742 323h1v2h-1zM743 320h1v3h-1zM744 318h1v2h-1zM745 317h1v1h-1zM746 315h1v2h-1zM747 314h1v1h-1zM748 313h1v1h-1zM749 312h1v1h-1zM750 311h1v1h-1zM751 311h1v1h-1zM752 310h1v1h-1zM753 310h1v1h-1zM754 310h1v1h-1zM755 310h1v1h-1zM756 310h1v1h-1zM757 311h1v2h-1zM758 313h1v1h-1zM759 314h1v2h-1zM760 316h1v2h-1zM761 318h1v3h-1zM762 321h1v4h-1zM763 325h1v3h-1zM764 328h1v2h-1zM765 330h1v1h-1zM766 331h1v1h-1zM767 331h1v1h-1zM768 332h1v1h-1zM769 332h1v1h-1zM770 332h1v1h-1zM771 332h1v1h-1zM772 332h1v1h-1zM773 332h1v1h-1zM774 332h1v1h-1zM775 332h1v1h-1zM776 332h1v1h-1zM777 332h1v1h-1zM778 331h1v1h-1zM779 331h1v1h-1zM780 329h1v3h-1zM781 325h1v4h-1zM782 320h1v5h-1zM783 316h1v4h-1zM784 313h1v3h-1zM785 312h1v1h-1zM786 310h1v2h-1zM787 309h1v1h-1zM788 308h1v1h-1zM789 306h1v2h-1zM790 304h1v2h-1zM791 302h1v2h-1zM792 299h1v3h-1zM793 297h1v2h-1zM794 295h1v2h-1zM795 293h1v2h-1zM796 290h1v3h-1zM797 288h1v2h-1zM798 286h1v2h-1zM799 284h1v2h-1zM800 282h1v2h-1zM801 283h1v1h-1zM802 284h1v2h-1zM803 286h1v1h-1zM804 287h1v1h-1zM805 286h1v1h-1zM806 286h1v1h-1zM807 285h1v1h-1zM808 285h1v1h-1zM809 286h1v2h-1zM810 288h1v1h-1zM811 289h1v2h-1zM812 291h1v1h-1zM813 292h1v1h-1zM814 293h1v1h-1zM815 294h1v1h-1zM816 295h1v1h-1zM817 295h1v1h-1zM818 296h1v1h-1zM819 296h1v1h-1zM820 296h1v1h-1zM821 295h1v1h-1zM822 294h1v1h-1zM823 293h1v1h-1zM824 292h1v1h-1zM825 291h1v1h-1zM826 290h1v1h-1zM827 289h1v1h-1zM828 288h1v1h-1zM829 287h1v1h-1zM830 285h1v2h-1zM831 284h1v1h-1zM832 283h1v1h-1zM833 281h1v2h-1zM834 280h1v1h-1zM835 278h1v2h-1zM836 277h1v1h-1zM837 277h1v1h-1zM838 277h1v1h-1zM839 277h1v1h-1zM840 277h1v2h-1zM841 279h1v4h-1zM842 283h1v4h-1zM843 287h1v4h-1zM844 291h1v5h-1zM845 296h1v5h-1zM846 301h1v5h-1zM847 306h1v5h-1zM848 311h1v5h-1zM849 316h1v5h-1zM850 321h1v5h-1zM851 326h1v5h-1zM852 331h1v5h-1zM853 336h1v5h-1zM854 341h1v4h-1zM855 345h1v5h-1zM856 350h1v4h-1zM857 354h1v3h-1zM858 357h1v3h-1zM859 360h1v3h-1zM860 363h1v2h-1zM861 362h1v2h-1zM862 361h1v1h-1zM863 359h1v2h-1zM864 357h1v2h-1zM865 354h1v3h-1zM866 351h1v3h-1zM867 348h1v3h-1zM868 345h1v3h-1zM869 341h1v4h-1zM870 337h1v4h-1zM871 333h1v4h-1zM872 329h1v4h-1zM873 326h1v3h-1zM874 322h1v4h-1zM875 319h1v3h-1zM876 316h1v3h-1zM877 313h1v3h-1zM878 310h1v3h-1zM879 307h1v3h-1zM880 305h1v2h-1zM881 304h1v1h-1zM882 302h1v2h-1zM883 301h1v1h-1zM884 300h1v1h-1zM885 301h1v1h-1zM886 302h1v1h-1zM887 302h1v1h-1zM888 303h1v2h-1zM889 305h1v3h-1zM890 308h1v4h-1zM891 312h1v3h-1zM892 315h1v3h-1zM893 318h1v4h-1zM894 322h1v4h-1zM895 326h1v4h-1zM896 330h1v5h-1zM897 335h1v4h-1zM898 339h1v4h-1zM899 343h1v4h-1zM900 347h1v4h-1zM901 351h1v3h-1zM902 354h1v3h-1zM903 357h1v3h-1zM904 360h1v2h-1zM905 360h1v1h-1zM906 360h1v1h-1zM907 359h1v1h-1zM908 358h1v2h-1zM909 356h1v2h-1zM910 353h1v3h-1zM911 351h1v2h-1zM912 348h1v3h-1zM913 344h1v4h-1zM914 340h1v4h-1zM915 336h1v4h-1zM916 331h1v5h-1zM917 327h1v4h-1zM918 322h1v5h-1zM919 318h1v4h-1zM920 313h1v5h-1zM921 308h1v5h-1zM922 304h1v4h-1zM923 299h1v5h-1zM924 296h1v3h-1zM925 295h1v1h-1zM926 294h1v1h-1zM927 293h1v1h-1zM928 292h1v1h-1zM929 291h1v1h-1zM930 290h1v1h-1zM931 290h1v1h-1zM932 289h1v2h-1zM933 291h1v2h-1zM934 293h1v3h-1zM935 296h1v2h-1zM936 298h1v3h-1zM937 301h1v4h-1zM938 305h1v3h-1zM939 308h1v4h-1zM940 312h1v3h-1zM941 315h1v3h-1zM942 318h1v4h-1zM943 322h1v3h-1zM944 325h1v2h-1zM945 327h1v2h-1zM946 329h1v2h-1zM947 331h1v2h-1zM948 333h1v3h-1zM949 336h1v3h-1zM950 339h1v3h-1zM951 342h1v3h-1zM952 345h1v2h-1zM953 346h1v1h-1zM954 345h1v1h-1zM955 345h1v1h-1zM956 345h1v1h-1zM957 343h1v2h-1zM958 341h1v2h-1zM959 339h1v2h-1zM960 338h1v1h-1zM961 337h1v1h-1zM962 337h1v1h-1zM963 336h1v1h-1zM964 335h1v2h-1zM965 332h1v3h-1zM966 330h1v2h-1zM967 327h1v3h-1zM968 323h1v4h-1zM969 319h1v4h-1zM970 315h1v4h-1zM971 311h1v4h-1zM972 307h1v4h-1zM973 304h1v3h-1zM974 301h1v3h-1zM975 298h1v3h-1zM976 295h1v3h-1zM977 292h1v3h-1zM978 290h1v2h-1zM979 287h1v3h-1zM980 284h1v3h-1zM981 281h1v3h-1zM982 277h1v4h-1zM983 274h1v3h-1zM984 272h1v2h-1zM985 271h1v1h-1zM986 269h1v2h-1zM987 268h1v1h-1zM988 267h1v1h-1zM989 266h1v1h-1zM990 265h1v1h-1zM991 265h1v1h-1zM992 264h1v1h-1zM993 263h1v1h-1zM994 261h1v2h-1zM995 260h1v1h-1zM996 259h1v2h-1zM997 261h1v2h-1zM998 263h1v2h-1zM999 265h1v2h-1zM1000 267h1v4h-1zM1001 271h1v6h-1zM1002 277h1v5h-1zM1003 282h1v6h-1zM1004 288h1v5h-1zM1005 293h1v4h-1zM1006 297h1v4h-1zM1007 301h1v4h-1zM1008 305h1v5h-1zM1009 310h1v5h-1zM1010 315h1v4h-1zM1011 319h1v5h-1zM1012 324h1v4h-1zM1013 328h1v4h-1zM1014 332h1v4h-1zM1015 336h1v4h-1zM1016 340h1v2h-1zM1017 342h1v1h-1zM1018 343h1v2h-1zM1019 345h1v1h-1zM1020 346h1v1h-1zM1021 345h1v1h-1zM1022 344h1v1h-1zM1023 343h1v1h-1zM1024 342h1v1h-1zM1025 343h1v1h-1zM1026 344h1v2h-1zM1027 346h1v1h-1zM1028 347h1v1h-1zM1029 348h1v1h-1zM1030 349h1v1h-1zM1031 349h1v1h-1zM1032 350h1v1h-1zM1033 351h1v2h-1zM1034 353h1v1h-1zM1035 354h1v2h-1zM1036 356h1v2h-1zM1037 358h1v3h-1zM1038 361h1v4h-1zM1039 365h1v3h-1zM1040 368h1v2h-1zM1041 370h1v2h-1zM1042 372h1v1h-1zM1043 373h1v2h-1zM1044 375h1v1h-1zM1045 376h1v1h-1zM1046 377h1v1h-1zM1047 378h1v1h-1zM1048 379h1v2h-1zM1049 381h1v3h-1zM1050 384h1v2h-1zM1051 386h1v3h-1zM1052 389h1v3h-1zM1053 392h1v2h-1zM1054 394h1v3h-1zM1055 397h1v2h-1zM1056 399h1v2h-1zM1057 401h1v2h-1zM1058 403h1v2h-1zM1059 405h1v2h-1zM1060 407h1v1h-1zM1061 408h1v1h-1zM1062 409h1v2h-1zM1063 411h1v1h-1zM1064 412h1v1h-1zM1065 413h1v1h-1zM1066 413h1v1h-1zM1067 414h1v1h-1zM1068 414h1v1h-1zM1069 413h1v1h-1zM1070 411h1v2h-1zM1071 410h1v1h-1zM1072 409h1v1h-1zM1073 410h1v1h-1zM1074 410h1v1h-1zM1075 411h1v1h-1zM1076 411h1v1h-1zM1077 410h1v1h-1zM1078 410h1v1h-1zM1079 409h1v1h-1zM1080 409h1v1h-1zM1081 409h1v1h-1zM1082 410h1v1h-1zM1083 410h1v1h-1zM1084 410h1v2h-1zM1085 412h1v3h-1zM1086 415h1v2h-1zM1087 417h1v3h-1zM1088 420h1v3h-1zM1089 423h1v4h-1zM1090 427h1v4h-1zM1091 431h1v4h-1zM1092 435h1v4h-1zM1093 439h1v5h-1zM1094 444h1v4h-1zM1095 448h1v5h-1zM1096 453h1v5h-1zM1097 458h1v5h-1zM1098 463h1v4h-1zM1099 467h1v5h-1zM1100 472h1v5h-1zM1101 477h1v6h-1zM1102 483h1v6h-1zM1103 489h1v6h-1zM1104 495h1v4h-1zM1105 499h1v3h-1zM1106 502h1v2h-1zM1107 504h1v3h-1zM1108 507h1v2h-1zM1109 509h1v1h-1zM1110 510h1v2h-1zM1111 512h1v1h-1zM1112 513h1v1h-1zM1113 511h1v2h-1zM1114 510h1v1h-1zM1115 508h1v2h-1zM1116 507h1v1h-1zM1117 507h1v1h-1zM1118 507h1v1h-1zM1119 507h1v1h-1zM1120 507h1v1h-1zM1121 505h1v2h-1zM1122 503h1v2h-1zM1123 501h1v2h-1zM1124 500h1v1h-1zM1125 499h1v1h-1zM1126 499h1v1h-1zM1127 498h1v1h-1zM1128 498h1v1h-1zM1129 497h1v1h-1zM1130 496h1v1h-1zM1131 495h1v1h-1zM1132 494h1v1h-1zM1133 493h1v1h-1zM1134 493h1v1h-1zM1135 492h1v1h-1zM1136 492h1v1h-1zM1137 490h1v2h-1zM1138 489h1v1h-1zM1139 487h1v2h-1zM1140 486h1v1h-1zM1141 486h1v1h-1zM1142 487h1v1h-1zM1143 487h1v1h-1zM1144 487h1v1h-1zM1145 488h1v1h-1zM1146 489h1v1h-1zM1147 489h1v1h-1zM1148 490h1v2h-1zM1149 492h1v4h-1zM1150 496h1v3h-1zM1151 499h1v4h-1zM1152 503h1v3h-1zM1153 506h1v4h-1zM1154 510h1v4h-1zM1155 514h1v4h-1zM1156 518h1v2h-1zM1157 520h1v2h-1zM1158 522h1v2h-1zM1159 524h1v2h-1zM1160 526h1v2h-1zM1161 528h1v2h-1zM1162 530h1v1h-1zM1163 531h1v2h-1zM1164 533h1v1h-1zM1165 532h1v1h-1zM1166 532h1v1h-1zM1167 531h1v1h-1zM1168 531h1v1h-1zM1169 530h1v1h-1zM1170 529h1v1h-1zM1171 528h1v1h-1zM1172 526h1v2h-1zM1173 524h1v2h-1zM1174 521h1v3h-1zM1175 519h1v2h-1zM1176 517h1v2h-1zM1177 516h1v1h-1zM1178 516h1v1h-1zM1179 515h1v1h-1zM1180 515h1v1h-1zM1181 513h1v2h-1zM1182 512h1v1h-1zM1183 510h1v2h-1zM1184 509h1v1h-1zM1185 509h1v1h-1zM1186 508h1v1h-1zM1187 508h1v1h-1zM1188 508h1v1h-1zM1189 507h1v1h-1zM1190 506h1v1h-1zM1191 505h1v1h-1zM1192 504h1v1h-1zM1193 502h1v2h-1zM1194 501h1v1h-1zM1195 499h1v2h-1zM1196 497h1v2h-1zM1197 495h1v2h-1zM1198 492h1v3h-1zM1199 490h1v2h-1zM1200 488h1v2h-1zM1201 489h1v1h-1zM1202 490h1v1h-1zM1203 491h1v1h-1zM1204 492h1v2h-1zM1205 494h1v2h-1zM1206 496h1v3h-1zM1207 499h1v2h-1zM1208 501h1v3h-1zM1209 504h1v3h-1zM1210 507h1v2h-1zM1211 509h1v3h-1zM1212 512h1v3h-1zM1213 515h1v3h-1zM1214 518h1v4h-1zM1215 522h1v3h-1zM1216 525h1v3h-1zM1217 528h1v2h-1zM1218 530h1v2h-1zM1219 532h1v2h-1zM1220 534h1v2h-1zM1221 533h1v2h-1zM1222 531h1v2h-1zM1223 529h1v2h-1zM1224 525h1v4h-1zM1225 521h1v4h-1zM1226 516h1v5h-1zM1227 512h1v4h-1zM1228 507h1v5h-1zM1229 501h1v6h-1zM1230 496h1v5h-1zM1231 490h1v6h-1zM1232 485h1v5h-1zM1233 480h1v5h-1zM1234 476h1v4h-1zM1235 471h1v5h-1zM1236 467h1v4h-1zM1237 464h1v3h-1zM1238 461h1v3h-1zM1239 458h1v3h-1zM1240 456h1v2h-1zM1241 454h1v2h-1zM1242 452h1v2h-1zM1243 450h1v2h-1zM1244 449h1v1h-1zM1245 448h1v1h-1zM1246 447h1v1h-1zM1247 446h1v1h-1zM1248 445h1v1h-1zM1249 444h1v1h-1zM1250 443h1v1h-1zM1251 443h1v1h-1zM1252 442h1v1h-1zM1253 440h1v2h-1zM1254 438h1v2h-1zM1255 436h1v2h-1zM1256 435h1v1h-1zM1257 433h1v2h-1zM1258 431h1v2h-1zM1259 429h1v2h-1zM1260 427h1v2h-1zM1261 425h1v2h-1zM1262 423h1v2h-1zM1263 421h1v2h-1zM1264 419h1v2h-1zM1265 417h1v2h-1zM1266 415h1v2h-1zM1267 413h1v2h-1zM1268 411h1v2h-1zM1269 409h1v2h-1zM1270 407h1v2h-1zM1271 405h1v2h-1zM1272 403h1v2h-1zM1273 402h1v1h-1zM1274 402h1v1h-1zM1275 401h1v1h-1zM1276 401h1v1h-1zM1277 402h1v2h-1zM1278 404h1v1h-1zM1279 405h1v2h-1zM1280 407h1v1h-1zM1281 408h1v2h-1zM1282 410h1v2h-1zM1283 412h1v2h-1zM1284 414h1v1h-1zM1285 415h1v2h-1zM1286 417h1v1h-1zM1287 418h1v2h-1zM1288 420h1v2h-1zM1289 422h1v3h-1zM1290 425h1v3h-1zM1291 428h1v3h-1zM1292 431h1v2h-1zM1293 433h1v2h-1zM1294 435h1v2h-1zM1295 437h1v2h-1zM1296 439h1v2h-1zM1297 441h1v2h-1zM1298 443h1v1h-1zM1299 444h1v2h-1zM1300 446h1v1h-1z" fill="#ffa500" shape-rendering="crispEdges"/>
<rect x="1637" y="27" width="2" height="1" fill="#000"/>
<text x="1642.00" y="31" font-size="9.9" fill="#000" textLength="33.00" lengthAdjust="spacingAndGlyphs" xml:space="preserve" stroke="#000" stroke-width="0.15" >1.02660</text>
<rect x="1637" y="60" width="2" height="1" fill="#000"/>
<text x="1642.00" y="64" font-size="9.9" fill="#000" textLength="33.00" lengthAdjust="spacingAndGlyphs" xml:space="preserve" stroke="#000" stroke-width="0.15" >1.02270</text>
<rect x="1637" y="93" width="2" height="1" fill="#000"/>
<text x="1642.00" y="97" font-size="9.9" fill="#000" textLength="33.00" lengthAdjust="spacingAndGlyphs" xml:space="preserve" stroke="#000" stroke-width="0.15" >1.01880</text>
<rect x="1637" y="126" width="2" height="1" fill="#000"/>
<text x="1642.00" y="130" font-size="9.9" fill="#000" textLength="33.00" lengthAdjust="spacingAndGlyphs" xml:space="preserve" stroke="#000" stroke-width="0.15" >1.01480</text>
<rect x="1637" y="159" width="2" height="1" fill="#000"/>
<text x="1642.00" y="163" font-size="9.9" fill="#000" textLength="33.00" lengthAdjust="spacingAndGlyphs" xml:space="preserve" stroke="#000" stroke-width="0.15" >1.01090</text>
<rect x="1637" y="192" width="2" height="1" fill="#000"/>
<text x="1642.00" y="196" font-size="9.9" fill="#000" textLength="33.00" lengthAdjust="spacingAndGlyphs" xml:space="preserve" stroke="#000" stroke-width="0.15" >1.00700</text>
<rect x="1637" y="225" width="2" height="1" fill="#000"/>
<text x="1642.00" y="229" font-size="9.9" fill="#000" textLength="33.00" lengthAdjust="spacingAndGlyphs" xml:space="preserve" stroke="#000" stroke-width="0.15" >1.00310</text>
<rect x="1637" y="258" width="2" height="1" fill="#000"/>
<text x="1642.00" y="262" font-size="9.9" fill="#000" textLength="33.00" lengthAdjust="spacingAndGlyphs" xml:space="preserve" stroke="#000" stroke-width="0.15" >0.99910</text>
<rect x="1637" y="291" width="2" height="1" fill="#000"/>
<text x="1642.00" y="295" font-size="9.9" fill="#000" textLength="33.00" lengthAdjust="spacingAndGlyphs" xml:space="preserve" stroke="#000" stroke-width="0.15" >0.99520</text>
<rect x="1637" y="324" width="2" height="1" fill="#000"/>
<text x="1642.00" y="328" font-size="9.9" fill="#000" textLength="33.00" lengthAdjust="spacingAndGlyphs" xml:space="preserve" stroke="#000" stroke-width="0.15" >0.99130</text>
<rect x="1637" y="357" width="2" height="1" fill="#000"/>
<text x="1642.00" y="361" font-size="9.9" fill="#000" textLength="33.00" lengthAdjust="spacingAndGlyphs" xml:space="preserve" stroke="#000" stroke-width="0.15" >0.98740</text>
<rect x="1637" y="390" width="2" height="1" fill="#000"/>
<text x="1642.00" y="394" font-size="9.9" fill="#000" textLength="33.00" lengthAdjust="spacingAndGlyphs" xml:space="preserve" stroke="#000" stroke-width="0.15" >0.98340</text>
<rect x="1637" y="423" width="2" height="1" fill="#000"/>
<text x="1642.00" y="427" font-size="9.9" fill="#000" textLength="33.00" lengthAdjust="spacingAndGlyphs" xml:space="preserve" stroke="#000" stroke-width="0.15" >0.97950</text>
<rect x="1637" y="456" width="2" height="1" fill="#000"/>
<text x="1642.00" y="460" font-size="9.9" fill="#000" textLength="33.00" lengthAdjust="spacingAndGlyphs" xml:space="preserve" stroke="#000" stroke-width="0.15" >0.97560</text>
<rect x="1637" y="489" width="2" height="1" fill="#000"/>
<text x="1642.00" y="493" font-size="9.9" fill="#000" textLength="33.00" lengthAdjust="spacingAndGlyphs" xml:space="preserve" stroke="#000" stroke-width="0.15" >0.97170</text>
<rect x="1637" y="522" width="2" height="1" fill="#000"/>
<text x="1642.00" y="526" font-size="9.9" fill="#000" textLength="33.00" lengthAdjust="spacingAndGlyphs" xml:space="preserve" stroke="#000" stroke-width="0.15" >0.96770</text>
<rect x="1637" y="555" width="2" height="1" fill="#000"/>
<text x="1642.00" y="559" font-size="9.9" fill="#000" textLength="33.00" lengthAdjust="spacingAndGlyphs" xml:space="preserve" stroke="#000" stroke-width="0.15" >0.96380</text>
<rect x="1637" y="588" width="2" height="1" fill="#000"/>
<rect x="0" y="148" width="1638" height="2" fill="#ff0000"/>
<rect x="1638" y="143" width="41" height="11" fill="#ff0000"/>
<text x="1642.00" y="152" font-size="9.9" fill="#fff" textLength="33.00" lengthAdjust="spacingAndGlyphs" xml:space="preserve" stroke="#fff" stroke-width="0.15" >1.01207</text>
<rect x="0" y="267" width="1638" height="2" fill="#ff0000"/>
<rect x="1638" y="262" width="41" height="11" fill="#ff0000"/>
<text x="1642.00" y="271" font-size="9.9" fill="#fff" textLength="33.00" lengthAdjust="spacingAndGlyphs" xml:space="preserve" stroke="#fff" stroke-width="0.15" >0.99800</text>
<rect x="0" y="359" width="1638" height="2" fill="#ff0000"/>
<rect x="1638" y="354" width="41" height="11" fill="#ff0000"/>
<text x="1642.00" y="363" font-size="9.9" fill="#fff" textLength="33.00" lengthAdjust="spacingAndGlyphs" xml:space="preserve" stroke="#fff" stroke-width="0.15" >0.98703</text>
<rect x="0" y="447" width="1638" height="2" fill="#00ff00"/>
<rect x="1638" y="442" width="41" height="11" fill="#00ff00"/>
<text x="1642.00" y="451" font-size="9.9" fill="#fff" textLength="33.00" lengthAdjust="spacingAndGlyphs" xml:space="preserve" stroke="#fff" stroke-width="0.15" >0.97658</text>
<rect x="1638" y="457" width="41" height="11" fill="#000"/>
<text x="1642.00" y="466" font-size="9.9" fill="#fff" textLength="33.00" lengthAdjust="spacingAndGlyphs" xml:space="preserve" stroke="#fff" stroke-width="0.15" >0.97489</text>
<rect x="0" y="519" width="1638" height="2" fill="#0000cd"/>
<rect x="1638" y="514" width="41" height="11" fill="#0000cd"/>
<text x="1642.00" y="523" font-size="9.9" fill="#fff" textLength="33.00" lengthAdjust="spacingAndGlyphs" xml:space="preserve" stroke="#fff" stroke-width="0.15" >0.96803</text>
<rect x="0" y="586" width="1638" height="2" fill="#0000ff"/>
<rect x="1638" y="581" width="41" height="11" fill="#0000ff"/>
<text x="1642.00" y="590" font-size="9.9" fill="#fff" textLength="33.00" lengthAdjust="spacingAndGlyphs" xml:space="preserve" stroke="#fff" stroke-width="0.15" >0.96008</text>
<rect x="0" y="517" width="5" height="6" fill="#0000cd"/>
<rect x="1" y="519" width="2" height="2" fill="#fff"/>
<rect x="1630" y="517" width="6" height="6" fill="#0000cd"/>
<rect x="1632" y="519" width="2" height="2" fill="#fff"/>
<rect x="1636" y="24" width="1" height="568" fill="#000"/>
<rect x="3" y="31" width="7" height="1" fill="#000"/>
<rect x="4" y="32" width="5" height="1" fill="#000"/>
<rect x="5" y="33" width="3" height="1" fill="#000"/>
<rect x="6" y="34" width="1" height="1" fill="#000"/>
<text x="15.00" y="35.8" font-size="9.9" fill="#000" textLength="65.28" lengthAdjust="spacingAndGlyphs" xml:space="preserve" stroke="#000" stroke-width="0.15" >USDCHF,Daily</text>
<text x="85.70" y="35.8" font-size="9.9" fill="#000" textLength="141.00" lengthAdjust="spacingAndGlyphs" xml:space="preserve" stroke="#000" stroke-width="0.15" >0.97724 0.97765 0.97411 0.97489</text>
<path d="M1 625h3v1h-3zM7 625h3v1h-3zM13 625h3v1h-3zM19 625h3v1h-3zM25 625h3v1h-3zM31 625h3v1h-3zM37 625h3v1h-3zM43 625h3v1h-3zM49 625h3v1h-3zM55 625h3v1h-3zM61 625h3v1h-3zM67 625h3v1h-3zM73 625h3v1h-3zM79 625h3v1h-3zM85 625h3v1h-3zM91 625h3v1h-3zM97 625h3v1h-3zM103 625h3v1h-3zM109 625h3v1h-3zM115 625h3v1h-3zM121 625h3v1h-3zM127 625h3v1h-3zM133 625h3v1h-3zM139 625h3v1h-3zM145 625h3v1h-3zM151 625h3v1h-3zM157 625h3v1h-3zM163 625h3v1h-3zM169 625h3v1h-3zM175 625h3v1h-3zM181 625h3v1h-3zM187 625h3v1h-3zM193 625h3v1h-3zM199 625h3v1h-3zM205 625h3v1h-3zM211 625h3v1h-3zM217 625h3v1h-3zM223 625h3v1h-3zM229 625h3v1h-3zM235 625h3v1h-3zM241 625h3v1h-3zM247 625h3v1h-3zM253 625h3v1h-3zM259 625h3v1h-3zM265 625h3v1h-3zM271 625h3v1h-3zM277 625h3v1h-3zM283 625h3v1h-3zM289 625h3v1h-3zM295 625h3v1h-3zM301 625h3v1h-3zM307 625h3v1h-3zM313 625h3v1h-3zM319 625h3v1h-3zM325 625h3v1h-3zM331 625h3v1h-3zM337 625h3v1h-3zM343 625h3v1h-3zM349 625h3v1h-3zM355 625h3v1h-3zM361 625h3v1h-3zM367 625h3v1h-3zM373 625h3v1h-3zM379 625h3v1h-3zM385 625h3v1h-3zM391 625h3v1h-3zM397 625h3v1h-3zM403 625h3v1h-3zM409 625h3v1h-3zM415 625h3v1h-3zM421 625h3v1h-3zM427 625h3v1h-3zM433 625h3v1h-3zM439 625h3v1h-3zM445 625h3v1h-3zM451 625h3v1h-3zM457 625h3v1h-3zM463 625h3v1h-3zM469 625h3v1h-3zM475 625h3v1h-3zM481 625h3v1h-3zM487 625h3v1h-3zM493 625h3v1h-3zM499 625h3v1h-3zM505 625h3v1h-3zM511 625h3v1h-3zM517 625h3v1h-3zM523 625h3v1h-3zM529 625h3v1h-3zM535 625h3v1h-3zM541 625h3v1h-3zM547 625h3v1h-3zM553 625h3v1h-3zM559 625h3v1h-3zM565 625h3v1h-3zM571 625h3v1h-3zM577 625h3v1h-3zM583 625h3v1h-3zM589 625h3v1h-3zM595 625h3v1h-3zM601 625h3v1h-3zM607 625h3v1h-3zM613 625h3v1h-3zM619 625h3v1h-3zM625 625h3v1h-3zM631 625h3v1h-3zM637 625h3v1h-3zM643 625h3v1h-3zM649 625h3v1h-3zM655 625h3v1h-3zM661 625h3v1h-3zM667 625h3v1h-3zM673 625h3v1h-3zM679 625h3v1h-3zM685 625h3v1h-3zM691 625h3v1h-3zM697 625h3v1h-3zM703 625h3v1h-3zM709 625h3v1h-3zM715 625h3v1h-3zM721 625h3v1h-3zM727 625h3v1h-3zM733 625h3v1h-3zM739 625h3v1h-3zM745 625h3v1h-3zM751 625h3v1h-3zM757 625h3v1h-3zM763 625h3v1h-3zM769 625h3v1h-3zM775 625h3v1h-3zM781 625h3v1h-3zM787 625h3v1h-3zM793 625h3v1h-3zM799 625h3v1h-3zM805 625h3v1h-3zM811 625h3v1h-3zM817 625h3v1h-3zM823 625h3v1h-3zM829 625h3v1h-3zM835 625h3v1h-3zM841 625h3v1h-3zM847 625h3v1h-3zM853 625h3v1h-3zM859 625h3v1h-3zM865 625h3v1h-3zM871 625h3v1h-3zM877 625h3v1h-3zM883 625h3v1h-3zM889 625h3v1h-3zM895 625h3v1h-3zM901 625h3v1h-3zM907 625h3v1h-3zM913 625h3v1h-3zM919 625h3v1h-3zM925 625h3v1h-3zM931 625h3v1h-3zM937 625h3v1h-3zM943 625h3v1h-3zM949 625h3v1h-3zM955 625h3v1h-3zM961 625h3v1h-3zM967 625h3v1h-3zM973 625h3v1h-3zM979 625h3v1h-3zM985 625h3v1h-3zM991 625h3v1h-3zM997 625h3v1h-3zM1003 625h3v1h-3zM1009 625h3v1h-3zM1015 625h3v1h-3zM1021 625h3v1h-3zM1027 625h3v1h-3zM1033 625h3v1h-3zM1039 625h3v1h-3zM1045 625h3v1h-3zM1051 625h3v1h-3zM1057 625h3v1h-3zM1063 625h3v1h-3zM1069 625h3v1h-3zM1075 625h3v1h-3zM1081 625h3v1h-3zM1087 625h3v1h-3zM1093 625h3v1h-3zM1099 625h3v1h-3zM1105 625h3v1h-3zM1111 625h3v1h-3zM1117 625h3v1h-3zM1123 625h3v1h-3zM1129 625h3v1h-3zM1135 625h3v1h-3zM1141 625h3v1h-3zM1147 625h3v1h-3zM1153 625h3v1h-3zM1159 625h3v1h-3zM1165 625h3v1h-3zM1171 625h3v1h-3zM1177 625h3v1h-3zM1183 625h3v1h-3zM1189 625h3v1h-3zM1195 625h3v1h-3zM1201 625h3v1h-3zM1207 625h3v1h-3zM1213 625h3v1h-3zM1219 625h3v1h-3zM1225 625h3v1h-3zM1231 625h3v1h-3zM1237 625h3v1h-3zM1243 625h3v1h-3zM1249 625h3v1h-3zM1255 625h3v1h-3zM1261 625h3v1h-3zM1267 625h3v1h-3zM1273 625h3v1h-3zM1279 625h3v1h-3zM1285 625h3v1h-3zM1291 625h3v1h-3zM1297 625h3v1h-3zM1303 625h3v1h-3zM1309 625h3v1h-3zM1315 625h3v1h-3zM1321 625h3v1h-3zM1327 625h3v1h-3zM1333 625h3v1h-3zM1339 625h3v1h-3zM1345 625h3v1h-3zM1351 625h3v1h-3zM1357 625h3v1h-3zM1363 625h3v1h-3zM1369 625h3v1h-3zM1375 625h3v1h-3zM1381 625h3v1h-3zM1387 625h3v1h-3zM1393 625h3v1h-3zM1399 625h3v1h-3zM1405 625h3v1h-3zM1411 625h3v1h-3zM1417 625h3v1h-3zM1423 625h3v1h-3zM1429 625h3v1h-3zM1435 625h3v1h-3zM1441 625h3v1h-3zM1447 625h3v1h-3zM1453 625h3v1h-3zM1459 625h3v1h-3zM1465 625h3v1h-3zM1471 625h3v1h-3zM1477 625h3v1h-3zM1483 625h3v1h-3zM1489 625h3v1h-3zM1495 625h3v1h-3zM1501 625h3v1h-3zM1507 625h3v1h-3zM1513 625h3v1h-3zM1519 625h3v1h-3zM1525 625h3v1h-3zM1531 625h3v1h-3zM1537 625h3v1h-3zM1543 625h3v1h-3zM1549 625h3v1h-3zM1555 625h3v1h-3zM1561 625h3v1h-3zM1567 625h3v1h-3zM1573 625h3v1h-3zM1579 625h3v1h-3zM1585 625h3v1h-3zM1591 625h3v1h-3zM1597 625h3v1h-3zM1603 625h3v1h-3zM1609 625h3v1h-3zM1615 625h3v1h-3zM1621 625h3v1h-3zM1627 625h3v1h-3zM1633 625h3v1h-3z" fill="#c0c0c0" shape-rendering="crispEdges"/>
<path d="M1 666h3v1h-3zM7 666h3v1h-3zM13 666h3v1h-3zM19 666h3v1h-3zM25 666h3v1h-3zM31 666h3v1h-3zM37 666h3v1h-3zM43 666h3v1h-3zM49 666h3v1h-3zM55 666h3v1h-3zM61 666h3v1h-3zM67 666h3v1h-3zM73 666h3v1h-3zM79 666h3v1h-3zM85 666h3v1h-3zM91 666h3v1h-3zM97 666h3v1h-3zM103 666h3v1h-3zM109 666h3v1h-3zM115 666h3v1h-3zM121 666h3v1h-3zM127 666h3v1h-3zM133 666h3v1h-3zM139 666h3v1h-3zM145 666h3v1h-3zM151 666h3v1h-3zM157 666h3v1h-3zM163 666h3v1h-3zM169 666h3v1h-3zM175 666h3v1h-3zM181 666h3v1h-3zM187 666h3v1h-3zM193 666h3v1h-3zM199 666h3v1h-3zM205 666h3v1h-3zM211 666h3v1h-3zM217 666h3v1h-3zM223 666h3v1h-3zM229 666h3v1h-3zM235 666h3v1h-3zM241 666h3v1h-3zM247 666h3v1h-3zM253 666h3v1h-3zM259 666h3v1h-3zM265 666h3v1h-3zM271 666h3v1h-3zM277 666h3v1h-3zM283 666h3v1h-3zM289 666h3v1h-3zM295 666h3v1h-3zM301 666h3v1h-3zM307 666h3v1h-3zM313 666h3v1h-3zM319 666h3v1h-3zM325 666h3v1h-3zM331 666h3v1h-3zM337 666h3v1h-3zM343 666h3v1h-3zM349 666h3v1h-3zM355 666h3v1h-3zM361 666h3v1h-3zM367 666h3v1h-3zM373 666h3v1h-3zM379 666h3v1h-3zM385 666h3v1h-3zM391 666h3v1h-3zM397 666h3v1h-3zM403 666h3v1h-3zM409 666h3v1h-3zM415 666h3v1h-3zM421 666h3v1h-3zM427 666h3v1h-3zM433 666h3v1h-3zM439 666h3v1h-3zM445 666h3v1h-3zM451 666h3v1h-3zM457 666h3v1h-3zM463 666h3v1h-3zM469 666h3v1h-3zM475 666h3v1h-3zM481 666h3v1h-3zM487 666h3v1h-3zM493 666h3v1h-3zM499 666h3v1h-3zM505 666h3v1h-3zM511 666h3v1h-3zM517 666h3v1h-3zM523 666h3v1h-3zM529 666h3v1h-3zM535 666h3v1h-3zM541 666h3v1h-3zM547 666h3v1h-3zM553 666h3v1h-3zM559 666h3v1h-3zM565 666h3v1h-3zM571 666h3v1h-3zM577 666h3v1h-3zM583 666h3v1h-3zM589 666h3v1h-3zM595 666h3v1h-3zM601 666h3v1h-3zM607 666h3v1h-3zM613 666h3v1h-3zM619 666h3v1h-3zM625 666h3v1h-3zM631 666h3v1h-3zM637 666h3v1h-3zM643 666h3v1h-3zM649 666h3v1h-3zM655 666h3v1h-3zM661 666h3v1h-3zM667 666h3v1h-3zM673 666h3v1h-3zM679 666h3v1h-3zM685 666h3v1h-3zM691 666h3v1h-3zM697 666h3v1h-3zM703 666h3v1h-3zM709 666h3v1h-3zM715 666h3v1h-3zM721 666h3v1h-3zM727 666h3v1h-3zM733 666h3v1h-3zM739 666h3v1h-3zM745 666h3v1h-3zM751 666h3v1h-3zM757 666h3v1h-3zM763 666h3v1h-3zM769 666h3v1h-3zM775 666h3v1h-3zM781 666h3v1h-3zM787 666h3v1h-3zM793 666h3v1h-3zM799 666h3v1h-3zM805 666h3v1h-3zM811 666h3v1h-3zM817 666h3v1h-3zM823 666h3v1h-3zM829 666h3v1h-3zM835 666h3v1h-3zM841 666h3v1h-3zM847 666h3v1h-3zM853 666h3v1h-3zM859 666h3v1h-3zM865 666h3v1h-3zM871 666h3v1h-3zM877 666h3v1h-3zM883 666h3v1h-3zM889 666h3v1h-3zM895 666h3v1h-3zM901 666h3v1h-3zM907 666h3v1h-3zM913 666h3v1h-3zM919 666h3v1h-3zM925 666h3v1h-3zM931 666h3v1h-3zM937 666h3v1h-3zM943 666h3v1h-3zM949 666h3v1h-3zM955 666h3v1h-3zM961 666h3v1h-3zM967 666h3v1h-3zM973 666h3v1h-3zM979 666h3v1h-3zM985 666h3v1h-3zM991 666h3v1h-3zM997 666h3v1h-3zM1003 666h3v1h-3zM1009 666h3v1h-3zM1015 666h3v1h-3zM1021 666h3v1h-3zM1027 666h3v1h-3zM1033 666h3v1h-3zM1039 666h3v1h-3zM1045 666h3v1h-3zM1051 666h3v1h-3zM1057 666h3v1h-3zM1063 666h3v1h-3zM1069 666h3v1h-3zM1075 666h3v1h-3zM1081 666h3v1h-3zM1087 666h3v1h-3zM1093 666h3v1h-3zM1099 666h3v1h-3zM1105 666h3v1h-3zM1111 666h3v1h-3zM1117 666h3v1h-3zM1123 666h3v1h-3zM1129 666h3v1h-3zM1135 666h3v1h-3zM1141 666h3v1h-3zM1147 666h3v1h-3zM1153 666h3v1h-3zM1159 666h3v1h-3zM1165 666h3v1h-3zM1171 666h3v1h-3zM1177 666h3v1h-3zM1183 666h3v1h-3zM1189 666h3v1h-3zM1195 666h3v1h-3zM1201 666h3v1h-3zM1207 666h3v1h-3zM1213 666h3v1h-3zM1219 666h3v1h-3zM1225 666h3v1h-3zM1231 666h3v1h-3zM1237 666h3v1h-3zM1243 666h3v1h-3zM1249 666h3v1h-3zM1255 666h3v1h-3zM1261 666h3v1h-3zM1267 666h3v1h-3zM1273 666h3v1h-3zM1279 666h3v1h-3zM1285 666h3v1h-3zM1291 666h3v1h-3zM1297 666h3v1h-3zM1303 666h3v1h-3zM1309 666h3v1h-3zM1315 666h3v1h-3zM1321 666h3v1h-3zM1327 666h3v1h-3zM1333 666h3v1h-3zM1339 666h3v1h-3zM1345 666h3v1h-3zM1351 666h3v1h-3zM1357 666h3v1h-3zM1363 666h3v1h-3zM1369 666h3v1h-3zM1375 666h3v1h-3zM1381 666h3v1h-3zM1387 666h3v1h-3zM1393 666h3v1h-3zM1399 666h3v1h-3zM1405 666h3v1h-3zM1411 666h3v1h-3zM1417 666h3v1h-3zM1423 666h3v1h-3zM1429 666h3v1h-3zM1435 666h3v1h-3zM1441 666h3v1h-3zM1447 666h3v1h-3zM1453 666h3v1h-3zM1459 666h3v1h-3zM1465 666h3v1h-3zM1471 666h3v1h-3zM1477 666h3v1h-3zM1483 666h3v1h-3zM1489 666h3v1h-3zM1495 666h3v1h-3zM1501 666h3v1h-3zM1507 666h3v1h-3zM1513 666h3v1h-3zM1519 666h3v1h-3zM1525 666h3v1h-3zM1531 666h3v1h-3zM1537 666h3v1h-3zM1543 666h3v1h-3zM1549 666h3v1h-3zM1555 666h3v1h-3zM1561 666h3v1h-3zM1567 666h3v1h-3zM1573 666h3v1h-3zM1579 666h3v1h-3zM1585 666h3v1h-3zM1591 666h3v1h-3zM1597 666h3v1h-3zM1603 666h3v1h-3zM1609 666h3v1h-3zM1615 666h3v1h-3zM1621 666h3v1h-3zM1627 666h3v1h-3zM1633 666h3v1h-3z" fill="#c0c0c0" shape-rendering="crispEdges"/>
<path d="M0 625h1v1h-1zM1 626h1v1h-1zM2 626h1v1h-1zM3 627h1v1h-1zM4 627h1v1h-1zM5 627h1v1h-1zM6 628h1v1h-1zM7 628h1v1h-1zM8 628h1v1h-1zM9 629h1v1h-1zM10 630h1v2h-1zM11 632h1v1h-1zM12 633h1v1h-1zM13 634h1v1h-1zM14 634h1v1h-1zM15 635h1v1h-1zM16 635h1v1h-1zM17 636h1v1h-1zM18 637h1v2h-1zM19 639h1v1h-1zM20 640h1v1h-1zM21 641h1v1h-1zM22 642h1v2h-1zM23 644h1v1h-1zM24 645h1v1h-1zM25 645h1v1h-1zM26 645h1v1h-1zM27 645h1v1h-1zM28 645h1v1h-1zM29 645h1v1h-1zM30 645h1v1h-1zM31 645h1v1h-1zM32 645h1v1h-1zM33 645h1v1h-1zM34 644h1v1h-1zM35 644h1v1h-1zM36 644h1v1h-1zM37 644h1v1h-1zM38 644h1v1h-1zM39 644h1v1h-1zM40 644h1v1h-1zM41 644h1v1h-1zM42 643h1v1h-1zM43 643h1v1h-1zM44 643h1v1h-1zM45 644h1v1h-1zM46 645h1v2h-1zM47 647h1v1h-1zM48 648h1v1h-1zM49 649h1v2h-1zM50 651h1v1h-1zM51 652h1v2h-1zM52 654h1v1h-1zM53 653h1v1h-1zM54 651h1v2h-1zM55 650h1v1h-1zM56 649h1v1h-1zM57 648h1v1h-1zM58 647h1v1h-1zM59 646h1v1h-1zM60 645h1v1h-1zM61 645h1v1h-1zM62 644h1v1h-1zM63 644h1v1h-1zM64 644h1v1h-1zM65 642h1v2h-1zM66 640h1v2h-1zM67 638h1v2h-1zM68 636h1v2h-1zM69 635h1v1h-1zM70 635h1v1h-1zM71 634h1v1h-1zM72 634h1v1h-1zM73 632h1v2h-1zM74 631h1v1h-1zM75 629h1v2h-1zM76 628h1v1h-1zM77 629h1v1h-1zM78 629h1v1h-1zM79 630h1v1h-1zM80 630h1v1h-1zM81 630h1v1h-1zM82 631h1v1h-1zM83 631h1v1h-1zM84 631h1v1h-1zM85 629h1v2h-1zM86 628h1v1h-1zM87 626h1v2h-1zM88 625h1v2h-1zM89 627h1v2h-1zM90 629h1v2h-1zM91 631h1v2h-1zM92 633h1v2h-1zM93 635h1v2h-1zM94 637h1v2h-1zM95 639h1v2h-1zM96 641h1v2h-1zM97 642h1v1h-1zM98 642h1v1h-1zM99 642h1v1h-1zM100 642h1v1h-1zM101 643h1v1h-1zM102 644h1v1h-1zM103 645h1v1h-1zM104 646h1v1h-1zM105 646h1v1h-1zM106 647h1v1h-1zM107 647h1v1h-1zM108 647h1v1h-1zM109 648h1v1h-1zM110 649h1v1h-1zM111 650h1v1h-1zM112 651h1v1h-1zM113 651h1v1h-1zM114 651h1v1h-1zM115 651h1v1h-1zM116 651h1v1h-1zM117 652h1v1h-1zM118 653h1v2h-1zM119 655h1v1h-1zM120 656h1v1h-1zM121 657h1v2h-1zM122 659h1v2h-1zM123 661h1v2h-1zM124 663h1v2h-1zM125 663h1v1h-1zM126 662h1v1h-1zM127 661h1v1h-1zM128 660h1v1h-1zM129 660h1v1h-1zM130 659h1v1h-1zM131 659h1v1h-1zM132 659h1v1h-1zM133 660h1v1h-1zM134 661h1v1h-1zM135 661h1v1h-1zM136 662h1v1h-1zM137 661h1v1h-1zM138 659h1v2h-1zM139 658h1v1h-1zM140 657h1v1h-1zM141 656h1v1h-1zM142 656h1v1h-1zM143 655h1v1h-1zM144 655h1v1h-1zM145 654h1v1h-1zM146 654h1v1h-1zM147 653h1v1h-1zM148 653h1v1h-1zM149 652h1v1h-1zM150 652h1v1h-1zM151 651h1v1h-1zM152 651h1v1h-1zM153 651h1v1h-1zM154 652h1v1h-1zM155 652h1v1h-1zM156 652h1v1h-1zM157 650h1v2h-1zM158 648h1v2h-1zM159 646h1v2h-1zM160 645h1v1h-1zM161 645h1v1h-1zM162 645h1v1h-1zM163 645h1v1h-1zM164 645h1v1h-1zM165 646h1v1h-1zM166 647h1v1h-1zM167 648h1v1h-1zM168 649h1v1h-1zM169 647h1v2h-1zM170 645h1v2h-1zM171 643h1v2h-1zM172 641h1v2h-1zM173 641h1v1h-1zM174 641h1v1h-1zM175 641h1v1h-1zM176 641h1v1h-1zM177 641h1v1h-1zM178 642h1v1h-1zM179 642h1v1h-1zM180 642h1v1h-1zM181 643h1v1h-1zM182 643h1v1h-1zM183 644h1v1h-1zM184 644h1v1h-1zM185 643h1v1h-1zM186 643h1v1h-1zM187 642h1v1h-1zM188 642h1v1h-1zM189 641h1v1h-1zM190 639h1v2h-1zM191 638h1v1h-1zM192 637h1v1h-1zM193 636h1v1h-1zM194 636h1v1h-1zM195 635h1v1h-1zM196 635h1v1h-1zM197 636h1v1h-1zM198 637h1v1h-1zM199 638h1v1h-1zM200 639h1v1h-1zM201 638h1v1h-1zM202 637h1v1h-1zM203 637h1v1h-1zM204 636h1v1h-1zM205 635h1v1h-1zM206 635h1v1h-1zM207 634h1v1h-1zM208 634h1v1h-1zM209 632h1v2h-1zM210 631h1v1h-1zM211 629h1v2h-1zM212 628h1v1h-1zM213 627h1v1h-1zM214 625h1v2h-1zM215 624h1v1h-1zM216 623h1v1h-1zM217 621h1v2h-1zM218 620h1v1h-1zM219 618h1v2h-1zM220 617h1v1h-1zM221 617h1v1h-1zM222 618h1v1h-1zM223 618h1v1h-1zM224 618h1v1h-1zM225 619h1v1h-1zM226 620h1v1h-1zM227 620h1v1h-1zM228 621h1v1h-1zM229 621h1v1h-1zM230 620h1v1h-1zM231 620h1v1h-1zM232 620h1v1h-1zM233 618h1v2h-1zM234 617h1v1h-1zM235 615h1v2h-1zM236 614h1v2h-1zM237 616h1v2h-1zM238 618h1v3h-1zM239 621h1v2h-1zM240 623h1v2h-1zM241 623h1v1h-1zM242 623h1v1h-1zM243 622h1v1h-1zM244 622h1v1h-1zM245 623h1v1h-1zM246 624h1v1h-1zM247 624h1v1h-1zM248 625h1v1h-1zM249 625h1v1h-1zM250 625h1v1h-1zM251 625h1v1h-1zM252 625h1v1h-1zM253 625h1v1h-1zM254 624h1v1h-1zM255 624h1v1h-1zM256 624h1v1h-1zM257 624h1v1h-1zM258 624h1v1h-1zM259 624h1v1h-1zM260 624h1v2h-1zM261 626h1v4h-1zM262 630h1v4h-1zM263 634h1v4h-1zM264 638h1v3h-1zM265 638h1v2h-1zM266 637h1v1h-1zM267 635h1v2h-1zM268 634h1v1h-1zM269 634h1v1h-1zM270 635h1v1h-1zM271 635h1v1h-1zM272 635h1v1h-1zM273 635h1v1h-1zM274 635h1v1h-1zM275 635h1v1h-1zM276 635h1v1h-1zM277 635h1v1h-1zM278 634h1v1h-1zM279 634h1v1h-1zM280 634h1v1h-1zM281 633h1v1h-1zM282 631h1v2h-1zM283 630h1v1h-1zM284 629h1v1h-1zM285 630h1v2h-1zM286 632h1v2h-1zM287 634h1v2h-1zM288 636h1v3h-1zM289 639h1v2h-1zM290 641h1v2h-1zM291 643h1v2h-1zM292 645h1v2h-1zM293 647h1v1h-1zM294 648h1v1h-1zM295 649h1v1h-1zM296 650h1v1h-1zM297 649h1v1h-1zM298 648h1v1h-1zM299 648h1v1h-1zM300 647h1v2h-1zM301 649h1v2h-1zM302 651h1v2h-1zM303 653h1v2h-1zM304 655h1v2h-1zM305 655h1v1h-1zM306 654h1v1h-1zM307 653h1v1h-1zM308 652h1v1h-1zM309 652h1v1h-1zM310 651h1v1h-1zM311 651h1v1h-1zM312 651h1v1h-1zM313 650h1v1h-1zM314 650h1v1h-1zM315 649h1v1h-1zM316 649h1v1h-1zM317 649h1v1h-1zM318 648h1v1h-1zM319 648h1v1h-1zM320 648h1v1h-1zM321 648h1v1h-1zM322 647h1v1h-1zM323 647h1v1h-1zM324 647h1v1h-1zM325 648h1v1h-1zM326 649h1v2h-1zM327 651h1v1h-1zM328 652h1v1h-1zM329 651h1v1h-1zM330 650h1v1h-1zM331 649h1v1h-1zM332 648h1v1h-1zM333 649h1v1h-1zM334 649h1v1h-1zM335 650h1v1h-1zM336 650h1v1h-1zM337 651h1v2h-1zM338 653h1v2h-1zM339 655h1v2h-1zM340 657h1v2h-1zM341 659h1v1h-1zM342 659h1v1h-1zM343 660h1v1h-1zM344 660h1v1h-1zM345 660h1v1h-1zM346 661h1v1h-1zM347 661h1v1h-1zM348 661h1v1h-1zM349 659h1v2h-1zM350 658h1v1h-1zM351 656h1v2h-1zM352 654h1v2h-1zM353 652h1v2h-1zM354 650h1v2h-1zM355 648h1v2h-1zM356 646h1v2h-1zM357 647h1v1h-1zM358 648h1v1h-1zM359 649h1v1h-1zM360 650h1v1h-1zM361 649h1v1h-1zM362 649h1v1h-1zM363 648h1v1h-1zM364 648h1v1h-1zM365 649h1v2h-1zM366 651h1v1h-1zM367 652h1v2h-1zM368 654h1v1h-1zM369 655h1v1h-1zM370 656h1v1h-1zM371 657h1v1h-1zM372 658h1v1h-1zM373 658h1v1h-1zM374 659h1v1h-1zM375 659h1v1h-1zM376 659h1v1h-1zM377 660h1v2h-1zM378 662h1v1h-1zM379 663h1v2h-1zM380 665h1v1h-1zM381 666h1v1h-1zM382 666h1v1h-1zM383 667h1v1h-1zM384 667h1v1h-1zM385 668h1v1h-1zM386 669h1v1h-1zM387 669h1v1h-1zM388 670h1v1h-1zM389 670h1v1h-1zM390 670h1v1h-1zM391 670h1v1h-1zM392 670h1v1h-1zM393 670h1v1h-1zM394 671h1v1h-1zM395 671h1v1h-1zM396 671h1v1h-1zM397 669h1v2h-1zM398 667h1v2h-1zM399 665h1v2h-1zM400 663h1v2h-1zM401 662h1v1h-1zM402 660h1v2h-1zM403 659h1v1h-1zM404 658h1v1h-1zM405 657h1v1h-1zM406 656h1v1h-1zM407 655h1v1h-1zM408 654h1v1h-1zM409 654h1v1h-1zM410 654h1v1h-1zM411 654h1v1h-1zM412 654h1v1h-1zM413 652h1v2h-1zM414 650h1v2h-1zM415 648h1v2h-1zM416 646h1v2h-1zM417 646h1v1h-1zM418 646h1v1h-1zM419 646h1v1h-1zM420 646h1v1h-1zM421 647h1v1h-1zM422 647h1v1h-1zM423 648h1v1h-1zM424 648h1v1h-1zM425 647h1v1h-1zM426 646h1v1h-1zM427 646h1v1h-1zM428 645h1v1h-1zM429 646h1v2h-1zM430 648h1v1h-1zM431 649h1v2h-1zM432 651h1v2h-1zM433 653h1v4h-1zM434 657h1v4h-1zM435 661h1v4h-1zM436 665h1v2h-1zM437 667h1v1h-1zM438 667h1v1h-1zM439 668h1v1h-1zM440 668h1v1h-1zM441 669h1v1h-1zM442 669h1v1h-1zM443 670h1v1h-1zM444 670h1v1h-1zM445 671h1v1h-1zM446 672h1v1h-1zM447 672h1v1h-1zM448 673h1v1h-1zM449 672h1v1h-1zM450 672h1v1h-1zM451 671h1v1h-1zM452 671h1v1h-1zM453 669h1v2h-1zM454 668h1v1h-1zM455 666h1v2h-1zM456 665h1v1h-1zM457 665h1v1h-1zM458 664h1v1h-1zM459 664h1v1h-1zM460 664h1v1h-1zM461 664h1v1h-1zM462 665h1v1h-1zM463 665h1v1h-1zM464 665h1v1h-1zM465 665h1v1h-1zM466 665h1v1h-1zM467 665h1v1h-1zM468 663h1v3h-1zM469 659h1v4h-1zM470 654h1v5h-1zM471 650h1v4h-1zM472 647h1v3h-1zM473 647h1v1h-1zM474 648h1v1h-1zM475 648h1v1h-1zM476 648h1v1h-1zM477 648h1v1h-1zM478 647h1v1h-1zM479 647h1v1h-1zM480 647h1v1h-1zM481 648h1v1h-1zM482 648h1v1h-1zM483 649h1v1h-1zM484 648h1v2h-1zM485 646h1v2h-1zM486 643h1v3h-1zM487 641h1v2h-1zM488 639h1v2h-1zM489 639h1v1h-1zM490 640h1v1h-1zM491 640h1v1h-1zM492 640h1v1h-1zM493 639h1v1h-1zM494 639h1v1h-1zM495 638h1v1h-1zM496 638h1v1h-1zM497 638h1v1h-1zM498 639h1v1h-1zM499 639h1v1h-1zM500 639h1v1h-1zM501 640h1v2h-1zM502 642h1v1h-1zM503 643h1v2h-1zM504 645h1v1h-1zM505 645h1v1h-1zM506 646h1v1h-1zM507 646h1v1h-1zM508 646h1v1h-1zM509 647h1v1h-1zM510 648h1v2h-1zM511 650h1v1h-1zM512 651h1v1h-1zM513 651h1v1h-1zM514 652h1v1h-1zM515 652h1v1h-1zM516 652h1v1h-1zM517 652h1v1h-1zM518 651h1v1h-1zM519 651h1v1h-1zM520 651h1v1h-1zM521 649h1v2h-1zM522 647h1v2h-1zM523 645h1v2h-1zM524 644h1v1h-1zM525 645h1v1h-1zM526 645h1v1h-1zM527 646h1v1h-1zM528 646h1v1h-1zM529 646h1v1h-1zM530 647h1v1h-1zM531 647h1v1h-1zM532 647h1v1h-1zM533 648h1v2h-1zM534 650h1v2h-1zM535 652h1v2h-1zM536 654h1v1h-1zM537 654h1v1h-1zM538 653h1v1h-1zM539 653h1v1h-1zM540 653h1v1h-1zM541 654h1v1h-1zM542 654h1v1h-1zM543 655h1v1h-1zM544 655h1v1h-1zM545 653h1v2h-1zM546 651h1v2h-1zM547 649h1v2h-1zM548 648h1v1h-1zM549 648h1v1h-1zM550 647h1v1h-1zM551 647h1v1h-1zM552 647h1v1h-1zM553 645h1v2h-1zM554 643h1v2h-1zM555 641h1v2h-1zM556 640h1v1h-1zM557 639h1v1h-1zM558 638h1v1h-1zM559 637h1v1h-1zM560 636h1v1h-1zM561 636h1v1h-1zM562 635h1v1h-1zM563 635h1v1h-1zM564 635h1v1h-1zM565 636h1v1h-1zM566 637h1v2h-1zM567 639h1v1h-1zM568 640h1v1h-1zM569 640h1v1h-1zM570 641h1v1h-1zM571 641h1v1h-1zM572 641h1v1h-1zM573 641h1v1h-1zM574 642h1v1h-1zM575 642h1v1h-1zM576 642h1v1h-1zM577 641h1v1h-1zM578 639h1v2h-1zM579 638h1v1h-1zM580 637h1v3h-1zM581 640h1v4h-1zM582 644h1v4h-1zM583 648h1v4h-1zM584 652h1v3h-1zM585 654h1v1h-1zM586 653h1v1h-1zM587 653h1v1h-1zM588 653h1v2h-1zM589 655h1v2h-1zM590 657h1v3h-1zM591 660h1v2h-1zM592 662h1v2h-1zM593 660h1v2h-1zM594 658h1v2h-1zM595 656h1v2h-1zM596 654h1v2h-1zM597 655h1v2h-1zM598 657h1v1h-1zM599 658h1v2h-1zM600 660h1v1h-1zM601 659h1v1h-1zM602 657h1v2h-1zM603 656h1v1h-1zM604 655h1v1h-1zM605 656h1v1h-1zM606 657h1v1h-1zM607 657h1v1h-1zM608 658h1v1h-1zM609 657h1v1h-1zM610 657h1v1h-1zM611 656h1v1h-1zM612 656h1v1h-1zM613 657h1v1h-1zM614 657h1v1h-1zM615 658h1v1h-1zM616 658h1v1h-1zM617 657h1v1h-1zM618 655h1v2h-1zM619 654h1v1h-1zM620 653h1v1h-1zM621 653h1v1h-1zM622 653h1v1h-1zM623 653h1v1h-1zM624 653h1v1h-1zM625 652h1v1h-1zM626 651h1v1h-1zM627 651h1v1h-1zM628 650h1v1h-1zM629 649h1v1h-1zM630 648h1v1h-1zM631 647h1v1h-1zM632 646h1v1h-1zM633 647h1v1h-1zM634 647h1v1h-1zM635 648h1v1h-1zM636 648h1v1h-1zM637 647h1v1h-1zM638 646h1v1h-1zM639 646h1v1h-1zM640 645h1v1h-1zM641 646h1v1h-1zM642 646h1v1h-1zM643 647h1v1h-1zM644 647h1v1h-1zM645 646h1v1h-1zM646 645h1v1h-1zM647 645h1v1h-1zM648 644h1v1h-1zM649 643h1v1h-1zM650 643h1v1h-1zM651 642h1v1h-1zM652 642h1v2h-1zM653 644h1v2h-1zM654 646h1v3h-1zM655 649h1v2h-1zM656 651h1v2h-1zM657 652h1v1h-1zM658 652h1v1h-1zM659 652h1v1h-1zM660 652h1v1h-1zM661 651h1v1h-1zM662 649h1v2h-1zM663 648h1v1h-1zM664 647h1v1h-1zM665 646h1v1h-1zM666 645h1v1h-1zM667 644h1v1h-1zM668 643h1v1h-1zM669 643h1v1h-1zM670 644h1v1h-1zM671 644h1v1h-1zM672 644h1v1h-1zM673 643h1v1h-1zM674 641h1v2h-1zM675 640h1v1h-1zM676 639h1v1h-1zM677 638h1v1h-1zM678 637h1v1h-1zM679 636h1v1h-1zM680 635h1v1h-1zM681 635h1v1h-1zM682 634h1v1h-1zM683 634h1v1h-1zM684 634h1v1h-1zM685 634h1v1h-1zM686 634h1v1h-1zM687 634h1v1h-1zM688 634h1v1h-1zM689 635h1v1h-1zM690 636h1v2h-1zM691 638h1v1h-1zM692 639h1v1h-1zM693 640h1v2h-1zM694 642h1v2h-1zM695 644h1v2h-1zM696 646h1v1h-1zM697 645h1v1h-1zM698 643h1v2h-1zM699 642h1v1h-1zM700 641h1v1h-1zM701 641h1v1h-1zM702 641h1v1h-1zM703 641h1v1h-1zM704 641h1v1h-1zM705 641h1v1h-1zM706 640h1v1h-1zM707 640h1v1h-1zM708 640h1v1h-1zM709 639h1v1h-1zM710 638h1v1h-1zM711 637h1v1h-1zM712 636h1v1h-1zM713 636h1v1h-1zM714 637h1v1h-1zM715 637h1v1h-1zM716 637h1v1h-1zM717 636h1v1h-1zM718 635h1v1h-1zM719 635h1v1h-1zM720 634h1v1h-1zM721 635h1v2h-1zM722 637h1v2h-1zM723 639h1v2h-1zM724 641h1v1h-1zM725 641h1v1h-1zM726 640h1v1h-1zM727 640h1v1h-1zM728 640h1v1h-1zM729 639h1v1h-1zM730 639h1v1h-1zM731 638h1v1h-1zM732 638h1v1h-1zM733 638h1v1h-1zM734 637h1v1h-1zM735 637h1v1h-1zM736 637h1v1h-1zM737 637h1v1h-1zM738 636h1v1h-1zM739 636h1v1h-1zM740 636h1v1h-1zM741 635h1v1h-1zM742 634h1v1h-1zM743 634h1v1h-1zM744 633h1v1h-1zM745 634h1v1h-1zM746 635h1v2h-1zM747 637h1v1h-1zM748 638h1v1h-1zM749 638h1v1h-1zM750 637h1v1h-1zM751 637h1v1h-1zM752 637h1v1h-1zM753 638h1v1h-1zM754 639h1v1h-1zM755 639h1v1h-1zM756 640h1v1h-1zM757 641h1v1h-1zM758 642h1v1h-1zM759 643h1v1h-1zM760 644h1v1h-1zM761 645h1v1h-1zM762 646h1v1h-1zM763 647h1v1h-1zM764 648h1v1h-1zM765 646h1v2h-1zM766 645h1v1h-1zM767 643h1v2h-1zM768 642h1v1h-1zM769 641h1v1h-1zM770 640h1v1h-1zM771 640h1v1h-1zM772 639h1v1h-1zM773 640h1v1h-1zM774 640h1v1h-1zM775 641h1v1h-1zM776 641h1v1h-1zM777 642h1v1h-1zM778 642h1v1h-1zM779 643h1v1h-1zM780 642h1v2h-1zM781 640h1v2h-1zM782 637h1v3h-1zM783 635h1v2h-1zM784 633h1v2h-1zM785 634h1v2h-1zM786 636h1v2h-1zM787 638h1v2h-1zM788 640h1v1h-1zM789 639h1v1h-1zM790 638h1v1h-1zM791 637h1v1h-1zM792 636h1v1h-1zM793 636h1v1h-1zM794 636h1v1h-1zM795 636h1v1h-1zM796 636h1v1h-1zM797 637h1v1h-1zM798 638h1v1h-1zM799 638h1v1h-1zM800 639h1v1h-1zM801 639h1v1h-1zM802 640h1v1h-1zM803 640h1v1h-1zM804 640h1v1h-1zM805 640h1v1h-1zM806 640h1v1h-1zM807 640h1v1h-1zM808 640h1v1h-1zM809 641h1v1h-1zM810 641h1v1h-1zM811 642h1v1h-1zM812 642h1v1h-1zM813 641h1v1h-1zM814 641h1v1h-1zM815 640h1v1h-1zM816 640h1v1h-1zM817 640h1v1h-1zM818 640h1v1h-1zM819 640h1v1h-1zM820 640h1v1h-1zM821 639h1v1h-1zM822 638h1v1h-1zM823 638h1v1h-1zM824 637h1v1h-1zM825 637h1v1h-1zM826 636h1v1h-1zM827 636h1v1h-1zM828 636h1v1h-1zM829 636h1v1h-1zM830 637h1v1h-1zM831 637h1v1h-1zM832 637h1v1h-1zM833 636h1v1h-1zM834 636h1v1h-1zM835 635h1v1h-1zM836 635h1v1h-1zM837 636h1v2h-1zM838 638h1v1h-1zM839 639h1v2h-1zM840 641h1v2h-1zM841 643h1v4h-1zM842 647h1v4h-1zM843 651h1v4h-1zM844 655h1v2h-1zM845 657h1v1h-1zM846 658h1v1h-1zM847 658h1v1h-1zM848 659h1v1h-1zM849 659h1v1h-1zM850 659h1v1h-1zM851 659h1v1h-1zM852 659h1v1h-1zM853 658h1v1h-1zM854 657h1v1h-1zM855 657h1v1h-1zM856 656h1v1h-1zM857 655h1v1h-1zM858 653h1v2h-1zM859 652h1v1h-1zM860 651h1v1h-1zM861 650h1v1h-1zM862 649h1v1h-1zM863 648h1v1h-1zM864 647h1v1h-1zM865 646h1v1h-1zM866 645h1v1h-1zM867 645h1v1h-1zM868 644h1v1h-1zM869 643h1v1h-1zM870 642h1v1h-1zM871 641h1v1h-1zM872 640h1v1h-1zM873 640h1v1h-1zM874 640h1v1h-1zM875 640h1v1h-1zM876 640h1v1h-1zM877 639h1v1h-1zM878 639h1v1h-1zM879 638h1v1h-1zM880 638h1v1h-1zM881 639h1v1h-1zM882 640h1v2h-1zM883 642h1v1h-1zM884 643h1v1h-1zM885 644h1v2h-1zM886 646h1v1h-1zM887 647h1v2h-1zM888 649h1v1h-1zM889 650h1v2h-1zM890 652h1v1h-1zM891 653h1v2h-1zM892 655h1v1h-1zM893 656h1v1h-1zM894 656h1v1h-1zM895 657h1v1h-1zM896 657h1v1h-1zM897 657h1v1h-1zM898 656h1v1h-1zM899 656h1v1h-1zM900 656h1v1h-1zM901 656h1v1h-1zM902 655h1v1h-1zM903 655h1v1h-1zM904 654h1v2h-1zM905 651h1v3h-1zM906 648h1v3h-1zM907 645h1v3h-1zM908 643h1v2h-1zM909 643h1v1h-1zM910 642h1v1h-1zM911 642h1v1h-1zM912 642h1v1h-1zM913 641h1v1h-1zM914 640h1v1h-1zM915 640h1v1h-1zM916 639h1v1h-1zM917 638h1v1h-1zM918 637h1v1h-1zM919 636h1v1h-1zM920 635h1v1h-1zM921 635h1v1h-1zM922 634h1v1h-1zM923 634h1v1h-1zM924 634h1v1h-1zM925 635h1v2h-1zM926 637h1v2h-1zM927 639h1v2h-1zM928 641h1v1h-1zM929 641h1v1h-1zM930 642h1v1h-1zM931 642h1v1h-1zM932 642h1v2h-1zM933 644h1v2h-1zM934 646h1v2h-1zM935 648h1v2h-1zM936 650h1v2h-1zM937 651h1v1h-1zM938 652h1v1h-1zM939 652h1v1h-1zM940 652h1v1h-1zM941 651h1v1h-1zM942 651h1v1h-1zM943 650h1v1h-1zM944 650h1v1h-1zM945 650h1v1h-1zM946 650h1v1h-1zM947 650h1v1h-1zM948 650h1v1h-1zM949 651h1v1h-1zM950 652h1v1h-1zM951 652h1v1h-1zM952 653h1v1h-1zM953 652h1v1h-1zM954 650h1v2h-1zM955 649h1v1h-1zM956 648h1v1h-1zM957 647h1v1h-1zM958 645h1v2h-1zM959 644h1v1h-1zM960 643h1v1h-1zM961 644h1v1h-1zM962 645h1v1h-1zM963 645h1v1h-1zM964 646h1v1h-1zM965 644h1v2h-1zM966 642h1v2h-1zM967 640h1v2h-1zM968 638h1v2h-1zM969 637h1v1h-1zM970 636h1v1h-1zM971 636h1v1h-1zM972 635h1v1h-1zM973 635h1v1h-1zM974 636h1v1h-1zM975 636h1v1h-1zM976 636h1v1h-1zM977 635h1v1h-1zM978 635h1v1h-1zM979 634h1v1h-1zM980 634h1v1h-1zM981 634h1v1h-1zM982 633h1v1h-1zM983 633h1v1h-1zM984 633h1v1h-1zM985 633h1v1h-1zM986 634h1v1h-1zM987 634h1v1h-1zM988 634h1v1h-1zM989 634h1v1h-1zM990 633h1v1h-1zM991 633h1v1h-1zM992 633h1v1h-1zM993 633h1v1h-1zM994 632h1v1h-1zM995 632h1v1h-1zM996 632h1v2h-1zM997 634h1v4h-1zM998 638h1v4h-1zM999 642h1v4h-1zM1000 646h1v4h-1zM1001 650h1v2h-1zM1002 652h1v3h-1zM1003 655h1v2h-1zM1004 657h1v2h-1zM1005 657h1v1h-1zM1006 656h1v1h-1zM1007 655h1v1h-1zM1008 654h1v1h-1zM1009 654h1v1h-1zM1010 654h1v1h-1zM1011 654h1v1h-1zM1012 654h1v1h-1zM1013 653h1v1h-1zM1014 651h1v2h-1zM1015 650h1v1h-1zM1016 649h1v1h-1zM1017 649h1v1h-1zM1018 650h1v1h-1zM1019 650h1v1h-1zM1020 650h1v1h-1zM1021 651h1v1h-1zM1022 652h1v1h-1zM1023 652h1v1h-1zM1024 653h1v1h-1zM1025 654h1v1h-1zM1026 655h1v1h-1zM1027 655h1v1h-1zM1028 656h1v1h-1zM1029 656h1v1h-1zM1030 656h1v1h-1zM1031 656h1v1h-1zM1032 656h1v1h-1zM1033 655h1v1h-1zM1034 655h1v1h-1zM1035 654h1v1h-1zM1036 654h1v1h-1zM1037 655h1v2h-1zM1038 657h1v1h-1zM1039 658h1v2h-1zM1040 660h1v1h-1zM1041 659h1v1h-1zM1042 658h1v1h-1zM1043 658h1v1h-1zM1044 657h1v1h-1zM1045 657h1v1h-1zM1046 657h1v1h-1zM1047 657h1v1h-1zM1048 657h1v1h-1zM1049 658h1v2h-1zM1050 660h1v1h-1zM1051 661h1v2h-1zM1052 663h1v1h-1zM1053 662h1v1h-1zM1054 661h1v1h-1zM1055 660h1v1h-1zM1056 659h1v1h-1zM1057 660h1v1h-1zM1058 661h1v1h-1zM1059 662h1v1h-1zM1060 663h1v1h-1zM1061 661h1v2h-1zM1062 659h1v2h-1zM1063 657h1v2h-1zM1064 655h1v2h-1zM1065 654h1v1h-1zM1066 654h1v1h-1zM1067 653h1v1h-1zM1068 653h1v1h-1zM1069 653h1v1h-1zM1070 654h1v1h-1zM1071 654h1v1h-1zM1072 654h1v1h-1zM1073 655h1v1h-1zM1074 656h1v1h-1zM1075 656h1v1h-1zM1076 657h1v1h-1zM1077 657h1v1h-1zM1078 658h1v1h-1zM1079 658h1v1h-1zM1080 658h1v1h-1zM1081 657h1v1h-1zM1082 656h1v1h-1zM1083 655h1v1h-1zM1084 654h1v1h-1zM1085 655h1v2h-1zM1086 657h1v2h-1zM1087 659h1v2h-1zM1088 661h1v2h-1zM1089 663h1v1h-1zM1090 663h1v1h-1zM1091 664h1v1h-1zM1092 664h1v1h-1zM1093 665h1v1h-1zM1094 666h1v1h-1zM1095 667h1v1h-1zM1096 668h1v1h-1zM1097 668h1v1h-1zM1098 669h1v1h-1zM1099 669h1v1h-1zM1100 669h1v1h-1zM1101 669h1v1h-1zM1102 670h1v1h-1zM1103 670h1v1h-1zM1104 670h1v1h-1zM1105 669h1v1h-1zM1106 668h1v1h-1zM1107 667h1v1h-1zM1108 666h1v1h-1zM1109 665h1v1h-1zM1110 664h1v1h-1zM1111 663h1v1h-1zM1112 662h1v1h-1zM1113 661h1v1h-1zM1114 660h1v1h-1zM1115 659h1v1h-1zM1116 658h1v1h-1zM1117 659h1v1h-1zM1118 660h1v2h-1zM1119 662h1v1h-1zM1120 663h1v1h-1zM1121 661h1v2h-1zM1122 659h1v2h-1zM1123 657h1v2h-1zM1124 656h1v1h-1zM1125 657h1v1h-1zM1126 657h1v1h-1zM1127 658h1v1h-1zM1128 658h1v1h-1zM1129 656h1v2h-1zM1130 655h1v1h-1zM1131 653h1v2h-1zM1132 652h1v1h-1zM1133 652h1v1h-1zM1134 652h1v1h-1zM1135 652h1v1h-1zM1136 652h1v1h-1zM1137 652h1v1h-1zM1138 653h1v1h-1zM1139 653h1v1h-1zM1140 653h1v1h-1zM1141 654h1v1h-1zM1142 654h1v1h-1zM1143 655h1v1h-1zM1144 655h1v1h-1zM1145 656h1v1h-1zM1146 657h1v1h-1zM1147 658h1v1h-1zM1148 659h1v1h-1zM1149 660h1v1h-1zM1150 661h1v1h-1zM1151 662h1v1h-1zM1152 663h1v1h-1zM1153 663h1v1h-1zM1154 664h1v1h-1zM1155 664h1v1h-1zM1156 664h1v1h-1zM1157 662h1v2h-1zM1158 660h1v2h-1zM1159 658h1v2h-1zM1160 656h1v2h-1zM1161 656h1v1h-1zM1162 656h1v1h-1zM1163 656h1v1h-1zM1164 656h1v1h-1zM1165 655h1v1h-1zM1166 654h1v1h-1zM1167 653h1v1h-1zM1168 652h1v1h-1zM1169 653h1v1h-1zM1170 654h1v1h-1zM1171 654h1v1h-1zM1172 655h1v1h-1zM1173 653h1v2h-1zM1174 652h1v1h-1zM1175 650h1v2h-1zM1176 649h1v1h-1zM1177 650h1v1h-1zM1178 650h1v1h-1zM1179 651h1v1h-1zM1180 651h1v1h-1zM1181 650h1v1h-1zM1182 649h1v1h-1zM1183 649h1v1h-1zM1184 648h1v1h-1zM1185 648h1v1h-1zM1186 648h1v1h-1zM1187 648h1v1h-1zM1188 648h1v1h-1zM1189 649h1v1h-1zM1190 649h1v1h-1zM1191 650h1v1h-1zM1192 650h1v1h-1zM1193 648h1v2h-1zM1194 646h1v2h-1zM1195 644h1v2h-1zM1196 642h1v2h-1zM1197 641h1v1h-1zM1198 640h1v1h-1zM1199 640h1v1h-1zM1200 639h1v2h-1zM1201 641h1v3h-1zM1202 644h1v4h-1zM1203 648h1v3h-1zM1204 651h1v2h-1zM1205 653h1v1h-1zM1206 654h1v2h-1zM1207 656h1v1h-1zM1208 657h1v1h-1zM1209 657h1v1h-1zM1210 658h1v1h-1zM1211 658h1v1h-1zM1212 658h1v1h-1zM1213 657h1v1h-1zM1214 655h1v2h-1zM1215 654h1v1h-1zM1216 653h1v1h-1zM1217 651h1v2h-1zM1218 649h1v2h-1zM1219 647h1v2h-1zM1220 646h1v1h-1zM1221 645h1v1h-1zM1222 643h1v2h-1zM1223 642h1v1h-1zM1224 641h1v1h-1zM1225 640h1v1h-1zM1226 640h1v1h-1zM1227 639h1v1h-1zM1228 639h1v1h-1zM1229 638h1v1h-1zM1230 638h1v1h-1zM1231 637h1v1h-1zM1232 637h1v1h-1zM1233 637h1v1h-1zM1234 636h1v1h-1zM1235 636h1v1h-1zM1236 636h1v1h-1zM1237 636h1v1h-1zM1238 636h1v1h-1zM1239 636h1v1h-1zM1240 636h1v1h-1zM1241 636h1v1h-1zM1242 636h1v1h-1zM1243 636h1v1h-1zM1244 636h1v1h-1zM1245 636h1v1h-1zM1246 637h1v1h-1zM1247 637h1v1h-1zM1248 637h1v1h-1zM1249 636h1v1h-1zM1250 635h1v1h-1zM1251 635h1v1h-1zM1252 634h1v1h-1zM1253 633h1v1h-1zM1254 631h1v2h-1zM1255 630h1v1h-1zM1256 629h1v1h-1zM1257 629h1v1h-1zM1258 629h1v1h-1zM1259 629h1v1h-1zM1260 629h1v1h-1zM1261 629h1v1h-1zM1262 629h1v1h-1zM1263 629h1v1h-1zM1264 629h1v1h-1zM1265 629h1v1h-1zM1266 630h1v1h-1zM1267 630h1v1h-1zM1268 630h1v1h-1zM1269 629h1v1h-1zM1270 628h1v1h-1zM1271 628h1v1h-1zM1272 627h1v1h-1zM1273 628h1v1h-1zM1274 629h1v1h-1zM1275 630h1v1h-1zM1276 631h1v2h-1zM1277 633h1v2h-1zM1278 635h1v3h-1zM1279 638h1v2h-1zM1280 640h1v2h-1zM1281 642h1v1h-1zM1282 642h1v1h-1zM1283 643h1v1h-1zM1284 643h1v1h-1zM1285 643h1v1h-1zM1286 643h1v1h-1zM1287 643h1v1h-1zM1288 643h1v1h-1zM1289 644h1v1h-1zM1290 645h1v1h-1zM1291 645h1v1h-1zM1292 646h1v1h-1zM1293 645h1v1h-1zM1294 645h1v1h-1zM1295 644h1v1h-1zM1296 644h1v1h-1zM1297 645h1v2h-1zM1298 647h1v1h-1zM1299 648h1v2h-1zM1300 650h1v1h-1z" fill="#1e90ff" shape-rendering="crispEdges"/>
<text x="4.00" y="606" font-size="9.9" fill="#000" textLength="68.00" lengthAdjust="spacingAndGlyphs" xml:space="preserve" stroke="#000" stroke-width="0.15" >RSI(14) 45.8986</text>
<rect x="1637" y="595" width="1" height="1" fill="#000"/>
<text x="1640.00" y="604" font-size="9.9" fill="#000" textLength="15.00" lengthAdjust="spacingAndGlyphs" xml:space="preserve" stroke="#000" stroke-width="0.15" >100</text>
<text x="1639.00" y="629" font-size="9.9" fill="#000" textLength="10.00" lengthAdjust="spacingAndGlyphs" xml:space="preserve" stroke="#000" stroke-width="0.15" >70</text>
<text x="1639.00" y="670" font-size="9.9" fill="#000" textLength="10.00" lengthAdjust="spacingAndGlyphs" xml:space="preserve" stroke="#000" stroke-width="0.15" >30</text>
<rect x="1637" y="696" width="1" height="1" fill="#000"/>
<text x="1640.00" y="694" font-size="9.9" fill="#000" textLength="5.00" lengthAdjust="spacingAndGlyphs" xml:space="preserve" stroke="#000" stroke-width="0.15" >0</text>
<rect x="0" y="717" width="1" height="29" fill="#c0c0c0"/>
<rect x="4" y="716" width="1" height="30" fill="#c0c0c0"/>
<rect x="8" y="715" width="1" height="31" fill="#c0c0c0"/>
<rect x="12" y="716" width="1" height="30" fill="#c0c0c0"/>
<rect x="16" y="718" width="1" height="28" fill="#c0c0c0"/>
<rect x="20" y="721" width="1" height="25" fill="#c0c0c0"/>
<rect x="24" y="724" width="1" height="22" fill="#c0c0c0"/>
<rect x="28" y="728" width="1" height="18" fill="#c0c0c0"/>
<rect x="32" y="730" width="1" height="16" fill="#c0c0c0"/>
<rect x="36" y="732" width="1" height="14" fill="#c0c0c0"/>
<rect x="40" y="734" width="1" height="12" fill="#c0c0c0"/>
<rect x="44" y="735" width="1" height="11" fill="#c0c0c0"/>
<rect x="48" y="737" width="1" height="9" fill="#c0c0c0"/>
<rect x="52" y="741" width="1" height="5" fill="#c0c0c0"/>
<rect x="56" y="742" width="1" height="4" fill="#c0c0c0"/>
<rect x="60" y="743" width="1" height="3" fill="#c0c0c0"/>
<rect x="64" y="743" width="1" height="3" fill="#c0c0c0"/>
<rect x="68" y="741" width="1" height="5" fill="#c0c0c0"/>
<rect x="72" y="739" width="1" height="7" fill="#c0c0c0"/>
<rect x="76" y="735" width="1" height="11" fill="#c0c0c0"/>
<rect x="80" y="732" width="1" height="14" fill="#c0c0c0"/>
<rect x="84" y="731" width="1" height="15" fill="#c0c0c0"/>
<rect x="88" y="727" width="1" height="19" fill="#c0c0c0"/>
<rect x="92" y="727" width="1" height="19" fill="#c0c0c0"/>
<rect x="96" y="728" width="1" height="18" fill="#c0c0c0"/>
<rect x="100" y="730" width="1" height="16" fill="#c0c0c0"/>
<rect x="104" y="733" width="1" height="13" fill="#c0c0c0"/>
<rect x="108" y="735" width="1" height="11" fill="#c0c0c0"/>
<rect x="112" y="738" width="1" height="8" fill="#c0c0c0"/>
<rect x="116" y="741" width="1" height="5" fill="#c0c0c0"/>
<rect x="120" y="744" width="1" height="2" fill="#c0c0c0"/>
<rect x="124" y="745" width="1" height="6" fill="#c0c0c0"/>
<rect x="128" y="745" width="1" height="10" fill="#c0c0c0"/>
<rect x="132" y="745" width="1" height="12" fill="#c0c0c0"/>
<rect x="136" y="745" width="1" height="15" fill="#c0c0c0"/>
<rect x="140" y="745" width="1" height="17" fill="#c0c0c0"/>
<rect x="144" y="745" width="1" height="17" fill="#c0c0c0"/>
<rect x="148" y="745" width="1" height="17" fill="#c0c0c0"/>
<rect x="152" y="745" width="1" height="16" fill="#c0c0c0"/>
<rect x="156" y="745" width="1" height="15" fill="#c0c0c0"/>
<rect x="160" y="745" width="1" height="13" fill="#c0c0c0"/>
<rect x="164" y="745" width="1" height="11" fill="#c0c0c0"/>
<rect x="168" y="745" width="1" height="10" fill="#c0c0c0"/>
<rect x="172" y="745" width="1" height="7" fill="#c0c0c0"/>
<rect x="176" y="745" width="1" height="5" fill="#c0c0c0"/>
<rect x="180" y="745" width="1" height="4" fill="#c0c0c0"/>
<rect x="184" y="745" width="1" height="3" fill="#c0c0c0"/>
<rect x="188" y="745" width="1" height="2" fill="#c0c0c0"/>
<rect x="192" y="744" width="1" height="2" fill="#c0c0c0"/>
<rect x="196" y="742" width="1" height="4" fill="#c0c0c0"/>
<rect x="200" y="741" width="1" height="5" fill="#c0c0c0"/>
<rect x="204" y="740" width="1" height="6" fill="#c0c0c0"/>
<rect x="208" y="738" width="1" height="8" fill="#c0c0c0"/>
<rect x="212" y="735" width="1" height="11" fill="#c0c0c0"/>
<rect x="216" y="731" width="1" height="15" fill="#c0c0c0"/>
<rect x="220" y="725" width="1" height="21" fill="#c0c0c0"/>
<rect x="224" y="720" width="1" height="26" fill="#c0c0c0"/>
<rect x="228" y="718" width="1" height="28" fill="#c0c0c0"/>
<rect x="232" y="715" width="1" height="31" fill="#c0c0c0"/>
<rect x="236" y="710" width="1" height="36" fill="#c0c0c0"/>
<rect x="240" y="708" width="1" height="38" fill="#c0c0c0"/>
<rect x="244" y="706" width="1" height="40" fill="#c0c0c0"/>
<rect x="248" y="706" width="1" height="40" fill="#c0c0c0"/>
<rect x="252" y="706" width="1" height="40" fill="#c0c0c0"/>
<rect x="256" y="706" width="1" height="40" fill="#c0c0c0"/>
<rect x="260" y="706" width="1" height="40" fill="#c0c0c0"/>
<rect x="264" y="711" width="1" height="35" fill="#c0c0c0"/>
<rect x="268" y="712" width="1" height="34" fill="#c0c0c0"/>
<rect x="272" y="714" width="1" height="32" fill="#c0c0c0"/>
<rect x="276" y="715" width="1" height="31" fill="#c0c0c0"/>
<rect x="280" y="717" width="1" height="29" fill="#c0c0c0"/>
<rect x="284" y="716" width="1" height="30" fill="#c0c0c0"/>
<rect x="288" y="718" width="1" height="28" fill="#c0c0c0"/>
<rect x="292" y="723" width="1" height="23" fill="#c0c0c0"/>
<rect x="296" y="728" width="1" height="18" fill="#c0c0c0"/>
<rect x="300" y="731" width="1" height="15" fill="#c0c0c0"/>
<rect x="304" y="737" width="1" height="9" fill="#c0c0c0"/>
<rect x="308" y="741" width="1" height="5" fill="#c0c0c0"/>
<rect x="312" y="744" width="1" height="2" fill="#c0c0c0"/>
<rect x="316" y="745" width="1" height="1" fill="#c0c0c0"/>
<rect x="320" y="745" width="1" height="2" fill="#c0c0c0"/>
<rect x="324" y="745" width="1" height="3" fill="#c0c0c0"/>
<rect x="328" y="745" width="1" height="5" fill="#c0c0c0"/>
<rect x="332" y="745" width="1" height="5" fill="#c0c0c0"/>
<rect x="336" y="745" width="1" height="6" fill="#c0c0c0"/>
<rect x="340" y="745" width="1" height="10" fill="#c0c0c0"/>
<rect x="344" y="745" width="1" height="14" fill="#c0c0c0"/>
<rect x="348" y="745" width="1" height="17" fill="#c0c0c0"/>
<rect x="352" y="745" width="1" height="18" fill="#c0c0c0"/>
<rect x="356" y="745" width="1" height="15" fill="#c0c0c0"/>
<rect x="360" y="745" width="1" height="15" fill="#c0c0c0"/>
<rect x="364" y="745" width="1" height="14" fill="#c0c0c0"/>
<rect x="368" y="745" width="1" height="15" fill="#c0c0c0"/>
<rect x="372" y="745" width="1" height="17" fill="#c0c0c0"/>
<rect x="376" y="745" width="1" height="20" fill="#c0c0c0"/>
<rect x="380" y="745" width="1" height="25" fill="#c0c0c0"/>
<rect x="384" y="745" width="1" height="30" fill="#c0c0c0"/>
<rect x="388" y="745" width="1" height="35" fill="#c0c0c0"/>
<rect x="392" y="745" width="1" height="39" fill="#c0c0c0"/>
<rect x="396" y="745" width="1" height="43" fill="#c0c0c0"/>
<rect x="400" y="745" width="1" height="43" fill="#c0c0c0"/>
<rect x="404" y="745" width="1" height="42" fill="#c0c0c0"/>
<rect x="408" y="745" width="1" height="39" fill="#c0c0c0"/>
<rect x="412" y="745" width="1" height="36" fill="#c0c0c0"/>
<rect x="416" y="745" width="1" height="31" fill="#c0c0c0"/>
<rect x="420" y="745" width="1" height="26" fill="#c0c0c0"/>
<rect x="424" y="745" width="1" height="23" fill="#c0c0c0"/>
<rect x="428" y="745" width="1" height="19" fill="#c0c0c0"/>
<rect x="432" y="745" width="1" height="18" fill="#c0c0c0"/>
<rect x="436" y="745" width="1" height="26" fill="#c0c0c0"/>
<rect x="440" y="745" width="1" height="33" fill="#c0c0c0"/>
<rect x="444" y="745" width="1" height="39" fill="#c0c0c0"/>
<rect x="448" y="745" width="1" height="47" fill="#c0c0c0"/>
<rect x="452" y="745" width="1" height="52" fill="#c0c0c0"/>
<rect x="456" y="745" width="1" height="53" fill="#c0c0c0"/>
<rect x="460" y="745" width="1" height="53" fill="#c0c0c0"/>
<rect x="464" y="745" width="1" height="53" fill="#c0c0c0"/>
<rect x="468" y="745" width="1" height="53" fill="#c0c0c0"/>
<rect x="472" y="745" width="1" height="46" fill="#c0c0c0"/>
<rect x="476" y="745" width="1" height="40" fill="#c0c0c0"/>
<rect x="480" y="745" width="1" height="34" fill="#c0c0c0"/>
<rect x="484" y="745" width="1" height="30" fill="#c0c0c0"/>
<rect x="488" y="745" width="1" height="23" fill="#c0c0c0"/>
<rect x="492" y="745" width="1" height="17" fill="#c0c0c0"/>
<rect x="496" y="745" width="1" height="11" fill="#c0c0c0"/>
<rect x="500" y="745" width="1" height="7" fill="#c0c0c0"/>
<rect x="504" y="745" width="1" height="5" fill="#c0c0c0"/>
<rect x="508" y="745" width="1" height="5" fill="#c0c0c0"/>
<rect x="512" y="745" width="1" height="7" fill="#c0c0c0"/>
<rect x="516" y="745" width="1" height="8" fill="#c0c0c0"/>
<rect x="520" y="745" width="1" height="9" fill="#c0c0c0"/>
<rect x="524" y="745" width="1" height="7" fill="#c0c0c0"/>
<rect x="528" y="745" width="1" height="6" fill="#c0c0c0"/>
<rect x="532" y="745" width="1" height="6" fill="#c0c0c0"/>
<rect x="536" y="745" width="1" height="8" fill="#c0c0c0"/>
<rect x="540" y="745" width="1" height="10" fill="#c0c0c0"/>
<rect x="544" y="745" width="1" height="12" fill="#c0c0c0"/>
<rect x="548" y="745" width="1" height="11" fill="#c0c0c0"/>
<rect x="552" y="745" width="1" height="10" fill="#c0c0c0"/>
<rect x="556" y="745" width="1" height="7" fill="#c0c0c0"/>
<rect x="560" y="745" width="1" height="2" fill="#c0c0c0"/>
<rect x="564" y="742" width="1" height="4" fill="#c0c0c0"/>
<rect x="568" y="740" width="1" height="6" fill="#c0c0c0"/>
<rect x="572" y="739" width="1" height="7" fill="#c0c0c0"/>
<rect x="576" y="739" width="1" height="7" fill="#c0c0c0"/>
<rect x="580" y="737" width="1" height="9" fill="#c0c0c0"/>
<rect x="584" y="742" width="1" height="4" fill="#c0c0c0"/>
<rect x="588" y="745" width="1" height="2" fill="#c0c0c0"/>
<rect x="592" y="745" width="1" height="11" fill="#c0c0c0"/>
<rect x="596" y="745" width="1" height="14" fill="#c0c0c0"/>
<rect x="600" y="745" width="1" height="21" fill="#c0c0c0"/>
<rect x="604" y="745" width="1" height="24" fill="#c0c0c0"/>
<rect x="608" y="745" width="1" height="28" fill="#c0c0c0"/>
<rect x="612" y="745" width="1" height="30" fill="#c0c0c0"/>
<rect x="616" y="745" width="1" height="33" fill="#c0c0c0"/>
<rect x="620" y="745" width="1" height="32" fill="#c0c0c0"/>
<rect x="624" y="745" width="1" height="32" fill="#c0c0c0"/>
<rect x="628" y="745" width="1" height="30" fill="#c0c0c0"/>
<rect x="632" y="745" width="1" height="25" fill="#c0c0c0"/>
<rect x="636" y="745" width="1" height="23" fill="#c0c0c0"/>
<rect x="640" y="745" width="1" height="19" fill="#c0c0c0"/>
<rect x="644" y="745" width="1" height="17" fill="#c0c0c0"/>
<rect x="648" y="745" width="1" height="13" fill="#c0c0c0"/>
<rect x="652" y="745" width="1" height="9" fill="#c0c0c0"/>
<rect x="656" y="745" width="1" height="11" fill="#c0c0c0"/>
<rect x="660" y="745" width="1" height="13" fill="#c0c0c0"/>
<rect x="664" y="745" width="1" height="12" fill="#c0c0c0"/>
<rect x="668" y="745" width="1" height="9" fill="#c0c0c0"/>
<rect x="672" y="745" width="1" height="7" fill="#c0c0c0"/>
<rect x="676" y="745" width="1" height="3" fill="#c0c0c0"/>
<rect x="680" y="741" width="1" height="5" fill="#c0c0c0"/>
<rect x="684" y="736" width="1" height="10" fill="#c0c0c0"/>
<rect x="688" y="732" width="1" height="14" fill="#c0c0c0"/>
<rect x="692" y="731" width="1" height="15" fill="#c0c0c0"/>
<rect x="696" y="733" width="1" height="13" fill="#c0c0c0"/>
<rect x="700" y="733" width="1" height="13" fill="#c0c0c0"/>
<rect x="704" y="732" width="1" height="14" fill="#c0c0c0"/>
<rect x="708" y="732" width="1" height="14" fill="#c0c0c0"/>
<rect x="712" y="729" width="1" height="17" fill="#c0c0c0"/>
<rect x="716" y="728" width="1" height="18" fill="#c0c0c0"/>
<rect x="720" y="725" width="1" height="21" fill="#c0c0c0"/>
<rect x="724" y="726" width="1" height="20" fill="#c0c0c0"/>
<rect x="728" y="726" width="1" height="20" fill="#c0c0c0"/>
<rect x="732" y="726" width="1" height="20" fill="#c0c0c0"/>
<rect x="736" y="726" width="1" height="20" fill="#c0c0c0"/>
<rect x="740" y="725" width="1" height="21" fill="#c0c0c0"/>
<rect x="744" y="723" width="1" height="23" fill="#c0c0c0"/>
<rect x="748" y="724" width="1" height="22" fill="#c0c0c0"/>
<rect x="752" y="724" width="1" height="22" fill="#c0c0c0"/>
<rect x="756" y="725" width="1" height="21" fill="#c0c0c0"/>
<rect x="760" y="728" width="1" height="18" fill="#c0c0c0"/>
<rect x="764" y="731" width="1" height="15" fill="#c0c0c0"/>
<rect x="768" y="732" width="1" height="14" fill="#c0c0c0"/>
<rect x="772" y="732" width="1" height="14" fill="#c0c0c0"/>
<rect x="776" y="732" width="1" height="14" fill="#c0c0c0"/>
<rect x="780" y="734" width="1" height="12" fill="#c0c0c0"/>
<rect x="784" y="730" width="1" height="16" fill="#c0c0c0"/>
<rect x="788" y="730" width="1" height="16" fill="#c0c0c0"/>
<rect x="792" y="728" width="1" height="18" fill="#c0c0c0"/>
<rect x="796" y="727" width="1" height="19" fill="#c0c0c0"/>
<rect x="800" y="727" width="1" height="19" fill="#c0c0c0"/>
<rect x="804" y="728" width="1" height="18" fill="#c0c0c0"/>
<rect x="808" y="729" width="1" height="17" fill="#c0c0c0"/>
<rect x="812" y="730" width="1" height="16" fill="#c0c0c0"/>
<rect x="816" y="731" width="1" height="15" fill="#c0c0c0"/>
<rect x="820" y="731" width="1" height="15" fill="#c0c0c0"/>
<rect x="824" y="731" width="1" height="15" fill="#c0c0c0"/>
<rect x="828" y="731" width="1" height="15" fill="#c0c0c0"/>
<rect x="832" y="731" width="1" height="15" fill="#c0c0c0"/>
<rect x="836" y="730" width="1" height="16" fill="#c0c0c0"/>
<rect x="840" y="731" width="1" height="15" fill="#c0c0c0"/>
<rect x="844" y="737" width="1" height="9" fill="#c0c0c0"/>
<rect x="848" y="743" width="1" height="3" fill="#c0c0c0"/>
<rect x="852" y="745" width="1" height="4" fill="#c0c0c0"/>
<rect x="856" y="745" width="1" height="7" fill="#c0c0c0"/>
<rect x="860" y="745" width="1" height="8" fill="#c0c0c0"/>
<rect x="864" y="745" width="1" height="7" fill="#c0c0c0"/>
<rect x="868" y="745" width="1" height="6" fill="#c0c0c0"/>
<rect x="872" y="745" width="1" height="4" fill="#c0c0c0"/>
<rect x="876" y="745" width="1" height="1" fill="#c0c0c0"/>
<rect x="880" y="743" width="1" height="3" fill="#c0c0c0"/>
<rect x="884" y="743" width="1" height="3" fill="#c0c0c0"/>
<rect x="888" y="744" width="1" height="2" fill="#c0c0c0"/>
<rect x="892" y="745" width="1" height="4" fill="#c0c0c0"/>
<rect x="896" y="745" width="1" height="7" fill="#c0c0c0"/>
<rect x="900" y="745" width="1" height="9" fill="#c0c0c0"/>
<rect x="904" y="745" width="1" height="11" fill="#c0c0c0"/>
<rect x="908" y="745" width="1" height="9" fill="#c0c0c0"/>
<rect x="912" y="745" width="1" height="6" fill="#c0c0c0"/>
<rect x="916" y="745" width="1" height="3" fill="#c0c0c0"/>
<rect x="920" y="744" width="1" height="2" fill="#c0c0c0"/>
<rect x="924" y="740" width="1" height="6" fill="#c0c0c0"/>
<rect x="928" y="740" width="1" height="6" fill="#c0c0c0"/>
<rect x="932" y="739" width="1" height="7" fill="#c0c0c0"/>
<rect x="936" y="742" width="1" height="4" fill="#c0c0c0"/>
<rect x="940" y="745" width="1" height="1" fill="#c0c0c0"/>
<rect x="944" y="745" width="1" height="2" fill="#c0c0c0"/>
<rect x="948" y="745" width="1" height="3" fill="#c0c0c0"/>
<rect x="952" y="745" width="1" height="5" fill="#c0c0c0"/>
<rect x="956" y="745" width="1" height="6" fill="#c0c0c0"/>
<rect x="960" y="745" width="1" height="4" fill="#c0c0c0"/>
<rect x="964" y="745" width="1" height="4" fill="#c0c0c0"/>
<rect x="968" y="745" width="1" height="1" fill="#c0c0c0"/>
<rect x="972" y="741" width="1" height="5" fill="#c0c0c0"/>
<rect x="976" y="739" width="1" height="7" fill="#c0c0c0"/>
<rect x="980" y="736" width="1" height="10" fill="#c0c0c0"/>
<rect x="984" y="734" width="1" height="12" fill="#c0c0c0"/>
<rect x="988" y="732" width="1" height="14" fill="#c0c0c0"/>
<rect x="992" y="731" width="1" height="15" fill="#c0c0c0"/>
<rect x="996" y="730" width="1" height="16" fill="#c0c0c0"/>
<rect x="1000" y="733" width="1" height="13" fill="#c0c0c0"/>
<rect x="1004" y="740" width="1" height="6" fill="#c0c0c0"/>
<rect x="1008" y="743" width="1" height="3" fill="#c0c0c0"/>
<rect x="1012" y="745" width="1" height="3" fill="#c0c0c0"/>
<rect x="1016" y="745" width="1" height="4" fill="#c0c0c0"/>
<rect x="1020" y="745" width="1" height="5" fill="#c0c0c0"/>
<rect x="1024" y="745" width="1" height="7" fill="#c0c0c0"/>
<rect x="1028" y="745" width="1" height="10" fill="#c0c0c0"/>
<rect x="1032" y="745" width="1" height="12" fill="#c0c0c0"/>
<rect x="1036" y="745" width="1" height="13" fill="#c0c0c0"/>
<rect x="1040" y="745" width="1" height="16" fill="#c0c0c0"/>
<rect x="1044" y="745" width="1" height="17" fill="#c0c0c0"/>
<rect x="1048" y="745" width="1" height="18" fill="#c0c0c0"/>
<rect x="1052" y="745" width="1" height="21" fill="#c0c0c0"/>
<rect x="1056" y="745" width="1" height="23" fill="#c0c0c0"/>
<rect x="1060" y="745" width="1" height="25" fill="#c0c0c0"/>
<rect x="1064" y="745" width="1" height="25" fill="#c0c0c0"/>
<rect x="1068" y="745" width="1" height="24" fill="#c0c0c0"/>
<rect x="1072" y="745" width="1" height="23" fill="#c0c0c0"/>
<rect x="1076" y="745" width="1" height="23" fill="#c0c0c0"/>
<rect x="1080" y="745" width="1" height="24" fill="#c0c0c0"/>
<rect x="1084" y="745" width="1" height="23" fill="#c0c0c0"/>
<rect x="1088" y="745" width="1" height="25" fill="#c0c0c0"/>
<rect x="1092" y="745" width="1" height="28" fill="#c0c0c0"/>
<rect x="1096" y="745" width="1" height="32" fill="#c0c0c0"/>
<rect x="1100" y="745" width="1" height="36" fill="#c0c0c0"/>
<rect x="1104" y="745" width="1" height="39" fill="#c0c0c0"/>
<rect x="1108" y="745" width="1" height="40" fill="#c0c0c0"/>
<rect x="1112" y="745" width="1" height="39" fill="#c0c0c0"/>
<rect x="1116" y="745" width="1" height="37" fill="#c0c0c0"/>
<rect x="1120" y="745" width="1" height="37" fill="#c0c0c0"/>
<rect x="1124" y="745" width="1" height="35" fill="#c0c0c0"/>
<rect x="1128" y="745" width="1" height="34" fill="#c0c0c0"/>
<rect x="1132" y="745" width="1" height="31" fill="#c0c0c0"/>
<rect x="1136" y="745" width="1" height="28" fill="#c0c0c0"/>
<rect x="1140" y="745" width="1" height="27" fill="#c0c0c0"/>
<rect x="1144" y="745" width="1" height="25" fill="#c0c0c0"/>
<rect x="1148" y="745" width="1" height="26" fill="#c0c0c0"/>
<rect x="1152" y="745" width="1" height="28" fill="#c0c0c0"/>
<rect x="1156" y="745" width="1" height="30" fill="#c0c0c0"/>
<rect x="1160" y="745" width="1" height="29" fill="#c0c0c0"/>
<rect x="1164" y="745" width="1" height="28" fill="#c0c0c0"/>
<rect x="1168" y="745" width="1" height="26" fill="#c0c0c0"/>
<rect x="1172" y="745" width="1" height="25" fill="#c0c0c0"/>
<rect x="1176" y="745" width="1" height="22" fill="#c0c0c0"/>
<rect x="1180" y="745" width="1" height="21" fill="#c0c0c0"/>
<rect x="1184" y="745" width="1" height="18" fill="#c0c0c0"/>
<rect x="1188" y="745" width="1" height="16" fill="#c0c0c0"/>
<rect x="1192" y="745" width="1" height="15" fill="#c0c0c0"/>
<rect x="1196" y="745" width="1" height="12" fill="#c0c0c0"/>
<rect x="1200" y="745" width="1" height="8" fill="#c0c0c0"/>
<rect x="1204" y="745" width="1" height="9" fill="#c0c0c0"/>
<rect x="1208" y="745" width="1" height="12" fill="#c0c0c0"/>
<rect x="1212" y="745" width="1" height="15" fill="#c0c0c0"/>
<rect x="1216" y="745" width="1" height="15" fill="#c0c0c0"/>
<rect x="1220" y="745" width="1" height="13" fill="#c0c0c0"/>
<rect x="1224" y="745" width="1" height="10" fill="#c0c0c0"/>
<rect x="1228" y="745" width="1" height="6" fill="#c0c0c0"/>
<rect x="1232" y="745" width="1" height="2" fill="#c0c0c0"/>
<rect x="1236" y="742" width="1" height="4" fill="#c0c0c0"/>
<rect x="1240" y="739" width="1" height="7" fill="#c0c0c0"/>
<rect x="1244" y="737" width="1" height="9" fill="#c0c0c0"/>
<rect x="1248" y="736" width="1" height="10" fill="#c0c0c0"/>
<rect x="1252" y="734" width="1" height="12" fill="#c0c0c0"/>
<rect x="1256" y="731" width="1" height="15" fill="#c0c0c0"/>
<rect x="1260" y="728" width="1" height="18" fill="#c0c0c0"/>
<rect x="1264" y="726" width="1" height="20" fill="#c0c0c0"/>
<rect x="1268" y="725" width="1" height="21" fill="#c0c0c0"/>
<rect x="1272" y="723" width="1" height="23" fill="#c0c0c0"/>
<rect x="1276" y="723" width="1" height="23" fill="#c0c0c0"/>
<rect x="1280" y="725" width="1" height="21" fill="#c0c0c0"/>
<rect x="1284" y="728" width="1" height="18" fill="#c0c0c0"/>
<rect x="1288" y="730" width="1" height="16" fill="#c0c0c0"/>
<rect x="1292" y="732" width="1" height="14" fill="#c0c0c0"/>
<rect x="1296" y="734" width="1" height="12" fill="#c0c0c0"/>
<rect x="1300" y="737" width="1" height="9" fill="#c0c0c0"/>
<path d="M0 725h1v1h-1zM1 724h1v1h-1zM2 724h1v1h-1zM6 722h1v1h-1zM7 721h1v1h-1zM8 721h1v1h-1zM12 720h1v1h-1zM13 720h1v1h-1zM14 719h1v1h-1zM18 718h1v1h-1zM19 718h1v1h-1zM20 718h1v1h-1zM24 718h1v1h-1zM25 718h1v1h-1zM26 719h1v1h-1zM30 720h1v1h-1zM31 720h1v1h-1zM32 720h1v1h-1zM36 722h1v1h-1zM37 723h1v1h-1zM38 723h1v1h-1zM42 725h1v1h-1zM43 726h1v1h-1zM44 726h1v1h-1zM48 729h1v1h-1zM49 730h1v1h-1zM50 730h1v1h-1zM54 733h1v1h-1zM55 733h1v1h-1zM56 734h1v1h-1zM60 736h1v1h-1zM61 737h1v1h-1zM62 737h1v1h-1zM66 739h1v1h-1zM67 739h1v1h-1zM68 739h1v1h-1zM72 739h1v1h-1zM73 739h1v1h-1zM74 739h1v1h-1zM78 739h1v1h-1zM79 739h1v1h-1zM80 739h1v1h-1zM84 738h1v1h-1zM85 738h1v1h-1zM86 737h1v1h-1zM90 736h1v1h-1zM91 735h1v1h-1zM92 735h1v1h-1zM96 734h1v1h-1zM97 733h1v1h-1zM98 733h1v1h-1zM102 731h1v1h-1zM103 731h1v1h-1zM104 731h1v1h-1zM108 731h1v1h-1zM109 731h1v1h-1zM110 731h1v1h-1zM114 732h1v1h-1zM115 732h1v1h-1zM116 732h1v1h-1zM120 734h1v1h-1zM121 735h1v1h-1zM122 735h1v1h-1zM126 738h1v1h-1zM127 738h1v1h-1zM128 739h1v1h-1zM132 742h1v1h-1zM133 743h1v1h-1zM134 744h1v1h-1zM138 748h1v1h-1zM139 748h1v1h-1zM140 749h1v1h-1zM144 752h1v1h-1zM145 753h1v1h-1zM146 753h1v1h-1zM150 755h1v1h-1zM151 756h1v1h-1zM152 756h1v1h-1zM156 758h1v1h-1zM157 758h1v1h-1zM158 758h1v1h-1zM162 759h1v1h-1zM163 759h1v1h-1zM164 759h1v1h-1zM168 758h1v1h-1zM169 758h1v1h-1zM170 757h1v1h-1zM174 756h1v1h-1zM175 756h1v1h-1zM176 756h1v1h-1zM180 755h1v1h-1zM181 754h1v1h-1zM182 754h1v1h-1zM186 752h1v1h-1zM187 752h1v1h-1zM188 752h1v1h-1zM192 750h1v1h-1zM193 749h1v1h-1zM194 749h1v1h-1zM198 747h1v1h-1zM199 747h1v1h-1zM200 747h1v1h-1zM204 745h1v1h-1zM205 745h1v1h-1zM206 744h1v1h-1zM210 743h1v1h-1zM211 742h1v1h-1zM212 742h1v1h-1zM216 740h1v1h-1zM217 739h1v1h-1zM218 739h1v1h-1zM222 736h1v1h-1zM223 736h1v1h-1zM224 735h1v1h-1zM228 732h1v1h-1zM229 731h1v1h-1zM230 730h1v1h-1zM234 727h1v1h-1zM235 727h1v1h-1zM236 726h1v1h-1zM240 722h1v1h-1zM241 721h1v1h-1zM242 720h1v1h-1zM246 717h1v1h-1zM247 716h1v1h-1zM248 715h1v1h-1zM252 713h1v1h-1zM253 712h1v1h-1zM254 711h1v1h-1zM258 709h1v1h-1zM259 709h1v1h-1zM260 709h1v1h-1zM264 708h1v1h-1zM265 708h1v1h-1zM266 708h1v1h-1zM270 708h1v1h-1zM271 708h1v1h-1zM272 708h1v1h-1zM276 709h1v1h-1zM277 709h1v1h-1zM278 710h1v1h-1zM282 711h1v1h-1zM283 711h1v1h-1zM284 711h1v1h-1zM288 713h1v1h-1zM289 713h1v1h-1zM290 714h1v1h-1zM294 716h1v1h-1zM295 716h1v1h-1zM296 717h1v1h-1zM300 719h1v1h-1zM301 720h1v1h-1zM302 721h1v1h-1zM306 724h1v1h-1zM307 724h1v1h-1zM308 725h1v1h-1zM312 728h1v1h-1zM313 729h1v1h-1zM314 730h1v1h-1zM318 733h1v1h-1zM319 734h1v1h-1zM320 735h1v1h-1zM324 738h1v1h-1zM325 739h1v1h-1zM326 740h1v1h-1zM330 742h1v1h-1zM331 743h1v1h-1zM332 743h1v1h-1zM336 745h1v1h-1zM337 746h1v1h-1zM338 746h1v1h-1zM342 748h1v1h-1zM343 749h1v1h-1zM344 749h1v1h-1zM348 751h1v1h-1zM349 752h1v1h-1zM350 752h1v1h-1zM354 754h1v1h-1zM355 754h1v1h-1zM356 754h1v1h-1zM360 756h1v1h-1zM361 756h1v1h-1zM362 757h1v1h-1zM366 758h1v1h-1zM367 758h1v1h-1zM368 758h1v1h-1zM372 759h1v1h-1zM373 759h1v1h-1zM374 760h1v1h-1zM378 761h1v1h-1zM379 761h1v1h-1zM380 761h1v1h-1zM384 763h1v1h-1zM385 764h1v1h-1zM386 764h1v1h-1zM390 766h1v1h-1zM391 767h1v1h-1zM392 767h1v1h-1zM396 770h1v1h-1zM397 771h1v1h-1zM398 772h1v1h-1zM402 776h1v1h-1zM403 776h1v1h-1zM404 777h1v1h-1zM408 779h1v1h-1zM409 780h1v1h-1zM410 780h1v1h-1zM414 781h1v1h-1zM415 781h1v1h-1zM416 781h1v1h-1zM420 781h1v1h-1zM421 781h1v1h-1zM422 780h1v1h-1zM426 778h1v1h-1zM427 778h1v1h-1zM428 777h1v1h-1zM432 775h1v1h-1zM433 774h1v1h-1zM434 774h1v1h-1zM438 772h1v1h-1zM439 772h1v1h-1zM440 772h1v1h-1zM444 772h1v1h-1zM445 772h1v1h-1zM446 773h1v1h-1zM450 774h1v1h-1zM451 775h1v1h-1zM452 775h1v1h-1zM456 779h1v1h-1zM457 780h1v1h-1zM458 781h1v1h-1zM462 784h1v1h-1zM463 785h1v1h-1zM464 786h1v1h-1zM468 790h1v1h-1zM469 791h1v1h-1zM470 791h1v1h-1zM474 793h1v1h-1zM475 793h1v1h-1zM476 793h1v1h-1zM480 792h1v1h-1zM481 791h1v1h-1zM482 791h1v1h-1zM486 788h1v1h-1zM487 788h1v1h-1zM488 787h1v1h-1zM492 783h1v1h-1zM493 782h1v1h-1zM494 781h1v1h-1zM497 777h1v1h-1zM498 775h1v2h-1zM502 770h1v2h-1zM503 769h1v1h-1zM506 765h1v1h-1zM507 764h1v1h-1zM508 763h1v1h-1zM512 759h1v1h-1zM513 758h1v1h-1zM514 757h1v1h-1zM518 755h1v1h-1zM519 754h1v1h-1zM520 754h1v1h-1zM524 752h1v1h-1zM525 752h1v1h-1zM526 751h1v1h-1zM530 751h1v1h-1zM531 751h1v1h-1zM532 751h1v1h-1zM536 751h1v1h-1zM537 751h1v1h-1zM538 751h1v1h-1zM542 752h1v1h-1zM543 752h1v1h-1zM544 752h1v1h-1zM548 753h1v1h-1zM549 753h1v1h-1zM550 753h1v1h-1zM554 753h1v1h-1zM555 753h1v1h-1zM556 753h1v1h-1zM560 752h1v1h-1zM561 752h1v1h-1zM562 751h1v1h-1zM566 750h1v1h-1zM567 750h1v1h-1zM568 750h1v1h-1zM572 749h1v1h-1zM573 748h1v1h-1zM574 748h1v1h-1zM578 746h1v1h-1zM579 745h1v1h-1zM580 745h1v1h-1zM584 743h1v1h-1zM585 743h1v1h-1zM586 742h1v1h-1zM590 743h1v1h-1zM591 743h1v1h-1zM592 743h1v1h-1zM596 744h1v1h-1zM597 745h1v1h-1zM598 746h1v1h-1zM602 749h1v1h-1zM603 749h1v1h-1zM604 750h1v1h-1zM608 753h1v1h-1zM609 754h1v1h-1zM610 755h1v1h-1zM614 759h1v2h-1zM615 761h1v1h-1zM619 765h1v1h-1zM620 766h1v1h-1zM621 767h1v1h-1zM625 770h1v1h-1zM626 770h1v1h-1zM627 771h1v1h-1zM631 772h1v1h-1zM632 772h1v1h-1zM633 772h1v1h-1zM637 773h1v1h-1zM638 772h1v1h-1zM639 772h1v1h-1zM643 771h1v1h-1zM644 771h1v1h-1zM645 770h1v1h-1zM649 768h1v1h-1zM650 767h1v1h-1zM651 767h1v1h-1zM655 764h1v1h-1zM656 764h1v1h-1zM657 763h1v1h-1zM661 761h1v1h-1zM662 761h1v1h-1zM663 760h1v1h-1zM667 758h1v1h-1zM668 758h1v1h-1zM669 757h1v1h-1zM673 755h1v1h-1zM674 755h1v1h-1zM675 754h1v1h-1zM679 752h1v1h-1zM680 752h1v1h-1zM681 751h1v1h-1zM685 749h1v1h-1zM686 748h1v1h-1zM687 748h1v1h-1zM691 745h1v1h-1zM692 745h1v1h-1zM693 744h1v1h-1zM697 741h1v1h-1zM698 741h1v1h-1zM699 740h1v1h-1zM703 738h1v1h-1zM704 737h1v1h-1zM705 736h1v1h-1zM709 734h1v1h-1zM710 734h1v1h-1zM711 733h1v1h-1zM715 732h1v1h-1zM716 732h1v1h-1zM717 731h1v1h-1zM721 730h1v1h-1zM722 730h1v1h-1zM723 730h1v1h-1zM727 729h1v1h-1zM728 729h1v1h-1zM729 729h1v1h-1zM733 729h1v1h-1zM734 728h1v1h-1zM735 728h1v1h-1zM739 727h1v1h-1zM740 727h1v1h-1zM741 727h1v1h-1zM745 726h1v1h-1zM746 725h1v1h-1zM747 725h1v1h-1zM751 725h1v1h-1zM752 725h1v1h-1zM753 725h1v1h-1zM757 725h1v1h-1zM758 725h1v1h-1zM759 725h1v1h-1zM763 726h1v1h-1zM764 726h1v1h-1zM765 726h1v1h-1zM769 727h1v1h-1zM770 727h1v1h-1zM771 727h1v1h-1zM775 728h1v1h-1zM776 728h1v1h-1zM777 728h1v1h-1zM781 729h1v1h-1zM782 730h1v1h-1zM783 730h1v1h-1zM787 731h1v1h-1zM788 731h1v1h-1zM789 731h1v1h-1zM793 731h1v1h-1zM794 731h1v1h-1zM795 731h1v1h-1zM799 730h1v1h-1zM800 730h1v1h-1zM801 730h1v1h-1zM805 730h1v1h-1zM806 730h1v1h-1zM807 730h1v1h-1zM811 729h1v1h-1zM812 729h1v1h-1zM813 729h1v1h-1zM817 729h1v1h-1zM818 729h1v1h-1zM819 729h1v1h-1zM823 729h1v1h-1zM824 729h1v1h-1zM825 729h1v1h-1zM829 729h1v1h-1zM830 730h1v1h-1zM831 730h1v1h-1zM835 730h1v1h-1zM836 730h1v1h-1zM837 730h1v1h-1zM841 731h1v1h-1zM842 731h1v1h-1zM843 731h1v1h-1zM847 733h1v1h-1zM848 733h1v1h-1zM849 734h1v1h-1zM853 736h1v1h-1zM854 736h1v1h-1zM855 737h1v1h-1zM859 739h1v1h-1zM860 739h1v1h-1zM861 740h1v1h-1zM865 743h1v1h-1zM866 743h1v1h-1zM867 744h1v1h-1zM871 746h1v1h-1zM872 746h1v1h-1zM873 746h1v1h-1zM877 747h1v1h-1zM878 748h1v1h-1zM879 748h1v1h-1zM883 748h1v1h-1zM884 748h1v1h-1zM885 748h1v1h-1zM889 747h1v1h-1zM890 747h1v1h-1zM891 747h1v1h-1zM895 747h1v1h-1zM896 747h1v1h-1zM897 747h1v1h-1zM901 747h1v1h-1zM902 748h1v1h-1zM903 748h1v1h-1zM907 748h1v1h-1zM908 748h1v1h-1zM909 748h1v1h-1zM913 749h1v1h-1zM914 749h1v1h-1zM915 749h1v1h-1zM919 749h1v1h-1zM920 749h1v1h-1zM921 749h1v1h-1zM925 749h1v1h-1zM926 748h1v1h-1zM927 748h1v1h-1zM931 747h1v1h-1zM932 747h1v1h-1zM933 747h1v1h-1zM937 745h1v1h-1zM938 745h1v1h-1zM939 744h1v1h-1zM943 744h1v1h-1zM944 744h1v1h-1zM945 744h1v1h-1zM949 743h1v1h-1zM950 744h1v1h-1zM951 744h1v1h-1zM955 744h1v1h-1zM956 744h1v1h-1zM957 744h1v1h-1zM961 745h1v1h-1zM962 746h1v1h-1zM963 746h1v1h-1zM967 747h1v1h-1zM968 747h1v1h-1zM969 747h1v1h-1zM973 747h1v1h-1zM974 746h1v1h-1zM975 746h1v1h-1zM979 745h1v1h-1zM980 745h1v1h-1zM981 744h1v1h-1zM985 742h1v1h-1zM986 742h1v1h-1zM987 741h1v1h-1zM991 739h1v1h-1zM992 739h1v1h-1zM993 738h1v1h-1zM997 737h1v1h-1zM998 736h1v1h-1zM999 736h1v1h-1zM1003 735h1v1h-1zM1004 735h1v1h-1zM1005 735h1v1h-1zM1009 735h1v1h-1zM1010 736h1v1h-1zM1011 736h1v1h-1zM1015 737h1v1h-1zM1016 737h1v1h-1zM1017 738h1v1h-1zM1021 740h1v1h-1zM1022 740h1v1h-1zM1023 741h1v1h-1zM1027 743h1v1h-1zM1028 744h1v1h-1zM1029 745h1v1h-1zM1033 748h1v1h-1zM1034 748h1v1h-1zM1035 749h1v1h-1zM1039 751h1v1h-1zM1040 752h1v1h-1zM1041 752h1v1h-1zM1045 754h1v1h-1zM1046 754h1v1h-1zM1047 755h1v1h-1zM1051 757h1v1h-1zM1052 757h1v1h-1zM1053 758h1v1h-1zM1057 760h1v1h-1zM1058 760h1v1h-1zM1059 761h1v1h-1zM1063 763h1v1h-1zM1064 763h1v1h-1zM1065 763h1v1h-1zM1069 764h1v1h-1zM1070 765h1v1h-1zM1071 765h1v1h-1zM1075 766h1v1h-1zM1076 766h1v1h-1zM1077 766h1v1h-1zM1081 767h1v1h-1zM1082 767h1v1h-1zM1083 767h1v1h-1zM1087 768h1v1h-1zM1088 768h1v1h-1zM1089 768h1v1h-1zM1093 768h1v1h-1zM1094 769h1v1h-1zM1095 769h1v1h-1zM1099 770h1v1h-1zM1100 770h1v1h-1zM1101 771h1v1h-1zM1105 773h1v1h-1zM1106 773h1v1h-1zM1107 774h1v1h-1zM1111 776h1v1h-1zM1112 776h1v1h-1zM1113 776h1v1h-1zM1117 778h1v1h-1zM1118 778h1v1h-1zM1119 779h1v1h-1zM1123 780h1v1h-1zM1124 780h1v1h-1zM1125 780h1v1h-1zM1129 781h1v1h-1zM1130 780h1v1h-1zM1131 780h1v1h-1zM1135 780h1v1h-1zM1136 780h1v1h-1zM1137 779h1v1h-1zM1141 778h1v1h-1zM1142 777h1v1h-1zM1143 777h1v1h-1zM1147 775h1v1h-1zM1148 775h1v1h-1zM1149 775h1v1h-1zM1153 774h1v1h-1zM1154 773h1v1h-1zM1155 773h1v1h-1zM1159 773h1v1h-1zM1160 773h1v1h-1zM1161 773h1v1h-1zM1165 772h1v1h-1zM1166 771h1v1h-1zM1167 771h1v1h-1zM1171 771h1v1h-1zM1172 771h1v1h-1zM1173 771h1v1h-1zM1177 771h1v1h-1zM1178 770h1v1h-1zM1179 770h1v1h-1zM1183 769h1v1h-1zM1184 769h1v1h-1zM1185 769h1v1h-1zM1189 767h1v1h-1zM1190 767h1v1h-1zM1191 766h1v1h-1zM1195 764h1v1h-1zM1196 764h1v1h-1zM1197 763h1v1h-1zM1201 761h1v1h-1zM1202 761h1v1h-1zM1203 760h1v1h-1zM1207 759h1v1h-1zM1208 759h1v1h-1zM1209 759h1v1h-1zM1213 758h1v1h-1zM1214 757h1v1h-1zM1215 757h1v1h-1zM1219 757h1v1h-1zM1220 757h1v1h-1zM1221 757h1v1h-1zM1225 756h1v1h-1zM1226 755h1v1h-1zM1227 755h1v1h-1zM1231 754h1v1h-1zM1232 754h1v1h-1zM1233 754h1v1h-1zM1237 752h1v1h-1zM1238 752h1v1h-1zM1239 751h1v1h-1zM1243 749h1v1h-1zM1244 749h1v1h-1zM1245 748h1v1h-1zM1249 746h1v1h-1zM1250 745h1v1h-1zM1251 745h1v1h-1zM1255 742h1v1h-1zM1256 741h1v1h-1zM1257 740h1v1h-1zM1261 737h1v1h-1zM1262 736h1v1h-1zM1263 736h1v1h-1zM1267 733h1v1h-1zM1268 733h1v1h-1zM1269 732h1v1h-1zM1273 730h1v1h-1zM1274 730h1v1h-1zM1275 729h1v1h-1zM1279 728h1v1h-1zM1280 728h1v1h-1zM1281 728h1v1h-1zM1285 727h1v1h-1zM1286 727h1v1h-1zM1287 727h1v1h-1zM1291 727h1v1h-1zM1292 727h1v1h-1zM1293 727h1v1h-1zM1297 728h1v1h-1zM1298 728h1v1h-1zM1299 729h1v1h-1z" fill="#ff0000" shape-rendering="crispEdges"/>
<text x="4.00" y="712" font-size="9.9" fill="#000" textLength="147.00" lengthAdjust="spacingAndGlyphs" xml:space="preserve" stroke="#000" stroke-width="0.15" >MACD(12,26,9) 0.001152 0.002238</text>
<rect x="1637" y="701" width="1" height="1" fill="#000"/>
<text x="1640.00" y="710" font-size="9.9" fill="#000" textLength="38.00" lengthAdjust="spacingAndGlyphs" xml:space="preserve" stroke="#000" stroke-width="0.15" >0.005986</text>
<rect x="1637" y="745" width="2" height="1" fill="#000"/>
<text x="1640.00" y="749" font-size="9.9" fill="#000" textLength="18.00" lengthAdjust="spacingAndGlyphs" xml:space="preserve" stroke="#000" stroke-width="0.15" >0.00</text>
<rect x="1637" y="801" width="1" height="1" fill="#000"/>
<text x="1640.00" y="799" font-size="9.9" fill="#000" textLength="41.00" lengthAdjust="spacingAndGlyphs" xml:space="preserve" stroke="#000" stroke-width="0.15" >-0.007737</text>
<rect x="0" y="803" width="1" height="3" fill="#000"/>
<text x="-1.30" y="815" font-size="9.9" fill="#000" textLength="53.30" lengthAdjust="spacingAndGlyphs" xml:space="preserve" stroke="#000" stroke-width="0.15" >13 Feb 2019</text>
<rect x="64" y="803" width="1" height="3" fill="#000"/>
<text x="62.70" y="815" font-size="9.9" fill="#000" textLength="48.17" lengthAdjust="spacingAndGlyphs" xml:space="preserve" stroke="#000" stroke-width="0.15" >4 Mar 2019</text>
<rect x="128" y="803" width="1" height="3" fill="#000"/>
<text x="126.70" y="815" font-size="9.9" fill="#000" textLength="53.30" lengthAdjust="spacingAndGlyphs" xml:space="preserve" stroke="#000" stroke-width="0.15" >22 Mar 2019</text>
<rect x="192" y="803" width="1" height="3" fill="#000"/>
<text x="190.70" y="815" font-size="9.9" fill="#000" textLength="51.25" lengthAdjust="spacingAndGlyphs" xml:space="preserve" stroke="#000" stroke-width="0.15" >10 Apr 2019</text>
<rect x="256" y="803" width="1" height="3" fill="#000"/>
<text x="254.70" y="815" font-size="9.9" fill="#000" textLength="51.25" lengthAdjust="spacingAndGlyphs" xml:space="preserve" stroke="#000" stroke-width="0.15" >29 Apr 2019</text>
<rect x="320" y="803" width="1" height="3" fill="#000"/>
<text x="318.70" y="815" font-size="9.9" fill="#000" textLength="55.35" lengthAdjust="spacingAndGlyphs" xml:space="preserve" stroke="#000" stroke-width="0.15" >17 May 2019</text>
<rect x="384" y="803" width="1" height="3" fill="#000"/>
<text x="382.70" y="815" font-size="9.9" fill="#000" textLength="47.15" lengthAdjust="spacingAndGlyphs" xml:space="preserve" stroke="#000" stroke-width="0.15" >5 Jun 2019</text>
<rect x="448" y="803" width="1" height="3" fill="#000"/>
<text x="446.70" y="815" font-size="9.9" fill="#000" textLength="52.27" lengthAdjust="spacingAndGlyphs" xml:space="preserve" stroke="#000" stroke-width="0.15" >24 Jun 2019</text>
<rect x="512" y="803" width="1" height="3" fill="#000"/>
<text x="510.70" y="815" font-size="9.9" fill="#000" textLength="49.20" lengthAdjust="spacingAndGlyphs" xml:space="preserve" stroke="#000" stroke-width="0.15" >12 Jul 2019</text>
<rect x="576" y="803" width="1" height="3" fill="#000"/>
<text x="574.70" y="815" font-size="9.9" fill="#000" textLength="49.20" lengthAdjust="spacingAndGlyphs" xml:space="preserve" stroke="#000" stroke-width="0.15" >31 Jul 2019</text>
<rect x="640" y="803" width="1" height="3" fill="#000"/>
<text x="638.70" y="815" font-size="9.9" fill="#000" textLength="53.30" lengthAdjust="spacingAndGlyphs" xml:space="preserve" stroke="#000" stroke-width="0.15" >19 Aug 2019</text>
<rect x="704" y="803" width="1" height="3" fill="#000"/>
<text x="702.70" y="815" font-size="9.9" fill="#000" textLength="48.17" lengthAdjust="spacingAndGlyphs" xml:space="preserve" stroke="#000" stroke-width="0.15" >6 Sep 2019</text>
<rect x="768" y="803" width="1" height="3" fill="#000"/>
<text x="766.70" y="815" font-size="9.9" fill="#000" textLength="53.30" lengthAdjust="spacingAndGlyphs" xml:space="preserve" stroke="#000" stroke-width="0.15" >25 Sep 2019</text>
<rect x="832" y="803" width="1" height="3" fill="#000"/>
<text x="830.70" y="815" font-size="9.9" fill="#000" textLength="52.27" lengthAdjust="spacingAndGlyphs" xml:space="preserve" stroke="#000" stroke-width="0.15" >14 Oct 2019</text>
<rect x="896" y="803" width="1" height="3" fill="#000"/>
<text x="894.70" y="815" font-size="9.9" fill="#000" textLength="49.20" lengthAdjust="spacingAndGlyphs" xml:space="preserve" stroke="#000" stroke-width="0.15" >1 Nov 2019</text>
<rect x="960" y="803" width="1" height="3" fill="#000"/>
<text x="958.70" y="815" font-size="9.9" fill="#000" textLength="54.32" lengthAdjust="spacingAndGlyphs" xml:space="preserve" stroke="#000" stroke-width="0.15" >20 Nov 2019</text>
<rect x="1024" y="803" width="1" height="3" fill="#000"/>
<text x="1022.70" y="815" font-size="9.9" fill="#000" textLength="49.20" lengthAdjust="spacingAndGlyphs" xml:space="preserve" stroke="#000" stroke-width="0.15" >9 Dec 2019</text>
<rect x="1088" y="803" width="1" height="3" fill="#000"/>
<text x="1086.70" y="815" font-size="9.9" fill="#000" textLength="54.32" lengthAdjust="spacingAndGlyphs" xml:space="preserve" stroke="#000" stroke-width="0.15" >27 Dec 2019</text>
<rect x="1152" y="803" width="1" height="3" fill="#000"/>
<text x="1150.70" y="815" font-size="9.9" fill="#000" textLength="52.27" lengthAdjust="spacingAndGlyphs" xml:space="preserve" stroke="#000" stroke-width="0.15" >15 Jan 2020</text>
<rect x="1216" y="803" width="1" height="3" fill="#000"/>
<text x="1214.70" y="815" font-size="9.9" fill="#000" textLength="48.17" lengthAdjust="spacingAndGlyphs" xml:space="preserve" stroke="#000" stroke-width="0.15" >3 Feb 2020</text>
<rect x="1280" y="803" width="1" height="3" fill="#000"/>
<text x="1278.70" y="815" font-size="9.9" fill="#000" textLength="53.30" lengthAdjust="spacingAndGlyphs" xml:space="preserve" stroke="#000" stroke-width="0.15" >21 Feb 2020</text>
<rect x="0" y="823" width="1681" height="1" fill="#e6e6e6"/>
<rect x="0" y="826" width="1681" height="19" fill="#f0f0f0"/>
<rect x="0" y="845" width="1681" height="2" fill="#fbfbfb"/>
<rect x="0" y="825" width="1681" height="1" fill="#000"/>
<rect x="106" y="825" width="98" height="18" fill="#fff"/>
<rect x="105" y="825" width="1" height="19" fill="#000"/>
<rect x="204" y="825" width="1" height="19" fill="#000"/>
<rect x="105" y="843" width="100" height="1" fill="#000"/>
<text x="13.30" y="840" font-size="13" fill="#6a6a6a" textLength="80.68" lengthAdjust="spacingAndGlyphs" xml:space="preserve" stroke="#6a6a6a" stroke-width="0" >EURUSD,Daily</text>
<text x="115.30" y="840" font-size="13" fill="#000" textLength="78.67" lengthAdjust="spacingAndGlyphs" xml:space="preserve" stroke="#000" stroke-width="0.1" >USDCHF,Daily</text>
<text x="216.30" y="840" font-size="13" fill="#6a6a6a" textLength="69.35" lengthAdjust="spacingAndGlyphs" xml:space="preserve" stroke="#6a6a6a" stroke-width="0" >AUDUSD,H4</text>
<text x="308.30" y="840" font-size="13" fill="#6a6a6a" textLength="80.68" lengthAdjust="spacingAndGlyphs" xml:space="preserve" stroke="#6a6a6a" stroke-width="0" >USDCAD,Daily</text>
<text x="411.70" y="840" font-size="13" fill="#6a6a6a" textLength="81.34" lengthAdjust="spacingAndGlyphs" xml:space="preserve" stroke="#6a6a6a" stroke-width="0" >USDCNH,Daily</text>
<text x="516.70" y="840" font-size="13" fill="#6a6a6a" textLength="80.68" lengthAdjust="spacingAndGlyphs" xml:space="preserve" stroke="#6a6a6a" stroke-width="0" >EURUSD,Daily</text>
<text x="621.00" y="840" font-size="13" fill="#6a6a6a" textLength="80.68" lengthAdjust="spacingAndGlyphs" xml:space="preserve" stroke="#6a6a6a" stroke-width="0" >GBPUSD,Daily</text>
<text x="724.00" y="840" font-size="13" fill="#6a6a6a" textLength="68.68" lengthAdjust="spacingAndGlyphs" xml:space="preserve" stroke="#6a6a6a" stroke-width="0" >XAUUSD,H1</text>
<text x="816.00" y="840" font-size="13" fill="#6a6a6a" textLength="48.69" lengthAdjust="spacingAndGlyphs" xml:space="preserve" stroke="#6a6a6a" stroke-width="0" >HK50,H1</text>
<text x="888.30" y="840" font-size="13" fill="#6a6a6a" textLength="66.70" lengthAdjust="spacingAndGlyphs" xml:space="preserve" stroke="#6a6a6a" stroke-width="0" >UK100,Daily</text>
<rect x="297" y="828" width="1" height="14" fill="#808080"/>
<rect x="401" y="828" width="1" height="14" fill="#808080"/>
<rect x="505" y="828" width="1" height="14" fill="#808080"/>
<rect x="609" y="828" width="1" height="14" fill="#808080"/>
<rect x="713" y="828" width="1" height="14" fill="#808080"/>
<rect x="805" y="828" width="1" height="14" fill="#808080"/>
<rect x="877" y="828" width="1" height="14" fill="#808080"/>
<rect x="969" y="828" width="1" height="14" fill="#808080"/>
<path d="M1655.5 830.3 L1651.7 834 L1655.5 837.7 Z" fill="#9a9a9a" shape-rendering="geometricPrecision"/>
<path d="M1671 830.3 L1674.8 834 L1671 837.7 Z" fill="#9a9a9a" shape-rendering="geometricPrecision"/>
</svg>
</body></html>
